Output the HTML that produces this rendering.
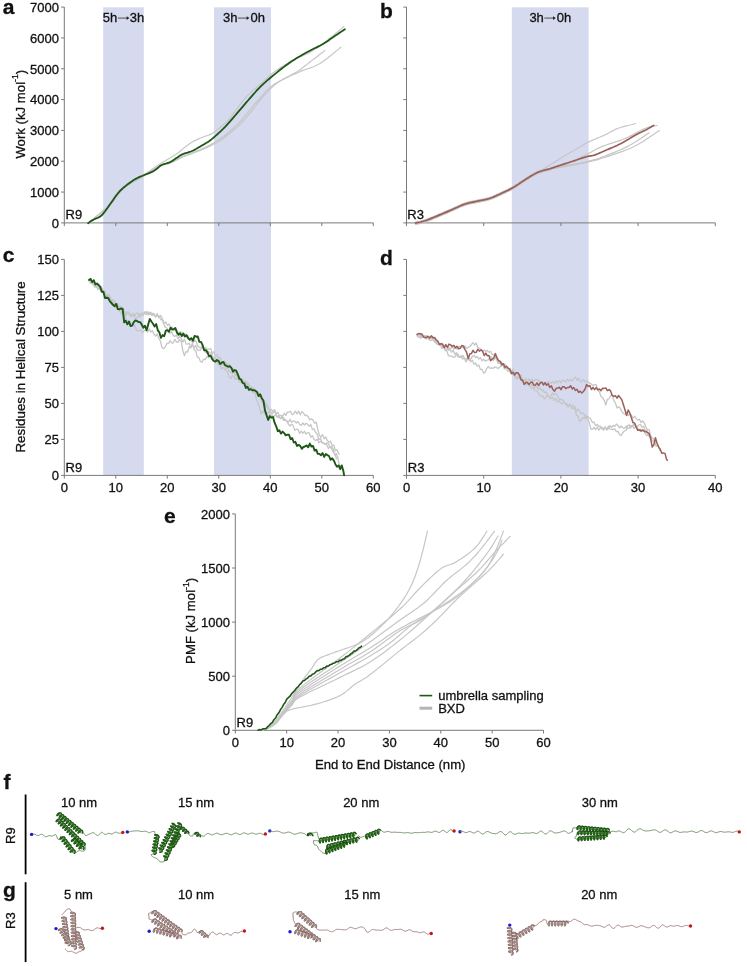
<!DOCTYPE html>
<html><head><meta charset="utf-8"><title>Figure</title>
<style>
html,body{margin:0;padding:0;background:#fff;}
body{width:747px;height:966px;overflow:hidden;}
svg{display:block;font-family:"Liberation Sans", sans-serif;fill:#000;will-change:transform;}
text{fill:#111;stroke:#111;stroke-width:0.3px;}
</style></head><body>
<svg width="747" height="966" viewBox="0 0 747 966">
<rect x="103.2" y="7.3" width="40.6" height="468.1" fill="#d6daee"/>
<rect x="214.0" y="7.3" width="57.0" height="468.1" fill="#d6daee"/>
<rect x="511.8" y="7.3" width="76.8" height="468.1" fill="#d6daee"/>
<line x1="64.3" y1="7.0" x2="64.3" y2="226.1" stroke="#7a7a7a" stroke-width="1"/>
<line x1="61.099999999999994" y1="222.9" x2="373.3" y2="222.9" stroke="#7a7a7a" stroke-width="1"/>
<line x1="61.099999999999994" y1="192.07" x2="64.3" y2="192.07" stroke="#7a7a7a" stroke-width="1"/>
<line x1="61.099999999999994" y1="161.24" x2="64.3" y2="161.24" stroke="#7a7a7a" stroke-width="1"/>
<line x1="61.099999999999994" y1="130.41000000000003" x2="64.3" y2="130.41000000000003" stroke="#7a7a7a" stroke-width="1"/>
<line x1="61.099999999999994" y1="99.58000000000001" x2="64.3" y2="99.58000000000001" stroke="#7a7a7a" stroke-width="1"/>
<line x1="61.099999999999994" y1="68.75000000000003" x2="64.3" y2="68.75000000000003" stroke="#7a7a7a" stroke-width="1"/>
<line x1="61.099999999999994" y1="37.920000000000016" x2="64.3" y2="37.920000000000016" stroke="#7a7a7a" stroke-width="1"/>
<line x1="61.099999999999994" y1="7.090000000000003" x2="64.3" y2="7.090000000000003" stroke="#7a7a7a" stroke-width="1"/>
<line x1="115.8" y1="222.9" x2="115.8" y2="226.1" stroke="#7a7a7a" stroke-width="1"/>
<line x1="167.3" y1="222.9" x2="167.3" y2="226.1" stroke="#7a7a7a" stroke-width="1"/>
<line x1="218.8" y1="222.9" x2="218.8" y2="226.1" stroke="#7a7a7a" stroke-width="1"/>
<line x1="270.3" y1="222.9" x2="270.3" y2="226.1" stroke="#7a7a7a" stroke-width="1"/>
<line x1="321.8" y1="222.9" x2="321.8" y2="226.1" stroke="#7a7a7a" stroke-width="1"/>
<line x1="373.3" y1="222.9" x2="373.3" y2="226.1" stroke="#7a7a7a" stroke-width="1"/>
<text x="58.9" y="227.70000000000002" font-size="13" text-anchor="end" font-weight="normal" >0</text>
<text x="58.9" y="196.87" font-size="13" text-anchor="end" font-weight="normal" >1000</text>
<text x="58.9" y="166.04000000000002" font-size="13" text-anchor="end" font-weight="normal" >2000</text>
<text x="58.9" y="135.21000000000004" font-size="13" text-anchor="end" font-weight="normal" >3000</text>
<text x="58.9" y="104.38000000000001" font-size="13" text-anchor="end" font-weight="normal" >4000</text>
<text x="58.9" y="73.55000000000003" font-size="13" text-anchor="end" font-weight="normal" >5000</text>
<text x="58.9" y="42.72000000000001" font-size="13" text-anchor="end" font-weight="normal" >6000</text>
<text x="58.9" y="11.890000000000004" font-size="13" text-anchor="end" font-weight="normal" >7000</text>
<line x1="406.5" y1="7.0" x2="406.5" y2="226.1" stroke="#7a7a7a" stroke-width="1"/>
<line x1="403.3" y1="222.9" x2="715.3" y2="222.9" stroke="#7a7a7a" stroke-width="1"/>
<line x1="403.3" y1="192.07" x2="406.5" y2="192.07" stroke="#7a7a7a" stroke-width="1"/>
<line x1="403.3" y1="161.24" x2="406.5" y2="161.24" stroke="#7a7a7a" stroke-width="1"/>
<line x1="403.3" y1="130.41000000000003" x2="406.5" y2="130.41000000000003" stroke="#7a7a7a" stroke-width="1"/>
<line x1="403.3" y1="99.58000000000001" x2="406.5" y2="99.58000000000001" stroke="#7a7a7a" stroke-width="1"/>
<line x1="403.3" y1="68.75000000000003" x2="406.5" y2="68.75000000000003" stroke="#7a7a7a" stroke-width="1"/>
<line x1="403.3" y1="37.920000000000016" x2="406.5" y2="37.920000000000016" stroke="#7a7a7a" stroke-width="1"/>
<line x1="403.3" y1="7.090000000000003" x2="406.5" y2="7.090000000000003" stroke="#7a7a7a" stroke-width="1"/>
<line x1="483.7" y1="222.9" x2="483.7" y2="226.1" stroke="#7a7a7a" stroke-width="1"/>
<line x1="560.9" y1="222.9" x2="560.9" y2="226.1" stroke="#7a7a7a" stroke-width="1"/>
<line x1="638.1" y1="222.9" x2="638.1" y2="226.1" stroke="#7a7a7a" stroke-width="1"/>
<line x1="715.3" y1="222.9" x2="715.3" y2="226.1" stroke="#7a7a7a" stroke-width="1"/>
<line x1="64.3" y1="259.4" x2="64.3" y2="478.59999999999997" stroke="#7a7a7a" stroke-width="1"/>
<line x1="61.099999999999994" y1="475.4" x2="373.3" y2="475.4" stroke="#7a7a7a" stroke-width="1"/>
<line x1="61.099999999999994" y1="439.4" x2="64.3" y2="439.4" stroke="#7a7a7a" stroke-width="1"/>
<line x1="61.099999999999994" y1="403.4" x2="64.3" y2="403.4" stroke="#7a7a7a" stroke-width="1"/>
<line x1="61.099999999999994" y1="367.4" x2="64.3" y2="367.4" stroke="#7a7a7a" stroke-width="1"/>
<line x1="61.099999999999994" y1="331.4" x2="64.3" y2="331.4" stroke="#7a7a7a" stroke-width="1"/>
<line x1="61.099999999999994" y1="295.4" x2="64.3" y2="295.4" stroke="#7a7a7a" stroke-width="1"/>
<line x1="61.099999999999994" y1="259.4" x2="64.3" y2="259.4" stroke="#7a7a7a" stroke-width="1"/>
<line x1="115.8" y1="475.4" x2="115.8" y2="478.59999999999997" stroke="#7a7a7a" stroke-width="1"/>
<line x1="167.3" y1="475.4" x2="167.3" y2="478.59999999999997" stroke="#7a7a7a" stroke-width="1"/>
<line x1="218.8" y1="475.4" x2="218.8" y2="478.59999999999997" stroke="#7a7a7a" stroke-width="1"/>
<line x1="270.3" y1="475.4" x2="270.3" y2="478.59999999999997" stroke="#7a7a7a" stroke-width="1"/>
<line x1="321.8" y1="475.4" x2="321.8" y2="478.59999999999997" stroke="#7a7a7a" stroke-width="1"/>
<line x1="373.3" y1="475.4" x2="373.3" y2="478.59999999999997" stroke="#7a7a7a" stroke-width="1"/>
<text x="58.9" y="480.2" font-size="13" text-anchor="end" font-weight="normal" >0</text>
<text x="58.9" y="444.2" font-size="13" text-anchor="end" font-weight="normal" >25</text>
<text x="58.9" y="408.2" font-size="13" text-anchor="end" font-weight="normal" >50</text>
<text x="58.9" y="372.2" font-size="13" text-anchor="end" font-weight="normal" >75</text>
<text x="58.9" y="336.2" font-size="13" text-anchor="end" font-weight="normal" >100</text>
<text x="58.9" y="300.2" font-size="13" text-anchor="end" font-weight="normal" >125</text>
<text x="58.9" y="264.2" font-size="13" text-anchor="end" font-weight="normal" >150</text>
<text x="64.3" y="491.59999999999997" font-size="13" text-anchor="middle" font-weight="normal" >0</text>
<text x="115.8" y="491.59999999999997" font-size="13" text-anchor="middle" font-weight="normal" >10</text>
<text x="167.3" y="491.59999999999997" font-size="13" text-anchor="middle" font-weight="normal" >20</text>
<text x="218.8" y="491.59999999999997" font-size="13" text-anchor="middle" font-weight="normal" >30</text>
<text x="270.3" y="491.59999999999997" font-size="13" text-anchor="middle" font-weight="normal" >40</text>
<text x="321.8" y="491.59999999999997" font-size="13" text-anchor="middle" font-weight="normal" >50</text>
<text x="373.3" y="491.59999999999997" font-size="13" text-anchor="middle" font-weight="normal" >60</text>
<line x1="406.5" y1="259.4" x2="406.5" y2="478.59999999999997" stroke="#7a7a7a" stroke-width="1"/>
<line x1="403.3" y1="475.4" x2="715.3" y2="475.4" stroke="#7a7a7a" stroke-width="1"/>
<line x1="403.3" y1="439.4" x2="406.5" y2="439.4" stroke="#7a7a7a" stroke-width="1"/>
<line x1="403.3" y1="403.4" x2="406.5" y2="403.4" stroke="#7a7a7a" stroke-width="1"/>
<line x1="403.3" y1="367.4" x2="406.5" y2="367.4" stroke="#7a7a7a" stroke-width="1"/>
<line x1="403.3" y1="331.4" x2="406.5" y2="331.4" stroke="#7a7a7a" stroke-width="1"/>
<line x1="403.3" y1="295.4" x2="406.5" y2="295.4" stroke="#7a7a7a" stroke-width="1"/>
<line x1="403.3" y1="259.4" x2="406.5" y2="259.4" stroke="#7a7a7a" stroke-width="1"/>
<line x1="483.7" y1="475.4" x2="483.7" y2="478.59999999999997" stroke="#7a7a7a" stroke-width="1"/>
<line x1="560.9" y1="475.4" x2="560.9" y2="478.59999999999997" stroke="#7a7a7a" stroke-width="1"/>
<line x1="638.1" y1="475.4" x2="638.1" y2="478.59999999999997" stroke="#7a7a7a" stroke-width="1"/>
<line x1="715.3" y1="475.4" x2="715.3" y2="478.59999999999997" stroke="#7a7a7a" stroke-width="1"/>
<text x="406.5" y="491.59999999999997" font-size="13" text-anchor="middle" font-weight="normal" >0</text>
<text x="483.7" y="491.59999999999997" font-size="13" text-anchor="middle" font-weight="normal" >10</text>
<text x="560.9" y="491.59999999999997" font-size="13" text-anchor="middle" font-weight="normal" >20</text>
<text x="638.1" y="491.59999999999997" font-size="13" text-anchor="middle" font-weight="normal" >30</text>
<text x="715.3" y="491.59999999999997" font-size="13" text-anchor="middle" font-weight="normal" >40</text>
<line x1="235.3" y1="513.9" x2="235.3" y2="733.5" stroke="#7a7a7a" stroke-width="1"/>
<line x1="232.10000000000002" y1="730.3" x2="543.52" y2="730.3" stroke="#7a7a7a" stroke-width="1"/>
<line x1="232.10000000000002" y1="676.1999999999999" x2="235.3" y2="676.1999999999999" stroke="#7a7a7a" stroke-width="1"/>
<line x1="232.10000000000002" y1="622.0999999999999" x2="235.3" y2="622.0999999999999" stroke="#7a7a7a" stroke-width="1"/>
<line x1="232.10000000000002" y1="568.0" x2="235.3" y2="568.0" stroke="#7a7a7a" stroke-width="1"/>
<line x1="232.10000000000002" y1="513.9" x2="235.3" y2="513.9" stroke="#7a7a7a" stroke-width="1"/>
<line x1="286.67" y1="730.3" x2="286.67" y2="733.5" stroke="#7a7a7a" stroke-width="1"/>
<line x1="338.04" y1="730.3" x2="338.04" y2="733.5" stroke="#7a7a7a" stroke-width="1"/>
<line x1="389.40999999999997" y1="730.3" x2="389.40999999999997" y2="733.5" stroke="#7a7a7a" stroke-width="1"/>
<line x1="440.78" y1="730.3" x2="440.78" y2="733.5" stroke="#7a7a7a" stroke-width="1"/>
<line x1="492.15" y1="730.3" x2="492.15" y2="733.5" stroke="#7a7a7a" stroke-width="1"/>
<line x1="543.52" y1="730.3" x2="543.52" y2="733.5" stroke="#7a7a7a" stroke-width="1"/>
<text x="229.9" y="735.0999999999999" font-size="13" text-anchor="end" font-weight="normal" >0</text>
<text x="229.9" y="680.9999999999999" font-size="13" text-anchor="end" font-weight="normal" >500</text>
<text x="229.9" y="626.8999999999999" font-size="13" text-anchor="end" font-weight="normal" >1000</text>
<text x="229.9" y="572.8" font-size="13" text-anchor="end" font-weight="normal" >1500</text>
<text x="229.9" y="518.6999999999999" font-size="13" text-anchor="end" font-weight="normal" >2000</text>
<text x="235.3" y="746.5" font-size="13" text-anchor="middle" font-weight="normal" >0</text>
<text x="286.67" y="746.5" font-size="13" text-anchor="middle" font-weight="normal" >10</text>
<text x="338.04" y="746.5" font-size="13" text-anchor="middle" font-weight="normal" >20</text>
<text x="389.40999999999997" y="746.5" font-size="13" text-anchor="middle" font-weight="normal" >30</text>
<text x="440.78" y="746.5" font-size="13" text-anchor="middle" font-weight="normal" >40</text>
<text x="492.15" y="746.5" font-size="13" text-anchor="middle" font-weight="normal" >50</text>
<text x="543.52" y="746.5" font-size="13" text-anchor="middle" font-weight="normal" >60</text>
<text x="2.75" y="14.1" font-size="21" text-anchor="start" font-weight="bold" >a</text>
<text x="379.9" y="17.7" font-size="21" text-anchor="start" font-weight="bold" >b</text>
<text x="2.85" y="261.6" font-size="21" text-anchor="start" font-weight="bold" >c</text>
<text x="379.9" y="264.7" font-size="21" text-anchor="start" font-weight="bold" >d</text>
<text x="163.9" y="522.6" font-size="21" text-anchor="start" font-weight="bold" >e</text>
<text x="3.6" y="788.7" font-size="21" text-anchor="start" font-weight="bold" >f</text>
<text x="3.0" y="897.4" font-size="21" text-anchor="start" font-weight="bold" >g</text>
<text x="102.8" y="21.6" font-size="13" text-anchor="start" font-weight="normal" >5h</text>
<text x="144.2" y="21.6" font-size="13" text-anchor="end" font-weight="normal" >3h</text>
<line x1="117.9" y1="18.1" x2="127.9" y2="18.1" stroke="#707070" stroke-width="1.3"/>
<path d="M126.60000000000001,16.200000000000003 L129.4,18.1 L126.60000000000001,20.0 Z" fill="#222"/>
<text x="223.0" y="21.6" font-size="13" text-anchor="start" font-weight="normal" >3h</text>
<text x="264.9" y="21.6" font-size="13" text-anchor="end" font-weight="normal" >0h</text>
<line x1="237.9" y1="18.1" x2="247.9" y2="18.1" stroke="#707070" stroke-width="1.3"/>
<path d="M246.6,16.200000000000003 L249.4,18.1 L246.6,20.0 Z" fill="#222"/>
<text x="529.4" y="21.6" font-size="13" text-anchor="start" font-weight="normal" >3h</text>
<text x="571.3" y="21.6" font-size="13" text-anchor="end" font-weight="normal" >0h</text>
<line x1="544.3" y1="18.1" x2="554.3" y2="18.1" stroke="#707070" stroke-width="1.3"/>
<path d="M553.0,16.200000000000003 L555.8,18.1 L553.0,20.0 Z" fill="#222"/>
<text x="65.6" y="219.0" font-size="13" text-anchor="start" font-weight="normal" >R9</text>
<text x="407.3" y="218.8" font-size="13" text-anchor="start" font-weight="normal" >R3</text>
<text x="65.6" y="472.0" font-size="13" text-anchor="start" font-weight="normal" >R9</text>
<text x="407.8" y="472.0" font-size="13" text-anchor="start" font-weight="normal" >R3</text>
<text x="236.6" y="726.5" font-size="13" text-anchor="start" font-weight="normal" >R9</text>
<text transform="translate(24.7,158.6) rotate(-90)" font-size="13.2">Work (kJ mol<tspan font-size="8.6" dy="-6.5">-1</tspan><tspan dy="6.5">)</tspan></text>
<text transform="translate(24.8,452.6) rotate(-90)" font-size="13.35">Residues in Helical Structure</text>
<text transform="translate(195.1,663.9) rotate(-90)" font-size="13.2">PMF (kJ mol<tspan font-size="8.6" dy="-6.5">-1</tspan><tspan dy="6.5">)</tspan></text>
<text x="315.0" y="768.5" font-size="13.15">End to End Distance (nm)</text>
<line x1="419.5" y1="695.6" x2="432.2" y2="695.6" stroke="#1f5716" stroke-width="1.6"/>
<line x1="419.5" y1="708.2" x2="432.2" y2="708.2" stroke="#b4b4b4" stroke-width="3"/>
<text x="438.2" y="699.6" font-size="13" text-anchor="start" font-weight="normal" >umbrella sampling</text>
<text x="438.2" y="712.8" font-size="13" text-anchor="start" font-weight="normal" >BXD</text>
<path d="M88.1,223.2 L89.9,221.7 L92.4,219.6 L95.4,217.1 L98.7,214.4 L102.0,211.6 L105.3,208.7 L108.3,206.0 L110.9,203.6 L113.0,201.4 L114.8,199.2 L116.3,197.1 L117.8,195.1 L119.2,193.1 L120.7,191.2 L122.4,189.3 L124.3,187.5 L126.5,185.8 L128.9,184.2 L131.5,182.6 L134.2,181.1 L136.8,179.7 L139.4,178.2 L142.0,176.9 L144.3,175.5 L146.5,174.1 L148.6,172.8 L150.7,171.4 L152.7,170.1 L154.7,168.9 L156.5,167.7 L158.3,166.7 L160.0,165.8 L161.6,165.1 L163.0,164.5 L164.4,164.1 L165.7,163.8 L166.9,163.5 L168.1,163.2 L169.4,162.8 L170.7,162.3 L172.0,161.7 L173.4,161.1 L174.7,160.4 L176.0,159.6 L177.4,158.9 L178.7,158.2 L180.1,157.5 L181.4,156.9 L182.7,156.3 L184.1,155.8 L185.4,155.2 L186.8,154.7 L188.1,154.2 L189.4,153.7 L190.8,153.2 L192.1,152.7 L193.4,152.2 L194.8,151.7 L196.1,151.1 L197.4,150.6 L198.8,150.1 L200.1,149.6 L201.5,149.0 L202.8,148.4 L204.1,147.8 L205.5,147.2 L206.8,146.5 L208.2,145.9 L209.5,145.2 L210.8,144.5 L212.2,143.8 L213.5,143.0 L214.8,142.2 L216.2,141.4 L217.5,140.6 L218.8,139.8 L220.2,139.0 L221.5,138.1 L222.9,137.1 L224.2,136.1 L225.6,135.0 L227.0,133.8 L228.5,132.5 L230.0,131.1 L231.4,129.8 L232.7,128.5 L233.9,127.4 L235.0,126.4 L235.9,125.6 L236.5,125.0 L237.0,124.6 L237.5,124.2 L237.9,123.8 L238.5,123.3 L239.1,122.6 L240.0,121.6 L241.1,120.4 L242.3,118.9 L243.7,117.3 L245.1,115.6 L246.6,113.8 L248.1,112.0 L249.5,110.3 L250.9,108.7 L252.2,107.2 L253.5,105.7 L254.7,104.2 L256.0,102.7 L257.2,101.3 L258.4,99.9 L259.7,98.4 L261.0,97.0 L262.3,95.6 L263.6,94.1 L265.0,92.6 L266.3,91.1 L267.7,89.7 L269.1,88.3 L270.4,87.1 L271.8,85.9 L273.2,84.9 L274.5,84.0 L275.8,83.2 L277.2,82.5 L278.5,81.7 L280.0,81.0 L281.4,80.3 L283.0,79.4 L284.7,78.5 L286.4,77.5 L288.3,76.6 L290.2,75.6 L292.0,74.6 L293.9,73.5 L295.7,72.5 L297.5,71.4 L299.2,70.3 L300.8,69.2 L302.3,68.0 L303.9,66.8 L305.5,65.6 L307.0,64.4 L308.6,63.1 L310.3,61.8 L312.1,60.4 L314.1,58.8 L316.3,57.2 L318.4,55.5 L320.3,54.0 L322.2,52.6 L323.7,51.4 L324.8,50.5" fill="none" stroke="#c6c6c6" stroke-width="1.2" stroke-linejoin="round" stroke-linecap="round" />
<path d="M88.1,223.2 L89.9,221.7 L92.4,219.6 L95.4,217.2 L98.7,214.5 L102.0,211.7 L105.3,208.9 L108.3,206.2 L110.9,203.8 L113.0,201.6 L114.8,199.5 L116.3,197.4 L117.8,195.3 L119.2,193.4 L120.7,191.4 L122.4,189.6 L124.3,187.8 L126.5,186.1 L128.9,184.5 L131.5,182.9 L134.2,181.4 L136.8,179.9 L139.4,178.5 L142.0,177.2 L144.3,175.8 L146.5,174.5 L148.6,173.1 L150.7,171.8 L152.7,170.5 L154.7,169.3 L156.5,168.2 L158.3,167.2 L160.0,166.3 L161.6,165.6 L163.0,165.1 L164.4,164.7 L165.7,164.4 L166.9,164.1 L168.1,163.8 L169.4,163.5 L170.7,163.0 L172.0,162.4 L173.4,161.8 L174.7,161.1 L176.0,160.3 L177.4,159.6 L178.7,158.9 L180.1,158.2 L181.4,157.6 L182.7,157.0 L184.1,156.5 L185.4,156.0 L186.8,155.5 L188.1,155.0 L189.4,154.5 L190.8,154.0 L192.1,153.5 L193.4,153.0 L194.8,152.5 L196.1,152.0 L197.4,151.5 L198.8,151.0 L200.1,150.5 L201.5,150.0 L202.8,149.4 L204.1,148.8 L205.5,148.2 L206.8,147.6 L208.2,146.9 L209.5,146.3 L210.8,145.6 L212.2,144.9 L213.5,144.2 L214.8,143.5 L216.1,142.8 L217.3,142.2 L218.5,141.5 L219.8,140.7 L221.2,139.8 L222.6,138.9 L224.2,137.7 L226.0,136.3 L227.9,134.8 L230.0,133.1 L232.1,131.3 L234.3,129.5 L236.3,127.7 L238.3,125.9 L240.0,124.3 L241.5,122.8 L242.9,121.4 L244.1,120.0 L245.3,118.7 L246.4,117.3 L247.6,116.0 L248.7,114.5 L250.0,113.0 L251.3,111.4 L252.7,109.6 L254.1,107.8 L255.5,106.0 L256.8,104.2 L258.2,102.4 L259.6,100.6 L261.0,99.0 L262.4,97.4 L263.7,95.9 L265.1,94.3 L266.5,92.8 L267.8,91.4 L269.2,90.0 L270.5,88.7 L271.8,87.5 L273.0,86.4 L274.1,85.4 L275.1,84.5 L276.1,83.7 L277.1,82.9 L278.3,82.0 L279.7,81.2 L281.4,80.2 L283.3,79.2 L285.5,78.1 L287.9,77.0 L290.4,75.8 L293.0,74.7 L295.6,73.6 L298.2,72.5 L300.7,71.4 L303.1,70.4 L305.5,69.5 L307.9,68.7 L310.3,67.9 L312.7,67.0 L315.1,66.0 L317.5,64.8 L320.0,63.4 L322.7,61.7 L325.6,59.6 L328.6,57.2 L331.6,54.9 L334.5,52.5 L337.0,50.4 L339.2,48.6 L340.8,47.3" fill="none" stroke="#c6c6c6" stroke-width="1.2" stroke-linejoin="round" stroke-linecap="round" />
<path d="M88.1,223.2 L89.0,222.6 L90.3,221.9 L91.8,221.1 L93.5,220.2 L95.2,219.1 L97.0,218.0 L98.7,216.8 L100.2,215.5 L101.6,214.1 L102.9,212.6 L104.2,211.0 L105.5,209.3 L106.8,207.6 L108.1,205.8 L109.4,203.9 L110.9,202.1 L112.4,200.2 L113.9,198.2 L115.4,196.1 L117.0,193.9 L118.7,191.8 L120.4,189.8 L122.3,187.8 L124.3,186.0 L126.5,184.3 L128.9,182.8 L131.5,181.3 L134.2,179.9 L136.8,178.5 L139.4,177.2 L142.0,175.9 L144.3,174.5 L146.5,173.1 L148.5,171.8 L150.5,170.4 L152.4,169.1 L154.3,167.8 L156.2,166.5 L158.1,165.2 L160.0,163.9 L162.0,162.6 L164.1,161.4 L166.2,160.2 L168.3,159.0 L170.4,157.8 L172.4,156.6 L174.2,155.4 L176.0,154.3 L177.6,153.2 L179.1,152.0 L180.6,150.8 L181.9,149.7 L183.2,148.6 L184.5,147.6 L185.6,146.6 L186.8,145.7 L187.9,144.9 L188.9,144.2 L189.8,143.6 L190.7,143.0 L191.6,142.5 L192.4,141.9 L193.3,141.4 L194.3,140.9 L195.3,140.4 L196.4,139.9 L197.4,139.4 L198.5,138.9 L199.6,138.4 L200.6,138.0 L201.7,137.5 L202.8,137.1 L203.9,136.7 L204.9,136.3 L206.0,136.0 L207.1,135.7 L208.2,135.3 L209.2,134.9 L210.3,134.4 L211.4,133.9 L212.5,133.3 L213.6,132.6 L214.6,131.8 L215.7,131.0 L216.8,130.1 L217.9,129.3 L218.9,128.4 L220.0,127.5 L221.0,126.7 L221.9,126.1 L222.8,125.4 L223.7,124.8 L224.7,124.0 L225.7,123.0 L227.0,121.7 L228.5,120.0 L230.3,117.8 L232.3,115.2 L234.5,112.2 L236.8,109.0 L239.2,105.7 L241.6,102.6 L243.9,99.7 L246.1,97.1 L248.2,94.9 L250.3,92.8 L252.4,90.9 L254.4,89.2 L256.4,87.5 L258.4,85.9 L260.3,84.3 L262.1,82.7 L263.8,81.1 L265.4,79.7 L267.0,78.2 L268.4,76.9 L269.9,75.5 L271.5,74.1 L273.2,72.8 L275.0,71.4 L277.0,70.0 L279.1,68.5 L281.3,67.1 L283.6,65.6 L285.9,64.2 L288.2,62.8 L290.5,61.5 L292.7,60.2 L294.9,59.1 L297.1,58.0 L299.4,57.1 L301.6,56.1 L303.8,55.2 L306.0,54.3 L308.2,53.2 L310.3,52.1 L312.4,50.9 L314.4,49.6 L316.4,48.3 L318.4,46.9 L320.3,45.5 L322.3,44.0 L324.3,42.5 L326.4,40.9 L328.6,39.1 L331.1,37.2 L333.7,35.1 L336.2,32.9 L338.6,30.9 L340.8,29.1 L342.6,27.5 L344.0,26.4" fill="none" stroke="#c6c6c6" stroke-width="1.2" stroke-linejoin="round" stroke-linecap="round" />
<path d="M88.1,223.2 L88.5,222.9 L89.0,222.6 L89.7,222.1 L90.4,221.6 L91.1,221.1 L91.9,220.6 L92.7,220.1 L93.5,219.7 L94.3,219.3 L95.1,218.9 L96.0,218.5 L96.9,218.1 L97.8,217.8 L98.7,217.4 L99.5,216.9 L100.2,216.5 L100.8,216.1 L101.3,215.7 L101.8,215.3 L102.2,214.8 L102.6,214.4 L103.1,213.8 L103.6,213.2 L104.2,212.4 L104.9,211.5 L105.7,210.4 L106.5,209.3 L107.4,208.1 L108.3,206.8 L109.2,205.6 L110.0,204.3 L110.9,203.1 L111.7,201.9 L112.6,200.7 L113.4,199.5 L114.2,198.2 L115.1,197.0 L115.9,195.9 L116.8,194.7 L117.6,193.7 L118.4,192.7 L119.2,191.9 L119.9,191.0 L120.7,190.2 L121.5,189.5 L122.3,188.7 L123.3,187.9 L124.3,187.0 L125.5,186.1 L126.7,185.1 L128.1,184.0 L129.5,183.0 L130.9,182.0 L132.3,181.0 L133.7,180.1 L135.0,179.3 L136.2,178.6 L137.4,178.0 L138.6,177.4 L139.7,176.9 L140.9,176.4 L142.0,176.0 L143.1,175.5 L144.3,175.0 L145.5,174.5 L146.7,174.0 L147.9,173.6 L149.1,173.1 L150.3,172.6 L151.4,172.1 L152.6,171.6 L153.7,171.0 L154.8,170.3 L155.8,169.6 L156.8,168.8 L157.7,168.0 L158.7,167.1 L159.7,166.3 L160.7,165.6 L161.7,165.0 L162.8,164.5 L163.8,164.1 L164.9,163.8 L166.0,163.5 L167.2,163.2 L168.3,162.8 L169.5,162.4 L170.7,161.8 L172.0,161.1 L173.3,160.2 L174.6,159.3 L175.9,158.3 L177.3,157.4 L178.7,156.4 L180.1,155.5 L181.4,154.8 L182.8,154.2 L184.1,153.6 L185.5,153.2 L186.9,152.8 L188.2,152.4 L189.6,151.9 L190.9,151.5 L192.1,151.0 L193.3,150.5 L194.4,149.9 L195.4,149.3 L196.5,148.7 L197.5,148.1 L198.5,147.5 L199.6,146.9 L200.7,146.2 L201.9,145.5 L203.0,144.9 L204.2,144.2 L205.4,143.5 L206.6,142.8 L207.9,142.0 L209.1,141.2 L210.3,140.3 L211.5,139.4 L212.7,138.4 L214.0,137.3 L215.2,136.2 L216.4,135.1 L217.7,134.0 L218.8,132.9 L220.0,131.8 L221.1,130.8 L222.0,129.9 L222.9,129.1 L223.8,128.2 L224.7,127.3 L225.8,126.2 L227.0,124.8 L228.5,123.2 L230.3,121.2 L232.3,118.8 L234.6,116.2 L236.9,113.4 L239.3,110.6 L241.7,107.8 L244.0,105.1 L246.1,102.7 L248.0,100.5 L249.8,98.4 L251.6,96.3 L253.3,94.4 L255.0,92.5 L256.7,90.5 L258.6,88.6 L260.5,86.7 L262.6,84.7 L264.8,82.7 L267.0,80.7 L269.3,78.7 L271.6,76.8 L273.9,74.9 L276.1,73.1 L278.2,71.4 L280.2,69.8 L282.1,68.3 L284.0,66.9 L285.8,65.6 L287.6,64.3 L289.3,63.0 L291.1,61.8 L292.9,60.6 L294.7,59.4 L296.4,58.3 L298.1,57.2 L299.9,56.2 L301.6,55.2 L303.3,54.2 L305.1,53.2 L306.9,52.2 L308.8,51.2 L310.7,50.2 L312.6,49.3 L314.6,48.3 L316.6,47.4 L318.5,46.4 L320.3,45.5 L322.1,44.5 L323.8,43.5 L325.4,42.5 L327.0,41.4 L328.5,40.4 L330.0,39.3 L331.5,38.3 L333.0,37.3 L334.4,36.3 L335.9,35.3 L337.4,34.3 L338.9,33.2 L340.4,32.2 L341.8,31.3 L343.1,30.4 L344.1,29.7 L344.9,29.2" fill="none" stroke="#1f5716" stroke-width="1.8" stroke-linejoin="round" stroke-linecap="round" />
<path d="M415.6,222.1 L416.3,221.9 L417.2,221.8 L418.3,221.5 L419.5,221.3 L420.8,221.0 L422.2,220.6 L423.6,220.2 L425.0,219.8 L426.5,219.3 L428.0,218.7 L429.6,218.1 L431.3,217.4 L433.0,216.7 L434.7,216.0 L436.4,215.3 L438.1,214.6 L439.7,213.9 L441.4,213.2 L443.0,212.5 L444.7,211.8 L446.3,211.1 L447.9,210.4 L449.6,209.7 L451.2,209.0 L452.8,208.3 L454.5,207.5 L456.2,206.7 L457.9,206.0 L459.5,205.2 L461.2,204.5 L462.7,203.9 L464.3,203.3 L465.8,202.8 L467.2,202.4 L468.6,202.0 L470.0,201.7 L471.3,201.4 L472.7,201.1 L474.1,200.8 L475.6,200.5 L477.2,200.2 L478.8,199.8 L480.5,199.5 L482.2,199.2 L483.8,198.9 L485.5,198.5 L487.1,198.1 L488.7,197.7 L490.2,197.2 L491.6,196.7 L493.0,196.2 L494.3,195.6 L495.7,195.0 L497.1,194.3 L498.5,193.7 L500.0,193.0 L501.6,192.3 L503.1,191.5 L504.8,190.8 L506.4,190.0 L508.1,189.2 L509.8,188.3 L511.5,187.4 L513.1,186.5 L514.8,185.5 L516.4,184.5 L518.1,183.4 L519.8,182.2 L521.4,181.1 L523.1,180.0 L524.7,179.0 L526.2,178.0 L527.7,177.1 L529.3,176.1 L530.9,175.2 L532.4,174.3 L533.8,173.5 L535.2,172.7 L536.4,172.0 L537.4,171.5 L538.1,171.2 L538.4,171.1 L538.6,171.2 L538.6,171.3 L538.8,171.3 L539.1,171.3 L539.8,171.0 L541.0,170.3 L542.8,169.2 L545.1,167.9 L547.7,166.2 L550.6,164.5 L553.5,162.7 L556.4,160.9 L559.1,159.2 L561.4,157.8 L563.4,156.6 L565.3,155.5 L567.0,154.5 L568.7,153.5 L570.3,152.6 L571.8,151.7 L573.4,150.8 L575.1,149.8 L576.8,148.8 L578.5,147.8 L580.1,146.8 L581.8,145.8 L583.5,144.8 L585.2,143.8 L587.0,142.8 L588.8,141.9 L590.7,141.0 L592.7,140.1 L594.7,139.2 L596.8,138.4 L598.8,137.5 L600.8,136.7 L602.8,135.9 L604.7,135.0 L606.5,134.1 L608.2,133.2 L609.8,132.3 L611.4,131.4 L613.0,130.6 L614.7,129.7 L616.4,128.9 L618.3,128.2 L620.4,127.5 L622.7,126.8 L625.2,126.1 L627.7,125.5 L630.1,125.0 L632.2,124.5 L634.1,124.0 L635.4,123.7" fill="none" stroke="#c6c6c6" stroke-width="1.2" stroke-linejoin="round" stroke-linecap="round" />
<path d="M415.6,223.9 L416.3,223.7 L417.2,223.6 L418.3,223.3 L419.5,223.1 L420.8,222.8 L422.2,222.4 L423.6,222.0 L425.0,221.6 L426.5,221.1 L428.0,220.5 L429.6,219.9 L431.3,219.2 L433.0,218.5 L434.7,217.8 L436.4,217.1 L438.1,216.4 L439.7,215.7 L441.4,215.0 L443.0,214.3 L444.7,213.6 L446.3,212.9 L447.9,212.2 L449.6,211.5 L451.2,210.8 L452.8,210.1 L454.5,209.3 L456.2,208.5 L457.9,207.8 L459.5,207.0 L461.2,206.3 L462.7,205.7 L464.3,205.1 L465.8,204.6 L467.2,204.2 L468.6,203.8 L470.0,203.5 L471.3,203.2 L472.7,202.9 L474.1,202.6 L475.6,202.3 L477.2,202.0 L478.8,201.6 L480.5,201.3 L482.2,201.0 L483.8,200.7 L485.5,200.3 L487.1,199.9 L488.7,199.5 L490.2,199.0 L491.6,198.5 L493.0,198.0 L494.3,197.4 L495.7,196.8 L497.1,196.1 L498.5,195.5 L500.0,194.8 L501.6,194.1 L503.1,193.3 L504.8,192.6 L506.4,191.8 L508.1,191.0 L509.8,190.1 L511.5,189.2 L513.1,188.3 L514.8,187.3 L516.4,186.3 L518.1,185.2 L519.8,184.1 L521.4,182.9 L523.1,181.8 L524.7,180.8 L526.2,179.8 L527.7,178.9 L529.1,178.0 L530.5,177.1 L531.8,176.3 L533.2,175.5 L534.5,174.7 L535.9,174.0 L537.4,173.3 L538.9,172.7 L540.6,172.1 L542.3,171.6 L544.0,171.2 L545.6,170.7 L547.2,170.3 L548.7,169.9 L550.0,169.5 L551.1,169.1 L552.0,168.7 L552.8,168.4 L553.5,168.0 L554.2,167.7 L555.0,167.3 L555.9,167.0 L556.9,166.6 L558.0,166.3 L559.2,166.0 L560.4,165.8 L561.7,165.5 L563.2,165.2 L564.7,164.8 L566.4,164.2 L568.3,163.5 L570.5,162.5 L572.9,161.3 L575.6,160.0 L578.4,158.6 L581.2,157.1 L583.9,155.7 L586.5,154.4 L588.8,153.2 L590.8,152.2 L592.5,151.3 L594.0,150.4 L595.5,149.7 L596.9,148.9 L598.5,148.1 L600.3,147.3 L602.4,146.4 L604.8,145.5 L607.5,144.5 L610.4,143.6 L613.4,142.6 L616.5,141.6 L619.5,140.6 L622.4,139.5 L625.2,138.4 L627.9,137.2 L630.5,135.9 L633.2,134.5 L635.8,133.1 L638.3,131.8 L640.7,130.5 L642.9,129.4 L645.0,128.5 L647.0,127.8 L648.8,127.2 L650.6,126.7 L652.2,126.4 L653.7,126.1 L655.0,125.9 L656.1,125.7 L657.0,125.5" fill="none" stroke="#c6c6c6" stroke-width="1.2" stroke-linejoin="round" stroke-linecap="round" />
<path d="M415.6,224.4 L416.3,224.2 L417.2,224.1 L418.3,223.8 L419.5,223.6 L420.8,223.3 L422.2,222.9 L423.6,222.5 L425.0,222.1 L426.5,221.6 L428.0,221.0 L429.6,220.4 L431.3,219.7 L433.0,219.0 L434.7,218.3 L436.4,217.6 L438.1,216.9 L439.7,216.2 L441.4,215.5 L443.0,214.8 L444.7,214.1 L446.3,213.4 L447.9,212.7 L449.6,212.0 L451.2,211.3 L452.8,210.6 L454.5,209.8 L456.2,209.0 L457.9,208.3 L459.5,207.5 L461.2,206.8 L462.7,206.2 L464.3,205.6 L465.8,205.1 L467.2,204.7 L468.6,204.3 L470.0,204.0 L471.3,203.7 L472.7,203.4 L474.1,203.1 L475.6,202.8 L477.2,202.5 L478.8,202.1 L480.5,201.8 L482.2,201.5 L483.8,201.2 L485.5,200.8 L487.1,200.4 L488.7,200.0 L490.2,199.5 L491.6,199.0 L493.0,198.5 L494.3,197.9 L495.7,197.3 L497.1,196.6 L498.5,196.0 L500.0,195.3 L501.6,194.6 L503.1,193.8 L504.8,193.1 L506.4,192.3 L508.1,191.5 L509.8,190.6 L511.5,189.7 L513.1,188.8 L514.8,187.8 L516.4,186.8 L518.1,185.7 L519.8,184.6 L521.4,183.4 L523.1,182.3 L524.7,181.3 L526.2,180.3 L527.7,179.4 L529.1,178.5 L530.5,177.6 L531.8,176.8 L533.2,176.0 L534.5,175.2 L535.9,174.5 L537.4,173.8 L538.9,173.2 L540.6,172.6 L542.3,172.1 L544.0,171.7 L545.6,171.2 L547.2,170.8 L548.7,170.4 L550.0,170.0 L551.0,169.6 L551.5,169.3 L551.9,169.1 L552.2,168.8 L552.7,168.6 L553.6,168.3 L554.9,167.9 L556.9,167.4 L559.8,166.8 L563.4,166.1 L567.5,165.4 L572.0,164.6 L576.6,163.7 L581.0,162.9 L585.2,162.0 L588.8,161.2 L591.9,160.4 L594.7,159.6 L597.3,158.8 L599.7,158.0 L602.0,157.1 L604.4,156.3 L606.7,155.4 L609.2,154.4 L611.8,153.4 L614.3,152.4 L616.9,151.3 L619.5,150.2 L622.1,149.1 L624.7,147.9 L627.2,146.6 L629.7,145.3 L632.3,143.8 L635.1,142.1 L637.9,140.3 L640.7,138.5 L643.3,136.7 L645.6,135.1 L647.6,133.8 L649.1,132.8" fill="none" stroke="#c6c6c6" stroke-width="1.2" stroke-linejoin="round" stroke-linecap="round" />
<path d="M415.6,222.5 L416.3,222.3 L417.2,222.2 L418.3,221.9 L419.5,221.7 L420.8,221.4 L422.2,221.0 L423.6,220.6 L425.0,220.2 L426.5,219.7 L428.0,219.1 L429.6,218.5 L431.3,217.8 L433.0,217.1 L434.7,216.4 L436.4,215.7 L438.1,215.0 L439.7,214.3 L441.4,213.6 L443.0,212.9 L444.7,212.2 L446.3,211.5 L447.9,210.8 L449.6,210.1 L451.2,209.4 L452.8,208.7 L454.5,207.9 L456.2,207.1 L457.9,206.4 L459.5,205.6 L461.2,204.9 L462.7,204.3 L464.3,203.7 L465.8,203.2 L467.2,202.8 L468.6,202.4 L470.0,202.1 L471.3,201.8 L472.7,201.5 L474.1,201.2 L475.6,200.9 L477.2,200.6 L478.8,200.2 L480.5,199.9 L482.2,199.6 L483.8,199.3 L485.5,198.9 L487.1,198.5 L488.7,198.1 L490.2,197.6 L491.6,197.1 L493.0,196.6 L494.3,196.0 L495.7,195.4 L497.1,194.7 L498.5,194.1 L500.0,193.4 L501.6,192.7 L503.1,191.9 L504.8,191.2 L506.4,190.4 L508.1,189.6 L509.8,188.7 L511.5,187.8 L513.1,186.9 L514.8,185.9 L516.4,184.9 L518.1,183.8 L519.8,182.7 L521.4,181.5 L523.1,180.4 L524.7,179.4 L526.2,178.4 L527.7,177.5 L529.1,176.6 L530.5,175.7 L531.8,174.9 L533.2,174.1 L534.5,173.3 L535.9,172.6 L537.4,171.9 L538.9,171.3 L540.6,170.7 L542.3,170.1 L544.0,169.6 L545.6,169.1 L547.2,168.7 L548.7,168.4 L550.0,168.1 L551.0,168.0 L551.5,168.0 L551.9,168.1 L552.2,168.2 L552.7,168.3 L553.6,168.4 L554.9,168.3 L556.9,168.0 L559.7,167.5 L563.3,166.9 L567.3,166.2 L571.7,165.4 L576.2,164.6 L580.7,163.7 L585.0,162.8 L588.8,161.9 L592.3,161.0 L595.6,160.2 L598.8,159.3 L601.9,158.3 L604.9,157.4 L607.9,156.4 L610.8,155.4 L613.8,154.4 L616.7,153.4 L619.6,152.4 L622.5,151.4 L625.3,150.3 L628.1,149.2 L630.9,148.0 L633.7,146.7 L636.5,145.3 L639.5,143.6 L642.7,141.7 L646.0,139.5 L649.3,137.3 L652.4,135.2 L655.2,133.3 L657.5,131.7 L659.3,130.5" fill="none" stroke="#c6c6c6" stroke-width="1.2" stroke-linejoin="round" stroke-linecap="round" />
<path d="M415.6,223.1 L416.3,222.9 L417.2,222.8 L418.3,222.5 L419.5,222.3 L420.8,222.0 L422.2,221.6 L423.6,221.2 L425.0,220.8 L426.5,220.3 L428.0,219.7 L429.6,219.1 L431.3,218.4 L433.0,217.7 L434.7,217.0 L436.4,216.3 L438.1,215.6 L439.7,214.9 L441.4,214.2 L443.0,213.5 L444.7,212.8 L446.3,212.1 L447.9,211.4 L449.6,210.7 L451.2,210.0 L452.8,209.3 L454.5,208.5 L456.2,207.7 L457.9,207.0 L459.5,206.2 L461.2,205.5 L462.7,204.9 L464.3,204.3 L465.8,203.8 L467.2,203.4 L468.6,203.0 L470.0,202.7 L471.3,202.4 L472.7,202.1 L474.1,201.8 L475.6,201.5 L477.2,201.2 L478.8,200.8 L480.5,200.5 L482.2,200.2 L483.8,199.9 L485.5,199.5 L487.1,199.1 L488.7,198.7 L490.2,198.2 L491.6,197.7 L493.0,197.2 L494.3,196.6 L495.7,196.0 L497.1,195.3 L498.5,194.7 L500.0,194.0 L501.6,193.3 L503.1,192.5 L504.8,191.8 L506.4,191.0 L508.1,190.2 L509.8,189.3 L511.5,188.4 L513.1,187.5 L514.8,186.5 L516.4,185.5 L518.1,184.4 L519.8,183.2 L521.4,182.1 L523.1,181.0 L524.7,180.0 L526.2,179.0 L527.7,178.1 L529.1,177.2 L530.5,176.3 L531.8,175.5 L533.2,174.7 L534.5,173.9 L535.9,173.2 L537.4,172.5 L538.9,171.9 L540.6,171.3 L542.3,170.8 L544.0,170.3 L545.6,169.9 L547.2,169.5 L548.7,169.1 L550.0,168.7 L551.1,168.4 L551.9,168.1 L552.6,167.9 L553.2,167.6 L553.9,167.4 L554.7,167.1 L555.6,166.8 L556.9,166.4 L558.5,165.9 L560.3,165.3 L562.3,164.6 L564.4,163.9 L566.6,163.2 L568.8,162.5 L570.9,161.8 L572.8,161.2 L574.7,160.6 L576.5,160.0 L578.4,159.3 L580.1,158.7 L581.9,158.1 L583.5,157.6 L585.1,157.1 L586.5,156.7 L587.7,156.4 L588.8,156.2 L589.7,156.1 L590.5,155.9 L591.3,155.8 L592.2,155.7 L593.2,155.5 L594.4,155.1 L595.7,154.6 L597.2,154.1 L598.7,153.4 L600.3,152.7 L602.0,152.0 L603.7,151.3 L605.3,150.5 L607.0,149.8 L608.6,149.1 L610.3,148.4 L611.9,147.7 L613.6,147.0 L615.3,146.2 L617.0,145.5 L618.8,144.6 L620.6,143.7 L622.5,142.7 L624.6,141.5 L626.7,140.3 L628.8,139.1 L630.9,137.8 L632.9,136.6 L634.8,135.5 L636.5,134.6 L638.0,133.8 L639.3,133.1 L640.5,132.5 L641.6,132.0 L642.6,131.5 L643.6,131.0 L644.7,130.5 L645.7,130.0 L646.8,129.4 L648.0,128.8 L649.1,128.1 L650.2,127.5 L651.3,126.9 L652.2,126.3 L653.0,125.8 L653.6,125.5" fill="none" stroke="#9a5f5a" stroke-width="1.7" stroke-linejoin="round" stroke-linecap="round" />
<path d="M89.0,281.0 L90.6,280.7 L92.2,283.6 L93.8,285.3 L95.4,283.6 L97.0,286.4 L98.6,284.3 L100.2,286.4 L101.8,287.4 L103.4,291.6 L105.0,291.1 L106.6,295.6 L108.2,294.1 L109.8,295.6 L111.4,299.9 L113.0,300.0 L114.6,301.1 L116.2,305.4 L117.8,303.6 L119.4,307.0 L121.0,306.2 L122.6,310.8 L124.2,311.1 L125.8,315.5 L127.4,313.2 L129.0,314.2 L130.6,316.6 L132.2,315.2 L133.8,315.7 L135.4,318.7 L137.0,318.1 L138.6,315.3 L140.2,317.1 L141.8,314.2 L143.4,315.2 L145.0,312.0 L146.6,312.0 L148.2,314.8 L149.8,312.3 L151.4,315.3 L153.0,313.3 L154.6,316.0 L156.2,316.7 L157.8,315.2 L159.4,316.6 L161.0,320.0 L162.6,319.5 L164.2,323.3 L165.8,322.0 L167.4,325.5 L169.0,324.0 L170.6,327.8 L172.2,327.1 L173.8,330.5 L175.4,329.5 L177.0,330.2 L178.6,333.5 L180.2,331.9 L181.8,332.1 L183.4,336.0 L185.0,333.7 L186.6,337.4 L188.2,336.0 L189.8,340.1 L191.4,341.1 L193.0,342.9 L194.6,340.3 L196.2,341.4 L197.8,346.3 L199.4,347.5 L201.0,347.5 L202.6,346.3 L204.2,349.7 L205.8,347.3 L207.4,349.9 L209.0,349.0 L210.6,348.5 L212.2,353.3 L213.8,351.7 L215.4,355.9 L217.0,354.7 L218.6,358.5 L220.2,357.4 L221.8,361.5 L223.4,362.5 L225.0,361.1 L226.6,364.3 L228.2,363.7 L229.8,364.8 L231.4,369.6 L233.0,368.6 L234.6,373.0 L236.2,372.0 L237.8,376.7 L239.4,376.0 L241.0,380.4 L242.6,381.2 L244.2,383.3 L245.8,384.2 L247.4,382.1 L249.0,384.6 L250.6,387.5 L252.2,389.2 L253.8,388.2 L255.4,391.3 L257.0,394.8 L258.6,393.5 L260.2,396.6 L261.8,400.9 L263.4,403.3 L265.0,402.4 L266.6,403.6 L268.2,408.5 L269.8,410.4 L271.4,409.3 L273.0,411.5 L274.6,409.8 L276.2,413.8 L277.8,412.3 L279.4,415.8 L281.0,415.4 L282.6,416.2 L284.2,413.4 L285.8,415.4 L287.4,412.1 L289.0,412.2 L290.6,411.3 L292.2,414.7 L293.8,413.7 L295.4,411.2 L297.0,413.9 L298.6,411.1 L300.2,414.8 L301.8,411.6 L303.4,412.8 L305.0,415.7 L306.6,415.2 L308.2,416.7 L309.8,420.0 L311.4,418.7 L313.0,420.1 L314.6,423.1 L316.2,422.1 L317.8,429.5 L319.4,435.3 L321.0,437.1 L322.6,434.6 L324.2,438.8 L325.8,436.9 L327.4,440.7 L329.0,441.9 L330.6,441.1 L332.2,445.8 L333.8,445.0 L335.4,450.8 L337.0,449.6 L338.6,453.7 L339.3,454.0" fill="none" stroke="#c6c6c6" stroke-width="1.3" stroke-linejoin="round" stroke-linecap="round" />
<path d="M90.0,283.0 L91.6,282.6 L93.2,283.6 L94.8,287.3 L96.4,285.5 L98.0,289.5 L99.6,287.7 L101.2,291.9 L102.8,291.3 L104.4,291.7 L106.0,296.9 L107.6,296.5 L109.2,299.5 L110.8,299.7 L112.4,303.5 L114.0,302.1 L115.6,307.0 L117.2,305.5 L118.8,309.6 L120.4,312.3 L122.0,314.1 L123.6,313.7 L125.2,317.5 L126.8,320.0 L128.4,321.5 L130.0,323.8 L131.6,322.7 L133.2,323.9 L134.8,325.6 L136.4,329.9 L138.0,331.0 L139.6,330.5 L141.2,330.3 L142.8,332.6 L144.4,330.7 L146.0,330.2 L147.6,332.0 L149.2,328.8 L150.8,332.1 L152.4,330.7 L154.0,334.2 L155.6,336.2 L157.2,334.0 L158.8,338.2 L160.4,341.0 L162.0,347.5 L163.6,348.7 L165.2,347.0 L166.8,343.4 L168.4,343.7 L170.0,340.6 L171.6,343.0 L173.2,342.8 L174.8,339.4 L176.4,341.8 L178.0,342.4 L179.6,339.6 L181.2,341.2 L182.8,350.6 L184.4,355.7 L186.0,351.6 L187.6,352.2 L189.2,346.7 L190.8,348.1 L192.4,343.3 L194.0,349.5 L195.6,350.5 L197.2,356.8 L198.8,357.6 L200.4,361.3 L202.0,362.2 L203.6,359.2 L205.2,359.7 L206.8,356.5 L208.4,357.8 L210.0,356.2 L211.6,354.2 L213.2,358.2 L214.8,357.6 L216.4,359.4 L218.0,364.8 L219.6,363.6 L221.2,369.0 L222.8,367.4 L224.4,368.6 L226.0,370.6 L227.6,372.0 L229.2,377.1 L230.8,378.5 L232.4,375.6 L234.0,376.4 L235.6,379.6 L237.2,377.5 L238.8,381.1 L240.4,382.2 L242.0,382.8 L243.6,384.4 L245.2,382.5 L246.8,387.3 L248.4,385.5 L250.0,389.2 L251.6,388.3 L253.2,392.8 L254.8,391.6 L256.4,399.2 L258.0,402.9 L259.6,408.2 L261.2,414.2 L262.8,410.7 L264.4,413.4 L266.0,414.0 L267.6,413.2 L269.2,411.5 L270.8,414.5 L272.4,415.7 L274.0,416.6 L275.6,414.5 L277.2,417.1 L278.8,415.6 L280.4,418.8 L282.0,416.5 L283.6,417.7 L285.2,420.3 L286.8,421.0 L288.4,422.2 L290.0,419.4 L291.6,422.2 L293.2,421.1 L294.8,421.1 L296.4,423.0 L298.0,421.5 L299.6,424.5 L301.2,425.3 L302.8,422.9 L304.4,425.0 L306.0,423.3 L307.6,424.1 L309.2,426.4 L310.8,424.4 L312.4,429.5 L314.0,428.8 L315.6,432.4 L317.2,434.2 L318.8,439.8 L320.4,438.1 L322.0,442.3 L323.6,443.6 L325.2,444.2 L326.8,443.0 L328.4,443.2 L330.0,447.5 L331.6,446.5 L333.2,448.8 L334.8,454.9 L336.4,453.7 L338.0,458.0" fill="none" stroke="#c6c6c6" stroke-width="1.3" stroke-linejoin="round" stroke-linecap="round" />
<path d="M90.0,282.0 L91.6,281.4 L93.2,284.7 L94.8,283.7 L96.4,287.5 L98.0,285.3 L99.6,289.2 L101.2,288.0 L102.8,292.8 L104.4,290.9 L106.0,296.0 L107.6,295.0 L109.2,297.2 L110.8,301.5 L112.4,300.5 L114.0,300.7 L115.6,305.2 L117.2,304.4 L118.8,307.6 L120.4,307.5 L122.0,311.0 L123.6,309.3 L125.2,312.9 L126.8,312.1 L128.4,311.9 L130.0,313.5 L131.6,316.2 L133.2,313.3 L134.8,315.6 L136.4,313.2 L138.0,313.0 L139.6,315.9 L141.2,312.7 L142.8,315.0 L144.4,312.0 L146.0,314.8 L147.6,311.7 L149.2,314.4 L150.8,312.3 L152.4,315.5 L154.0,313.6 L155.6,317.0 L157.2,313.5 L158.8,317.7 L160.4,315.5 L162.0,317.7 L163.6,323.8 L165.2,327.1 L166.8,328.0 L168.4,331.4 L170.0,333.2 L171.6,331.8 L173.2,335.4 L174.8,336.5 L176.4,335.0 L178.0,338.8 L179.6,336.4 L181.2,338.5 L182.8,342.1 L184.4,339.4 L186.0,343.9 L187.6,344.2 L189.2,343.3 L190.8,346.9 L192.4,344.5 L194.0,347.8 L195.6,345.4 L197.2,349.4 L198.8,350.4 L200.4,350.1 L202.0,347.6 L203.6,348.6 L205.2,351.9 L206.8,353.4 L208.4,351.6 L210.0,352.7 L211.6,353.8 L213.2,358.5 L214.8,357.3 L216.4,360.3 L218.0,362.0 L219.6,360.2 L221.2,364.3 L222.8,365.4 L224.4,364.5 L226.0,368.6 L227.6,367.6 L229.2,371.3 L230.8,372.5 L232.4,373.4 L234.0,372.2 L235.6,375.6 L237.2,374.9 L238.8,378.3 L240.4,379.1 L242.0,378.7 L243.6,382.1 L245.2,380.3 L246.8,385.2 L248.4,383.9 L250.0,388.4 L251.6,386.8 L253.2,387.8 L254.8,392.4 L256.4,393.7 L258.0,392.5 L259.6,395.1 L261.2,400.1 L262.8,402.6 L264.4,403.0 L266.0,406.8 L267.6,406.2 L269.2,409.9 L270.8,411.8 L272.4,413.7 L274.0,411.4 L275.6,413.1 L277.2,416.6 L278.8,417.5 L280.4,418.2 L282.0,417.1 L283.6,420.5 L285.2,419.6 L286.8,421.2 L288.4,424.3 L290.0,426.0 L291.6,424.3 L293.2,425.6 L294.8,430.3 L296.4,429.2 L298.0,429.5 L299.6,433.5 L301.2,431.0 L302.8,433.3 L304.4,431.3 L306.0,434.1 L307.6,432.6 L309.2,433.0 L310.8,437.2 L312.4,435.6 L314.0,439.5 L315.6,440.5 L317.2,439.2 L318.8,442.7 L320.4,441.3 L322.0,442.6 L323.6,443.2 L325.2,443.9 L326.8,444.9 L328.4,448.6 L330.0,446.7 L331.6,448.5 L333.2,451.9 L334.8,453.6 L336.4,458.5 L338.0,459.2 L339.6,465.9 L340.6,466.0" fill="none" stroke="#c6c6c6" stroke-width="1.3" stroke-linejoin="round" stroke-linecap="round" />
<path d="M89.0,280.0 L90.6,278.9 L92.2,282.1 L93.8,280.2 L95.4,284.4 L97.0,283.5 L98.6,285.0 L100.2,286.9 L101.8,291.8 L103.4,291.7 L105.0,298.0 L106.6,297.7 L108.2,298.0 L109.8,301.2 L111.4,303.0 L113.0,304.8 L114.6,306.3 L116.2,303.9 L117.8,309.1 L119.4,309.3 L121.0,308.5 L122.6,308.7 L124.2,322.3 L125.8,320.8 L127.4,324.3 L129.0,321.6 L130.6,326.1 L132.2,325.6 L133.8,322.1 L135.4,320.4 L137.0,321.0 L138.6,322.1 L140.2,322.1 L141.8,324.8 L143.4,327.7 L145.0,325.7 L146.6,330.2 L148.2,324.6 L149.8,318.9 L151.4,321.5 L153.0,323.7 L154.6,326.4 L156.2,324.0 L157.8,330.3 L159.4,332.4 L161.0,337.9 L162.6,335.1 L164.2,336.2 L165.8,330.7 L167.4,330.2 L169.0,331.7 L170.6,327.7 L172.2,329.6 L173.8,329.1 L175.4,328.0 L177.0,332.7 L178.6,334.8 L180.2,333.3 L181.8,336.1 L183.4,333.6 L185.0,336.5 L186.6,335.1 L188.2,338.3 L189.8,339.7 L191.4,338.1 L193.0,340.8 L194.6,335.9 L196.2,336.7 L197.8,336.5 L199.4,341.9 L201.0,341.9 L202.6,345.1 L204.2,350.2 L205.8,350.2 L207.4,352.2 L209.0,356.1 L210.6,355.7 L212.2,359.2 L213.8,361.0 L215.4,361.7 L217.0,360.0 L218.6,361.1 L220.2,364.0 L221.8,362.7 L223.4,361.9 L225.0,365.1 L226.6,365.8 L228.2,366.8 L229.8,366.2 L231.4,367.8 L233.0,371.7 L234.6,370.0 L236.2,370.7 L237.8,374.4 L239.4,378.9 L241.0,379.3 L242.6,382.9 L244.2,383.3 L245.8,387.9 L247.4,386.7 L249.0,389.9 L250.6,389.1 L252.2,390.3 L253.8,390.2 L255.4,390.7 L257.0,391.9 L258.6,396.1 L260.2,394.3 L261.8,398.2 L263.4,400.5 L265.0,410.4 L266.6,415.2 L268.2,420.0 L269.8,416.1 L271.4,417.7 L273.0,417.0 L274.6,422.7 L276.2,426.3 L277.8,431.2 L279.4,430.3 L281.0,433.6 L282.6,431.6 L284.2,433.1 L285.8,435.4 L287.4,434.7 L289.0,434.7 L290.6,439.2 L292.2,438.0 L293.8,442.5 L295.4,441.8 L297.0,446.0 L298.6,444.9 L300.2,445.9 L301.8,448.8 L303.4,447.0 L305.0,446.5 L306.6,445.4 L308.2,447.3 L309.8,443.6 L311.4,446.5 L313.0,445.9 L314.6,450.6 L316.2,449.7 L317.8,453.9 L319.4,453.9 L321.0,455.3 L322.6,453.0 L324.2,456.9 L325.8,454.0 L327.4,455.1 L329.0,456.0 L330.6,459.8 L332.2,458.3 L333.8,460.4 L335.4,464.2 L337.0,466.7 L338.6,465.4 L340.2,469.2 L341.8,465.4 L343.4,471.2 L344.1,475.4" fill="none" stroke="#1f5716" stroke-width="1.9" stroke-linejoin="round" stroke-linecap="round" />
<path d="M417.0,335.5 L418.6,337.2 L420.2,337.8 L421.8,335.1 L423.4,335.1 L425.0,337.8 L426.6,335.6 L428.2,338.6 L429.8,339.1 L431.4,337.9 L433.0,338.9 L434.6,342.2 L436.2,343.0 L437.8,341.6 L439.4,344.6 L441.0,343.5 L442.6,347.3 L444.2,346.2 L445.8,349.3 L447.4,348.9 L449.0,347.5 L450.6,349.0 L452.2,346.7 L453.8,349.2 L455.4,346.8 L457.0,349.2 L458.6,346.4 L460.2,346.7 L461.8,346.5 L463.4,348.1 L465.0,345.9 L466.6,348.6 L468.2,347.2 L469.8,346.7 L471.4,344.5 L473.0,342.7 L474.6,345.0 L476.2,343.0 L477.8,347.7 L479.4,348.2 L481.0,349.6 L482.6,351.2 L484.2,350.0 L485.8,351.8 L487.4,350.3 L489.0,352.4 L490.6,351.2 L492.2,354.7 L493.8,354.3 L495.4,357.4 L497.0,357.1 L498.6,360.6 L500.2,362.4 L501.8,362.1 L503.4,365.5 L505.0,364.2 L506.6,366.4 L508.2,369.1 L509.8,368.4 L511.4,371.6 L513.0,369.1 L514.6,373.4 L516.2,372.3 L517.8,375.0 L519.4,376.9 L521.0,375.1 L522.6,379.8 L524.2,380.1 L525.8,378.4 L527.4,381.9 L529.0,378.8 L530.6,381.4 L532.2,379.2 L533.8,381.5 L535.4,379.3 L537.0,379.8 L538.6,379.9 L540.2,382.6 L541.8,381.9 L543.4,382.4 L545.0,382.6 L546.6,382.8 L548.2,381.5 L549.8,383.0 L551.4,383.0 L553.0,381.5 L554.6,383.7 L556.2,380.7 L557.8,382.7 L559.4,380.6 L561.0,382.8 L562.6,380.4 L564.2,380.3 L565.8,382.3 L567.4,379.0 L569.0,381.3 L570.6,379.1 L572.2,381.1 L573.8,378.1 L575.4,377.0 L577.0,380.3 L578.6,378.0 L580.2,381.1 L581.8,381.8 L583.4,379.5 L585.0,381.9 L586.6,380.6 L588.2,382.7 L589.8,383.0 L591.4,384.3 L593.0,385.7 L594.6,384.3 L596.2,384.8 L597.8,390.3 L599.4,391.7 L601.0,396.5 L602.6,397.7 L604.2,400.4 L605.8,405.0 L607.4,399.3 L609.0,398.8 L610.6,395.9 L612.2,394.5 L613.8,400.6 L615.4,402.7 L617.0,408.1 L618.6,406.7 L620.2,408.1 L621.8,411.4 L623.4,413.5 L625.0,414.5 L626.6,412.7 L628.2,415.6 L629.8,414.4 L631.4,415.2 L633.0,418.2 L634.6,416.2 L636.2,418.6 L637.8,420.1 L639.4,419.2 L641.0,422.4 L642.6,421.0 L644.2,422.8 L645.8,426.8 L647.4,430.0 L649.0,429.5 L650.6,435.3 L652.2,438.1 L653.8,438.8 L655.4,445.6 L656.2,446.2" fill="none" stroke="#c6c6c6" stroke-width="1.3" stroke-linejoin="round" stroke-linecap="round" />
<path d="M418.0,336.0 L419.6,335.0 L421.2,338.1 L422.8,335.8 L424.4,336.6 L426.0,339.1 L427.6,337.7 L429.2,339.8 L430.8,340.5 L432.4,339.7 L434.0,340.0 L435.6,341.3 L437.2,344.7 L438.8,344.2 L440.4,345.0 L442.0,348.7 L443.6,346.6 L445.2,350.7 L446.8,350.6 L448.4,355.7 L450.0,356.1 L451.6,356.1 L453.2,357.1 L454.8,357.1 L456.4,354.2 L458.0,356.9 L459.6,356.7 L461.2,357.7 L462.8,355.4 L464.4,358.3 L466.0,359.1 L467.6,358.2 L469.2,357.9 L470.8,361.8 L472.4,360.3 L474.0,364.3 L475.6,362.9 L477.2,366.1 L478.8,365.0 L480.4,369.6 L482.0,369.2 L483.6,373.1 L485.2,372.3 L486.8,368.3 L488.4,366.4 L490.0,368.3 L491.6,367.9 L493.2,368.3 L494.8,366.8 L496.4,367.4 L498.0,368.6 L499.6,367.2 L501.2,365.6 L502.8,363.6 L504.4,366.7 L506.0,366.4 L507.6,367.0 L509.2,369.0 L510.8,373.2 L512.4,371.2 L514.0,374.6 L515.6,376.4 L517.2,377.3 L518.8,375.9 L520.4,377.4 L522.0,380.5 L523.6,381.4 L525.2,380.4 L526.8,384.7 L528.4,383.0 L530.0,386.8 L531.6,384.8 L533.2,386.1 L534.8,387.8 L536.4,386.3 L538.0,389.4 L539.6,387.3 L541.2,390.1 L542.8,389.6 L544.4,392.6 L546.0,391.7 L547.6,395.1 L549.2,397.5 L550.8,398.7 L552.4,397.0 L554.0,400.4 L555.6,398.2 L557.2,401.9 L558.8,400.7 L560.4,403.0 L562.0,403.8 L563.6,402.2 L565.2,403.4 L566.8,405.7 L568.4,406.9 L570.0,404.2 L571.6,407.4 L573.2,405.2 L574.8,408.4 L576.4,414.9 L578.0,416.1 L579.6,421.5 L581.2,420.2 L582.8,417.7 L584.4,418.6 L586.0,415.6 L587.6,419.2 L589.2,422.1 L590.8,429.0 L592.4,429.3 L594.0,427.3 L595.6,429.6 L597.2,427.0 L598.8,430.2 L600.4,427.8 L602.0,427.5 L603.6,430.2 L605.2,426.8 L606.8,429.6 L608.4,426.3 L610.0,429.0 L611.6,429.5 L613.2,429.4 L614.8,429.0 L616.4,431.7 L618.0,431.4 L619.6,434.8 L621.2,435.3 L622.8,432.8 L624.4,431.0 L626.0,430.5 L627.6,425.6 L629.2,424.9 L630.8,427.9 L632.4,425.3 L634.0,428.4 L635.6,426.5 L637.2,427.1 L638.8,430.3 L640.4,429.0 L642.0,431.4 L643.6,429.6 L645.2,433.8 L646.8,435.6 L648.4,434.9 L650.0,438.0" fill="none" stroke="#c6c6c6" stroke-width="1.3" stroke-linejoin="round" stroke-linecap="round" />
<path d="M418.0,335.0 L419.6,336.1 L421.2,334.0 L422.8,336.9 L424.4,335.6 L426.0,336.2 L427.6,336.5 L429.2,339.5 L430.8,336.5 L432.4,338.0 L434.0,337.7 L435.6,340.9 L437.2,342.5 L438.8,343.8 L440.4,344.6 L442.0,343.2 L443.6,347.3 L445.2,345.1 L446.8,346.4 L448.4,350.4 L450.0,349.2 L451.6,352.2 L453.2,350.3 L454.8,354.2 L456.4,352.6 L458.0,354.1 L459.6,357.3 L461.2,355.8 L462.8,359.1 L464.4,357.9 L466.0,361.9 L467.6,358.4 L469.2,360.4 L470.8,359.1 L472.4,356.4 L474.0,355.5 L475.6,357.7 L477.2,356.6 L478.8,359.0 L480.4,357.7 L482.0,360.8 L483.6,359.3 L485.2,361.1 L486.8,360.2 L488.4,359.8 L490.0,357.0 L491.6,357.2 L493.2,360.6 L494.8,358.7 L496.4,358.7 L498.0,363.6 L499.6,362.3 L501.2,366.0 L502.8,365.2 L504.4,369.1 L506.0,367.6 L507.6,371.2 L509.2,370.9 L510.8,372.1 L512.4,374.7 L514.0,374.5 L515.6,377.9 L517.2,379.1 L518.8,377.5 L520.4,379.0 L522.0,381.8 L523.6,380.2 L525.2,381.7 L526.8,384.7 L528.4,384.3 L530.0,386.7 L531.6,388.7 L533.2,387.5 L534.8,390.6 L536.4,390.8 L538.0,392.2 L539.6,395.8 L541.2,396.2 L542.8,396.0 L544.4,398.9 L546.0,397.3 L547.6,394.8 L549.2,397.2 L550.8,396.3 L552.4,393.0 L554.0,394.8 L555.6,393.6 L557.2,394.7 L558.8,399.1 L560.4,399.9 L562.0,399.1 L563.6,401.3 L565.2,404.3 L566.8,403.7 L568.4,405.9 L570.0,404.1 L571.6,407.9 L573.2,408.8 L574.8,406.8 L576.4,411.1 L578.0,409.1 L579.6,411.2 L581.2,413.9 L582.8,412.7 L584.4,414.7 L586.0,418.4 L587.6,416.4 L589.2,417.9 L590.8,419.0 L592.4,422.7 L594.0,422.0 L595.6,425.6 L597.2,424.4 L598.8,426.7 L600.4,426.1 L602.0,429.3 L603.6,428.2 L605.2,427.9 L606.8,429.9 L608.4,428.8 L610.0,425.5 L611.6,427.5 L613.2,425.3 L614.8,426.4 L616.4,424.0 L618.0,425.4 L619.6,427.9 L621.2,426.0 L622.8,427.9 L624.4,428.5 L626.0,426.1 L627.6,428.5 L629.2,428.1 L630.8,425.4 L632.4,426.6 L634.0,424.5 L635.6,424.8 L637.2,426.9 L638.8,425.0 L640.4,424.3 L642.0,427.2 L643.6,426.3 L645.2,430.6 L646.8,430.4 L648.4,435.2 L650.0,434.3 L651.6,439.9 L653.2,441.4 L654.8,441.2 L656.4,446.0 L658.0,445.6 L659.6,450.4 L660.0,449.4" fill="none" stroke="#c6c6c6" stroke-width="1.3" stroke-linejoin="round" stroke-linecap="round" />
<path d="M417.0,334.5 L418.6,333.6 L420.2,333.7 L421.8,334.1 L423.4,337.0 L425.0,337.6 L426.6,337.4 L428.2,336.3 L429.8,337.9 L431.4,335.8 L433.0,337.8 L434.6,337.5 L436.2,339.9 L437.8,341.0 L439.4,344.6 L441.0,343.7 L442.6,344.2 L444.2,347.6 L445.8,344.6 L447.4,347.3 L449.0,344.1 L450.6,344.9 L452.2,346.4 L453.8,345.4 L455.4,347.9 L457.0,346.3 L458.6,348.8 L460.2,348.3 L461.8,345.6 L463.4,346.0 L465.0,349.6 L466.6,352.2 L468.2,358.5 L469.8,354.0 L471.4,353.6 L473.0,350.3 L474.6,352.6 L476.2,352.3 L477.8,349.3 L479.4,351.1 L481.0,349.9 L482.6,351.2 L484.2,355.6 L485.8,353.2 L487.4,355.8 L489.0,355.6 L490.6,360.8 L492.2,359.1 L493.8,358.0 L495.4,353.6 L497.0,358.0 L498.6,360.8 L500.2,361.2 L501.8,364.8 L503.4,363.7 L505.0,367.5 L506.6,366.4 L508.2,368.4 L509.8,369.1 L511.4,373.6 L513.0,372.3 L514.6,375.0 L516.2,372.8 L517.8,372.7 L519.4,374.9 L521.0,379.8 L522.6,380.3 L524.2,384.4 L525.8,382.5 L527.4,382.6 L529.0,384.4 L530.6,382.5 L532.2,382.1 L533.8,385.1 L535.4,385.2 L537.0,382.8 L538.6,385.5 L540.2,382.9 L541.8,382.2 L543.4,385.0 L545.0,382.7 L546.6,385.3 L548.2,383.7 L549.8,387.5 L551.4,385.9 L553.0,389.7 L554.6,391.1 L556.2,388.3 L557.8,388.0 L559.4,387.3 L561.0,389.6 L562.6,386.7 L564.2,386.7 L565.8,388.6 L567.4,387.5 L569.0,387.6 L570.6,385.7 L572.2,389.0 L573.8,387.5 L575.4,390.5 L577.0,389.3 L578.6,392.4 L580.2,391.2 L581.8,393.0 L583.4,391.5 L585.0,389.3 L586.6,384.5 L588.2,386.4 L589.8,385.6 L591.4,389.5 L593.0,387.5 L594.6,389.6 L596.2,387.6 L597.8,389.8 L599.4,389.0 L601.0,390.7 L602.6,388.2 L604.2,388.4 L605.8,387.9 L607.4,390.6 L609.0,389.6 L610.6,390.9 L612.2,395.4 L613.8,396.4 L615.4,395.7 L617.0,398.1 L618.6,395.5 L620.2,397.6 L621.8,399.7 L623.4,404.8 L625.0,410.0 L626.6,415.4 L628.2,410.0 L629.8,413.1 L631.4,417.7 L633.0,422.8 L634.6,423.0 L636.2,427.3 L637.8,430.3 L639.4,430.0 L641.0,431.0 L642.6,430.0 L644.2,431.2 L645.8,431.7 L647.4,432.5 L649.0,433.3 L650.6,438.1 L652.2,447.0 L653.8,444.9 L655.4,437.8 L657.0,443.0 L658.6,446.8 L660.2,449.2 L661.8,453.3 L663.4,452.9 L665.0,453.4 L666.6,459.6 L667.4,460.3" fill="none" stroke="#9a5f5a" stroke-width="1.5" stroke-linejoin="round" stroke-linecap="round" />
<path d="M261.0,730.0 L261.5,729.8 L262.3,729.5 L263.1,729.2 L264.1,728.9 L265.1,728.5 L266.1,728.0 L267.1,727.5 L268.0,727.0 L268.9,726.4 L269.7,725.9 L270.5,725.2 L271.4,724.6 L272.2,723.8 L273.1,723.0 L274.0,722.1 L275.0,721.0 L276.0,719.8 L277.1,718.4 L278.3,716.9 L279.4,715.4 L280.6,713.8 L281.8,712.1 L282.9,710.5 L284.0,709.0 L285.0,707.5 L286.0,706.1 L287.0,704.7 L287.9,703.2 L288.9,701.8 L289.9,700.3 L290.9,698.7 L292.0,697.0 L293.2,695.2 L294.4,693.2 L295.7,691.2 L297.0,689.1 L298.4,687.0 L299.7,684.9 L301.0,682.9 L302.3,681.0 L303.6,679.2 L304.8,677.4 L306.1,675.7 L307.4,674.1 L308.6,672.4 L309.8,670.9 L311.0,669.4 L312.0,668.0 L312.9,666.7 L313.7,665.4 L314.4,664.2 L315.0,663.1 L315.7,662.1 L316.4,661.0 L317.3,660.1 L318.3,659.2 L319.5,658.4 L320.9,657.6 L322.3,656.9 L323.9,656.3 L325.4,655.7 L327.0,655.1 L328.5,654.6 L330.0,654.0 L331.4,653.5 L332.7,653.0 L334.0,652.5 L335.2,652.1 L336.5,651.6 L337.9,651.2 L339.4,650.7 L341.0,650.1 L342.8,649.5 L344.7,648.8 L346.8,648.2 L348.9,647.5 L351.0,646.8 L353.1,646.0 L355.1,645.2 L357.0,644.4 L358.7,643.6 L360.3,642.8 L361.8,641.9 L363.3,641.0 L364.8,640.1 L366.3,639.1 L367.9,638.0 L369.5,636.7 L371.2,635.3 L373.1,633.8 L374.9,632.1 L376.8,630.4 L378.7,628.6 L380.6,626.7 L382.5,624.9 L384.3,623.0 L386.1,621.1 L387.8,619.3 L389.6,617.4 L391.3,615.4 L393.0,613.4 L394.7,611.4 L396.3,609.2 L398.0,607.0 L399.7,604.7 L401.3,602.3 L403.0,599.8 L404.7,597.3 L406.3,594.7 L407.8,592.0 L409.3,589.3 L410.7,586.6 L412.0,583.9 L413.2,581.1 L414.3,578.3 L415.4,575.5 L416.4,572.6 L417.4,569.6 L418.5,566.4 L419.5,563.0 L420.6,559.2 L421.7,554.9 L422.9,550.3 L424.1,545.6 L425.1,541.2 L426.1,537.1 L426.9,533.7 L427.5,531.2" fill="none" stroke="#c6c6c6" stroke-width="1.2" stroke-linejoin="round" stroke-linecap="round" />
<path d="M262.0,730.0 L262.5,729.9 L263.3,729.7 L264.1,729.5 L265.1,729.3 L266.1,729.1 L267.1,728.8 L268.1,728.4 L269.0,728.0 L269.9,727.5 L270.7,727.1 L271.6,726.5 L272.4,725.9 L273.3,725.3 L274.2,724.6 L275.1,723.8 L276.0,723.0 L277.0,722.0 L278.0,720.9 L279.0,719.7 L280.0,718.5 L281.0,717.2 L282.0,716.0 L283.0,714.9 L284.0,714.0 L284.8,713.2 L285.4,712.6 L285.8,712.0 L286.3,711.6 L287.0,711.1 L287.9,710.6 L289.2,710.1 L291.0,709.5 L293.5,708.8 L296.5,708.2 L299.9,707.5 L303.6,706.8 L307.4,706.0 L311.1,705.3 L314.7,704.4 L318.0,703.6 L321.0,702.7 L324.0,701.8 L326.9,700.9 L329.8,699.9 L332.5,698.9 L335.1,697.9 L337.6,696.8 L340.0,695.6 L342.2,694.3 L344.2,693.0 L346.0,691.6 L347.8,690.1 L349.5,688.7 L351.2,687.2 L352.9,685.8 L354.7,684.5 L356.4,683.3 L358.1,682.3 L359.6,681.4 L361.2,680.5 L362.9,679.5 L364.8,678.3 L367.0,676.9 L369.5,675.0 L372.5,672.7 L375.8,670.1 L379.5,667.2 L383.3,664.1 L387.2,660.9 L391.2,657.6 L395.1,654.4 L398.9,651.4 L402.6,648.5 L406.3,645.6 L410.0,642.8 L413.6,640.0 L417.3,637.1 L421.0,634.1 L424.7,631.0 L428.4,627.8 L432.1,624.4 L435.8,620.8 L439.4,617.1 L443.1,613.3 L446.8,609.5 L450.4,605.7 L454.1,602.0 L457.8,598.4 L461.6,594.9 L465.5,591.4 L469.4,587.9 L473.4,584.4 L477.2,581.1 L480.9,577.8 L484.2,574.8 L487.3,571.9 L490.1,569.1 L492.7,566.4 L495.1,563.8 L497.2,561.4 L499.2,559.2 L500.9,557.2 L502.3,555.5 L503.5,554.2" fill="none" stroke="#c6c6c6" stroke-width="1.2" stroke-linejoin="round" stroke-linecap="round" />
<path d="M262.0,730.0 L262.5,729.8 L263.3,729.6 L264.1,729.4 L265.1,729.1 L266.1,728.8 L267.1,728.4 L268.1,728.0 L269.0,727.5 L269.9,727.0 L270.7,726.5 L271.6,725.9 L272.4,725.3 L273.3,724.6 L274.2,723.8 L275.1,723.0 L276.0,722.0 L277.0,720.9 L277.9,719.6 L278.9,718.3 L279.9,716.8 L281.0,715.4 L282.0,713.9 L283.0,712.4 L284.0,711.0 L285.0,709.6 L286.0,708.3 L287.0,706.9 L288.0,705.6 L289.0,704.2 L290.0,702.8 L291.0,701.4 L292.0,700.0 L292.8,698.7 L293.2,697.5 L293.6,696.4 L294.0,695.2 L294.7,693.9 L295.8,692.3 L297.5,690.4 L300.0,688.0 L303.5,685.1 L308.0,681.6 L313.1,677.8 L318.6,673.8 L324.3,669.6 L330.0,665.5 L335.3,661.6 L340.0,658.0 L344.2,654.7 L348.2,651.6 L352.0,648.6 L355.6,645.7 L359.2,642.8 L362.7,639.9 L366.3,637.0 L370.0,634.0 L373.8,630.9 L377.7,627.7 L381.7,624.5 L385.6,621.3 L389.5,618.1 L393.2,615.0 L396.7,611.9 L400.0,609.0 L403.0,606.2 L405.7,603.4 L408.2,600.8 L410.6,598.1 L412.9,595.6 L415.2,593.0 L417.5,590.5 L420.0,588.0 L422.6,585.4 L425.3,582.7 L428.1,580.0 L430.8,577.4 L433.5,574.9 L436.1,572.5 L438.7,570.4 L441.0,568.6 L443.1,567.2 L445.1,566.2 L446.9,565.5 L448.6,565.0 L450.3,564.5 L452.1,563.9 L454.0,563.1 L456.0,562.0 L458.2,560.6 L460.6,559.1 L463.1,557.4 L465.7,555.6 L468.2,553.8 L470.6,551.9 L472.9,549.9 L475.0,548.0 L476.9,545.9 L478.8,543.6 L480.5,541.2 L482.2,538.7 L483.7,536.4 L485.0,534.3 L486.1,532.5 L487.0,531.2" fill="none" stroke="#c6c6c6" stroke-width="1.2" stroke-linejoin="round" stroke-linecap="round" />
<path d="M262.0,730.0 L262.5,729.8 L263.3,729.6 L264.1,729.4 L265.1,729.1 L266.1,728.8 L267.1,728.4 L268.1,728.0 L269.0,727.5 L269.9,727.0 L270.7,726.5 L271.6,725.9 L272.4,725.3 L273.3,724.6 L274.2,723.8 L275.1,723.0 L276.0,722.0 L277.0,720.9 L277.9,719.6 L278.9,718.2 L279.9,716.8 L281.0,715.3 L282.0,713.8 L283.0,712.4 L284.0,711.0 L285.0,709.7 L286.0,708.5 L287.0,707.2 L288.0,706.0 L289.0,704.8 L290.0,703.5 L291.0,702.3 L292.0,701.0 L292.8,699.8 L293.2,698.7 L293.6,697.7 L294.0,696.6 L294.7,695.4 L295.8,693.9 L297.5,692.2 L300.0,690.0 L303.5,687.3 L308.0,684.1 L313.1,680.6 L318.6,676.9 L324.3,673.1 L330.0,669.4 L335.3,665.8 L340.0,662.6 L344.2,659.7 L348.2,657.0 L352.0,654.4 L355.6,652.0 L359.2,649.5 L362.7,647.1 L366.3,644.6 L370.0,642.0 L373.8,639.3 L377.6,636.5 L381.5,633.6 L385.4,630.8 L389.2,627.9 L392.9,625.2 L396.5,622.5 L400.0,620.0 L403.3,617.7 L406.5,615.5 L409.5,613.5 L412.5,611.5 L415.4,609.5 L418.3,607.5 L421.1,605.3 L424.0,603.0 L426.9,600.5 L429.7,597.7 L432.4,594.9 L435.2,592.0 L437.9,589.1 L440.6,586.3 L443.3,583.5 L446.0,581.0 L448.7,578.6 L451.5,576.3 L454.3,574.1 L457.1,572.0 L459.8,569.9 L462.3,567.9 L464.8,565.9 L467.0,564.0 L469.0,562.1 L470.8,560.4 L472.4,558.7 L473.9,557.1 L475.4,555.5 L476.8,553.8 L478.4,552.0 L480.0,550.0 L481.8,547.8 L483.9,545.2 L486.0,542.5 L488.1,539.7 L490.1,537.1 L491.9,534.7 L493.5,532.7 L494.6,531.2" fill="none" stroke="#c6c6c6" stroke-width="1.2" stroke-linejoin="round" stroke-linecap="round" />
<path d="M262.0,730.0 L262.5,729.8 L263.3,729.6 L264.1,729.4 L265.1,729.1 L266.1,728.7 L267.1,728.4 L268.1,727.9 L269.0,727.5 L269.9,727.0 L270.7,726.6 L271.6,726.0 L272.4,725.5 L273.3,724.9 L274.2,724.2 L275.1,723.4 L276.0,722.5 L277.0,721.4 L277.9,720.2 L278.9,718.9 L279.9,717.6 L281.0,716.1 L282.0,714.7 L283.0,713.3 L284.0,712.0 L285.0,710.7 L286.0,709.5 L287.0,708.2 L288.0,707.0 L289.0,705.7 L290.0,704.5 L291.0,703.2 L292.0,702.0 L292.8,700.9 L293.2,699.9 L293.6,699.0 L294.0,698.0 L294.7,696.9 L295.8,695.6 L297.5,694.0 L300.0,692.0 L303.5,689.5 L308.0,686.4 L313.1,683.1 L318.6,679.5 L324.3,675.9 L330.0,672.3 L335.3,669.0 L340.0,666.0 L344.2,663.4 L348.2,661.0 L352.0,658.7 L355.6,656.6 L359.2,654.5 L362.7,652.4 L366.3,650.3 L370.0,648.0 L373.7,645.6 L377.2,643.3 L380.8,640.9 L384.3,638.5 L387.9,636.0 L391.7,633.6 L395.7,631.0 L400.0,628.5 L404.7,625.9 L409.9,623.1 L415.4,620.3 L421.0,617.5 L426.5,614.7 L431.8,612.0 L436.7,609.4 L441.0,607.0 L444.6,604.9 L447.8,603.1 L450.5,601.4 L453.0,599.8 L455.4,598.1 L457.7,596.4 L460.2,594.4 L463.0,592.0 L466.0,589.3 L469.3,586.5 L472.6,583.4 L475.9,580.2 L479.2,576.9 L482.3,573.4 L485.3,569.7 L488.0,566.0 L490.5,561.8 L492.9,557.1 L495.2,552.1 L497.3,547.0 L499.2,542.1 L500.9,537.7 L502.4,533.9 L503.5,531.2" fill="none" stroke="#c6c6c6" stroke-width="1.2" stroke-linejoin="round" stroke-linecap="round" />
<path d="M262.0,730.0 L262.5,729.8 L263.3,729.6 L264.1,729.4 L265.1,729.1 L266.1,728.7 L267.1,728.4 L268.1,727.9 L269.0,727.5 L269.9,727.0 L270.7,726.5 L271.6,726.0 L272.4,725.5 L273.3,724.9 L274.2,724.2 L275.1,723.4 L276.0,722.5 L277.0,721.5 L277.9,720.3 L278.9,719.1 L279.9,717.8 L281.0,716.4 L282.0,715.1 L283.0,713.8 L284.0,712.5 L285.0,711.3 L286.0,710.1 L287.0,708.9 L288.0,707.7 L289.0,706.5 L290.0,705.3 L291.0,704.2 L292.0,703.0 L292.8,702.0 L293.2,701.1 L293.6,700.3 L294.0,699.4 L294.7,698.5 L295.8,697.3 L297.5,695.9 L300.0,694.0 L303.5,691.6 L308.0,688.8 L313.1,685.6 L318.6,682.2 L324.3,678.8 L330.0,675.4 L335.3,672.2 L340.0,669.4 L344.2,666.9 L348.2,664.6 L352.0,662.5 L355.6,660.5 L359.2,658.5 L362.7,656.5 L366.3,654.3 L370.0,652.0 L373.8,649.5 L377.6,646.7 L381.5,643.9 L385.4,641.1 L389.2,638.2 L392.9,635.5 L396.5,633.0 L400.0,630.7 L403.3,628.8 L406.3,627.2 L409.3,625.8 L412.1,624.5 L415.0,623.2 L417.9,621.8 L420.8,620.1 L424.0,618.0 L427.3,615.5 L430.8,612.8 L434.3,609.8 L437.9,606.6 L441.5,603.4 L445.0,600.2 L448.6,597.0 L452.0,594.0 L455.4,591.0 L458.9,588.1 L462.3,585.1 L465.7,582.2 L469.0,579.3 L472.2,576.4 L475.2,573.7 L478.0,571.0 L480.6,568.4 L482.9,565.9 L485.1,563.4 L487.2,561.0 L489.2,558.7 L491.1,556.4 L493.0,554.2 L495.0,552.0 L497.1,549.8 L499.2,547.5 L501.4,545.2 L503.6,543.1 L505.6,541.0 L507.4,539.2 L508.9,537.7 L510.0,536.5" fill="none" stroke="#c6c6c6" stroke-width="1.2" stroke-linejoin="round" stroke-linecap="round" />
<path d="M262.0,730.0 L262.5,729.8 L263.3,729.6 L264.1,729.3 L265.1,729.0 L266.1,728.7 L267.1,728.3 L268.1,727.9 L269.0,727.5 L269.9,727.1 L270.7,726.6 L271.6,726.2 L272.4,725.7 L273.3,725.2 L274.2,724.6 L275.1,723.8 L276.0,723.0 L277.0,722.0 L277.9,720.9 L278.9,719.6 L279.9,718.3 L281.0,716.9 L282.0,715.6 L283.0,714.2 L284.0,713.0 L285.0,711.8 L286.0,710.7 L287.0,709.5 L288.0,708.4 L289.0,707.3 L290.0,706.2 L291.0,705.1 L292.0,704.0 L292.8,703.0 L293.2,702.2 L293.6,701.4 L294.0,700.6 L294.7,699.7 L295.8,698.6 L297.5,697.2 L300.0,695.5 L303.5,693.3 L308.0,690.7 L313.1,687.8 L318.6,684.7 L324.3,681.5 L330.0,678.4 L335.3,675.5 L340.0,672.8 L344.3,670.4 L348.4,668.1 L352.3,666.0 L356.1,663.9 L359.8,661.9 L363.3,659.9 L366.7,658.0 L370.0,656.0 L373.1,654.1 L376.1,652.3 L378.9,650.5 L381.6,648.7 L384.2,647.0 L386.8,645.2 L389.4,643.3 L392.0,641.4 L394.6,639.4 L397.0,637.3 L399.4,635.2 L401.8,633.1 L404.3,630.9 L406.9,628.7 L409.8,626.4 L413.0,624.0 L416.6,621.5 L420.7,618.9 L425.0,616.1 L429.5,613.4 L434.0,610.6 L438.3,607.9 L442.4,605.4 L446.0,603.0 L449.2,600.9 L452.2,598.9 L454.9,597.1 L457.4,595.3 L459.9,593.6 L462.2,591.8 L464.6,590.0 L467.0,588.0 L469.4,585.9 L471.9,583.7 L474.2,581.5 L476.6,579.2 L478.8,576.9 L481.0,574.6 L483.1,572.3 L485.0,570.0 L486.8,567.7 L488.6,565.4 L490.2,563.0 L491.8,560.6 L493.3,558.3 L494.6,556.1 L495.9,554.0 L497.0,552.0 L498.0,550.1 L498.9,548.3 L499.6,546.5 L500.2,544.9 L500.8,543.4 L501.3,542.0 L501.7,540.9 L502.0,540.0" fill="none" stroke="#c6c6c6" stroke-width="1.2" stroke-linejoin="round" stroke-linecap="round" />
<path d="M262.0,730.0 L262.5,729.8 L263.3,729.6 L264.1,729.3 L265.1,729.0 L266.1,728.7 L267.1,728.3 L268.1,727.9 L269.0,727.5 L269.9,727.1 L270.7,726.6 L271.6,726.2 L272.4,725.7 L273.3,725.1 L274.2,724.5 L275.1,723.8 L276.0,723.0 L277.0,722.0 L277.9,721.0 L278.9,719.8 L279.9,718.5 L281.0,717.2 L282.0,715.9 L283.0,714.7 L284.0,713.5 L285.0,712.4 L286.0,711.3 L287.0,710.2 L288.0,709.2 L289.0,708.1 L290.0,707.1 L291.0,706.0 L292.0,705.0 L292.8,704.1 L293.2,703.2 L293.6,702.5 L294.0,701.7 L294.7,700.8 L295.8,699.8 L297.5,698.6 L300.0,697.0 L303.5,695.1 L308.0,692.8 L313.1,690.3 L318.6,687.7 L324.3,685.0 L330.0,682.3 L335.3,679.7 L340.0,677.4 L344.2,675.3 L348.2,673.4 L352.0,671.6 L355.6,669.8 L359.2,668.1 L362.7,666.2 L366.3,664.2 L370.0,662.0 L373.8,659.6 L377.5,657.1 L381.2,654.4 L385.0,651.7 L388.8,648.8 L392.5,645.9 L396.2,643.0 L400.0,640.0 L403.8,636.9 L407.7,633.6 L411.7,630.2 L415.6,626.8 L419.5,623.3 L423.2,620.0 L426.7,616.9 L430.0,614.0 L433.0,611.4 L435.7,609.0 L438.2,606.8 L440.6,604.7 L442.9,602.6 L445.2,600.5 L447.6,598.3 L450.0,596.0 L452.5,593.5 L455.0,591.0 L457.6,588.4 L460.1,585.8 L462.6,583.2 L465.1,580.5 L467.6,577.7 L470.0,575.0 L472.4,572.2 L474.8,569.2 L477.2,566.2 L479.6,563.2 L481.9,560.2 L484.1,557.3 L486.1,554.6 L488.0,552.0 L489.7,549.6 L491.3,547.1 L492.8,544.8 L494.1,542.6 L495.3,540.5 L496.4,538.7 L497.3,537.2 L498.0,536.0" fill="none" stroke="#c6c6c6" stroke-width="1.2" stroke-linejoin="round" stroke-linecap="round" />
<path d="M258.0,730.2 L259.6,729.6 L261.2,730.0 L262.8,728.9 L264.4,728.8 L266.0,728.8 L267.6,726.7 L269.2,725.6 L270.8,723.6 L272.4,722.3 L274.0,719.5 L275.6,718.0 L277.2,714.7 L278.8,712.9 L280.4,709.8 L282.0,707.6 L283.6,704.6 L285.2,702.5 L286.8,699.2 L288.4,697.7 L290.0,696.2 L291.6,693.8 L293.2,692.1 L294.8,690.5 L296.4,688.1 L298.0,686.9 L299.6,684.6 L301.2,683.3 L302.8,681.1 L304.4,680.6 L306.0,679.0 L307.6,678.1 L309.2,676.3 L310.8,675.9 L312.4,674.2 L314.0,673.7 L315.6,672.1 L317.2,670.6 L318.8,670.7 L320.4,669.3 L322.0,669.1 L323.6,667.8 L325.2,667.6 L326.8,666.1 L328.4,666.0 L330.0,664.7 L331.6,664.3 L333.2,663.2 L334.8,663.0 L336.4,661.7 L338.0,661.8 L339.6,660.3 L341.2,660.4 L342.8,659.2 L344.4,658.7 L346.0,656.8 L347.6,656.4 L349.2,655.3 L350.8,653.8 L352.4,653.0 L354.0,651.1 L355.6,651.0 L357.2,649.7 L358.8,648.0 L360.4,647.3 L361.5,646.2" fill="none" stroke="#1f5716" stroke-width="1.6" stroke-linejoin="round" stroke-linecap="round" />
<line x1="25.6" y1="794.5" x2="25.6" y2="874.3" stroke="#000" stroke-width="1.8"/>
<text transform="translate(14.6,844) rotate(-90)" font-size="13">R9</text>
<text x="79" y="807.4" font-size="13" text-anchor="middle" font-weight="normal" >10 nm</text>
<text x="196" y="807.4" font-size="13" text-anchor="middle" font-weight="normal" >15 nm</text>
<text x="361.2" y="807.4" font-size="13" text-anchor="middle" font-weight="normal" >20 nm</text>
<text x="599.8" y="807.4" font-size="13" text-anchor="middle" font-weight="normal" >30 nm</text>
<path d="M31.6,834.7 L32.1,834.5 L32.7,834.3 L33.2,834.2 L33.7,834.1 L34.3,834.1 L34.8,834.2 L35.3,834.4 L35.8,834.7 L36.3,835.0 L36.8,835.3 L37.3,835.4 L37.9,835.5 L38.4,835.5 L38.9,835.3 L39.5,835.0 L40.0,834.7 L40.6,834.5 L41.1,834.3 L41.6,834.2 L42.1,834.3 L42.6,834.5 L43.1,834.9 L43.5,835.3 L44.0,835.7 L44.4,836.1 L44.9,836.5 L45.4,836.7 L45.9,836.7 L46.4,836.7 L46.9,836.5 L47.5,836.3 L48.0,836.0 L48.5,835.8 L49.1,835.7 L49.6,835.7 L49.9,835.8 L50.4,835.8 L51.0,835.9 L51.6,836.0 L52.2,836.0 L52.7,835.9 L53.2,835.7 L53.7,835.4 L54.2,835.0 L55.1,834.7 L55.8,834.9 L56.3,835.3 L56.7,835.9 L56.9,836.7 L57.1,837.5 L57.3,838.4 L57.7,839.0 L59.7,839.5 L60.1,838.9 L60.4,838.0 L60.6,836.9 L60.8,836.0" fill="none" stroke="#66865c" stroke-width="0.9" stroke-linejoin="round" stroke-linecap="round" />
<path d="M82.8,831.8 L83.2,832.3 L83.6,832.9 L83.9,833.6 L84.2,834.2 L84.6,834.8 L85.1,835.3 L86.3,835.7 L86.7,835.4 L87.2,835.1 L87.7,834.8 L88.1,834.6 L88.6,834.4 L89.1,834.2 L89.6,834.0 L90.1,833.9 L90.6,833.7 L91.1,833.4 L91.5,833.1 L92.2,832.8 L92.8,832.7 L93.3,832.7 L93.8,832.8 L94.3,833.1 L94.8,833.5 L95.3,834.0 L95.8,834.5 L96.3,835.0 L96.8,835.4 L97.3,835.6 L97.8,835.5 L98.4,835.3 L98.9,834.8 L99.5,834.2 L100.0,833.6 L100.5,833.0 L100.9,832.6 L101.4,832.3 L101.9,832.3 L102.4,832.6 L103.0,832.9 L103.5,833.4 L104.0,833.9 L104.5,834.2 L105.0,834.5 L105.5,834.5 L106.0,834.4 L106.5,834.2 L107.0,833.9 L107.5,833.6 L108.0,833.4 L108.5,833.3 L109.0,833.3 L109.5,833.4 L110.0,833.6 L110.5,833.8 L111.1,834.0 L111.6,834.0 L112.1,834.0 L112.6,833.8 L113.1,833.5 L113.6,833.1 L114.1,832.7 L114.6,832.4 L115.0,832.2 L115.6,832.1 L116.1,832.2 L116.6,832.3 L117.1,832.6 L117.7,832.8 L118.2,833.0 L118.7,833.1 L119.3,833.2 L119.8,833.2 L120.3,833.1 L120.8,833.0 L121.3,832.8 L121.8,832.7 L122.3,832.6 L122.8,832.5" fill="none" stroke="#66865c" stroke-width="0.9" stroke-linejoin="round" stroke-linecap="round" />
<path d="M73.6,852.9 L74.2,853.0 L74.7,853.0 L75.3,853.0 L75.8,852.7 L76.3,852.4 L76.8,852.0 L77.2,851.6 L77.7,851.2 L78.2,850.9 L78.8,850.7 L79.3,850.6 L79.8,850.6 L80.3,850.7 L80.9,850.8 L81.4,851.0 L82.0,851.1 L82.5,851.2 L83.0,851.1 L83.5,851.0 L84.0,850.8 L84.5,850.6 L85.0,850.2 L85.4,847.3 L85.0,846.5 L84.5,845.8 L83.8,845.2" fill="none" stroke="#66865c" stroke-width="0.9" stroke-linejoin="round" stroke-linecap="round" />
<line x1="57.80" y1="813.40" x2="81.30" y2="832.70" stroke="#379026" stroke-width="2.30" stroke-opacity="0.8"/>
<path d="M58.62,814.08 L58.12,814.86 L57.59,815.42 L57.15,815.68 L56.90,815.62 L56.90,815.28 L57.18,814.72 L57.73,814.07 L58.47,813.46 L59.30,813.01 L60.12,812.81 L60.81,812.93 L61.27,813.37 L61.47,814.06 L61.38,814.93 L61.06,815.83 L60.58,816.65 L60.04,817.26 L59.58,817.58 L59.28,817.59 L59.22,817.30 L59.45,816.77 L59.95,816.13 L60.66,815.50 L61.48,815.01 L62.31,814.76 L63.03,814.81 L63.55,815.19 L63.80,815.84 L63.77,816.68 L63.49,817.58 L63.03,818.43 L62.50,819.09 L62.01,819.47 L61.67,819.54 L61.56,819.31 L61.73,818.82 L62.18,818.19 L62.85,817.55 L63.66,817.02 L64.50,816.71 L65.25,816.71 L65.82,817.02 L66.12,817.62 L66.15,818.43 L65.91,819.33 L65.48,820.20 L64.96,820.91 L64.45,821.35 L64.07,821.49 L63.91,821.31 L64.03,820.86 L64.42,820.25 L65.05,819.60 L65.84,819.04 L66.69,818.68 L67.46,818.61 L68.07,818.86 L68.43,819.41 L68.52,820.18 L68.33,821.08 L67.93,821.97 L67.41,822.71 L66.89,823.22 L66.48,823.42 L66.27,823.30 L66.33,822.90 L66.67,822.31 L67.26,821.66 L68.03,821.07 L68.87,820.66 L69.67,820.53 L70.32,820.71 L70.73,821.21 L70.87,821.95 L70.73,822.83 L70.37,823.73 L69.87,824.51 L69.34,825.07 L68.90,825.33 L68.65,825.27 L68.65,824.93 L68.93,824.37 L69.48,823.72 L70.22,823.11 L71.05,822.66 L71.87,822.46 L72.56,822.58 L73.02,823.02 L73.22,823.71 L73.13,824.58 L72.81,825.48 L72.33,826.30 L71.79,826.91 L71.33,827.23 L71.03,827.24 L70.97,826.95 L71.20,826.42 L71.70,825.78 L72.41,825.15 L73.23,824.66 L74.06,824.41 L74.78,824.46 L75.30,824.84 L75.55,825.49 L75.52,826.33 L75.24,827.23 L74.78,828.08 L74.25,828.74 L73.76,829.12 L73.42,829.19 L73.31,828.96 L73.48,828.47 L73.93,827.84 L74.60,827.20 L75.41,826.67 L76.25,826.36 L77.00,826.36 L77.57,826.67 L77.87,827.27 L77.90,828.08 L77.66,828.98 L77.23,829.85 L76.71,830.56 L76.20,831.00 L75.82,831.14 L75.66,830.96 L75.78,830.51 L76.17,829.90 L76.80,829.25 L77.59,828.69 L78.44,828.33 L79.21,828.26 L79.82,828.51 L80.18,829.06 L80.27,829.83 L80.08,830.73 L79.68,831.62 L79.16,832.36 L78.64,832.87 L78.23,833.07 L78.02,832.95 L78.08,832.55 L78.42,831.96 L79.01,831.31 L79.78,830.72 L80.62,830.31 L81.42,830.18 L82.07,830.36 L82.48,830.86 L82.62,831.60 L82.48,832.48 L82.12,833.38" fill="none" stroke="#0e2e08" stroke-width="1.35" stroke-linejoin="round"/>
<path d="M58.62,814.08 L58.12,814.86 L57.59,815.42 L57.15,815.68 L56.90,815.62 L56.90,815.28 L57.18,814.72 L57.73,814.07 L58.47,813.46 L59.30,813.01 L60.12,812.81 L60.81,812.93 L61.27,813.37 L61.47,814.06 L61.38,814.93 L61.06,815.83 L60.58,816.65 L60.04,817.26 L59.58,817.58 L59.28,817.59 L59.22,817.30 L59.45,816.77 L59.95,816.13 L60.66,815.50 L61.48,815.01 L62.31,814.76 L63.03,814.81 L63.55,815.19 L63.80,815.84 L63.77,816.68 L63.49,817.58 L63.03,818.43 L62.50,819.09 L62.01,819.47 L61.67,819.54 L61.56,819.31 L61.73,818.82 L62.18,818.19 L62.85,817.55 L63.66,817.02 L64.50,816.71 L65.25,816.71 L65.82,817.02 L66.12,817.62 L66.15,818.43 L65.91,819.33 L65.48,820.20 L64.96,820.91 L64.45,821.35 L64.07,821.49 L63.91,821.31 L64.03,820.86 L64.42,820.25 L65.05,819.60 L65.84,819.04 L66.69,818.68 L67.46,818.61 L68.07,818.86 L68.43,819.41 L68.52,820.18 L68.33,821.08 L67.93,821.97 L67.41,822.71 L66.89,823.22 L66.48,823.42 L66.27,823.30 L66.33,822.90 L66.67,822.31 L67.26,821.66 L68.03,821.07 L68.87,820.66 L69.67,820.53 L70.32,820.71 L70.73,821.21 L70.87,821.95 L70.73,822.83 L70.37,823.73 L69.87,824.51 L69.34,825.07 L68.90,825.33 L68.65,825.27 L68.65,824.93 L68.93,824.37 L69.48,823.72 L70.22,823.11 L71.05,822.66 L71.87,822.46 L72.56,822.58 L73.02,823.02 L73.22,823.71 L73.13,824.58 L72.81,825.48 L72.33,826.30 L71.79,826.91 L71.33,827.23 L71.03,827.24 L70.97,826.95 L71.20,826.42 L71.70,825.78 L72.41,825.15 L73.23,824.66 L74.06,824.41 L74.78,824.46 L75.30,824.84 L75.55,825.49 L75.52,826.33 L75.24,827.23 L74.78,828.08 L74.25,828.74 L73.76,829.12 L73.42,829.19 L73.31,828.96 L73.48,828.47 L73.93,827.84 L74.60,827.20 L75.41,826.67 L76.25,826.36 L77.00,826.36 L77.57,826.67 L77.87,827.27 L77.90,828.08 L77.66,828.98 L77.23,829.85 L76.71,830.56 L76.20,831.00 L75.82,831.14 L75.66,830.96 L75.78,830.51 L76.17,829.90 L76.80,829.25 L77.59,828.69 L78.44,828.33 L79.21,828.26 L79.82,828.51 L80.18,829.06 L80.27,829.83 L80.08,830.73 L79.68,831.62 L79.16,832.36 L78.64,832.87 L78.23,833.07 L78.02,832.95 L78.08,832.55 L78.42,831.96 L79.01,831.31 L79.78,830.72 L80.62,830.31 L81.42,830.18 L82.07,830.36 L82.48,830.86 L82.62,831.60 L82.48,832.48 L82.12,833.38" fill="none" stroke="#379026" stroke-width="0.6" stroke-linejoin="round"/>
<line x1="57.20" y1="819.40" x2="83.70" y2="845.30" stroke="#379026" stroke-width="2.30" stroke-opacity="0.8"/>
<path d="M57.97,820.16 L57.42,820.89 L56.85,821.40 L56.38,821.62 L56.12,821.56 L56.13,821.23 L56.44,820.72 L57.00,820.12 L57.77,819.57 L58.63,819.18 L59.47,819.03 L60.17,819.17 L60.64,819.60 L60.83,820.27 L60.73,821.10 L60.38,821.97 L59.86,822.76 L59.29,823.37 L58.76,823.72 L58.41,823.78 L58.30,823.55 L58.48,823.10 L58.95,822.53 L59.64,821.95 L60.47,821.48 L61.34,821.22 L62.11,821.23 L62.68,821.54 L62.99,822.12 L63.01,822.90 L62.76,823.76 L62.30,824.61 L61.74,825.30 L61.18,825.77 L60.74,825.95 L60.52,825.84 L60.58,825.47 L60.93,824.94 L61.54,824.34 L62.33,823.81 L63.19,823.45 L64.01,823.35 L64.68,823.54 L65.11,824.01 L65.25,824.71 L65.10,825.56 L64.72,826.42 L64.19,827.20 L63.61,827.77 L63.11,828.07 L62.79,828.08 L62.73,827.81 L62.96,827.33 L63.47,826.75 L64.19,826.18 L65.04,825.73 L65.89,825.52 L66.63,825.58 L67.17,825.94 L67.43,826.56 L67.41,827.35 L67.11,828.23 L66.63,829.05 L66.05,829.72 L65.51,830.14 L65.10,830.27 L64.93,830.11 L65.03,829.71 L65.43,829.15 L66.08,828.56 L66.88,828.05 L67.75,827.73 L68.55,827.67 L69.19,827.91 L69.57,828.43 L69.66,829.16 L69.47,830.02 L69.06,830.88 L68.51,831.62 L67.93,832.15 L67.46,832.41 L67.18,832.37 L67.16,832.06 L67.44,831.55 L67.99,830.97 L68.74,830.41 L69.60,830.00 L70.44,829.82 L71.16,829.94 L71.65,830.34 L71.87,831.00 L71.79,831.81 L71.46,832.69 L70.95,833.49 L70.38,834.12 L69.84,834.50 L69.47,834.58 L69.34,834.37 L69.50,833.94 L69.94,833.37 L70.62,832.79 L71.44,832.30 L72.31,832.02 L73.09,832.01 L73.68,832.30 L74.02,832.86 L74.06,833.62 L73.83,834.48 L73.39,835.33 L72.83,836.05 L72.26,836.53 L71.81,836.74 L71.57,836.65 L71.61,836.30 L71.93,835.78 L72.52,835.18 L73.30,834.64 L74.16,834.27 L74.99,834.14 L75.67,834.30 L76.12,834.75 L76.29,835.44 L76.17,836.28 L75.80,837.15 L75.28,837.93 L74.70,838.52 L74.19,838.85 L73.85,838.88 L73.76,838.63 L73.97,838.17 L74.46,837.59 L75.16,837.01 L76.01,836.56 L76.86,836.31 L77.62,836.35 L78.18,836.69 L78.46,837.29 L78.46,838.08 L78.19,838.95 L77.72,839.78 L77.14,840.46 L76.59,840.91 L76.17,841.06 L75.97,840.92 L76.06,840.54 L76.43,840.00 L77.06,839.40 L77.85,838.88 L78.72,838.54 L79.53,838.46 L80.18,838.67 L80.59,839.17 L80.71,839.89 L80.54,840.74 L80.14,841.60 L79.60,842.36 L79.02,842.91 L78.53,843.19 L78.23,843.17 L78.19,842.88 L78.45,842.39 L78.98,841.81 L79.72,841.24 L80.57,840.81 L81.42,840.62 L82.15,840.71 L82.66,841.09 L82.90,841.72 L82.85,842.53 L82.54,843.41 L82.04,844.22 L81.46,844.87 L80.93,845.27 L80.54,845.37 L80.38,845.19 L80.52,844.77 L80.93,844.21 L81.60,843.62 L82.41,843.13 L83.28,842.83 L84.07,842.79 L84.69,843.05 L85.05,843.59 L85.11,844.34 L84.90,845.20 L84.47,846.06" fill="none" stroke="#0e2e08" stroke-width="1.35" stroke-linejoin="round"/>
<path d="M57.97,820.16 L57.42,820.89 L56.85,821.40 L56.38,821.62 L56.12,821.56 L56.13,821.23 L56.44,820.72 L57.00,820.12 L57.77,819.57 L58.63,819.18 L59.47,819.03 L60.17,819.17 L60.64,819.60 L60.83,820.27 L60.73,821.10 L60.38,821.97 L59.86,822.76 L59.29,823.37 L58.76,823.72 L58.41,823.78 L58.30,823.55 L58.48,823.10 L58.95,822.53 L59.64,821.95 L60.47,821.48 L61.34,821.22 L62.11,821.23 L62.68,821.54 L62.99,822.12 L63.01,822.90 L62.76,823.76 L62.30,824.61 L61.74,825.30 L61.18,825.77 L60.74,825.95 L60.52,825.84 L60.58,825.47 L60.93,824.94 L61.54,824.34 L62.33,823.81 L63.19,823.45 L64.01,823.35 L64.68,823.54 L65.11,824.01 L65.25,824.71 L65.10,825.56 L64.72,826.42 L64.19,827.20 L63.61,827.77 L63.11,828.07 L62.79,828.08 L62.73,827.81 L62.96,827.33 L63.47,826.75 L64.19,826.18 L65.04,825.73 L65.89,825.52 L66.63,825.58 L67.17,825.94 L67.43,826.56 L67.41,827.35 L67.11,828.23 L66.63,829.05 L66.05,829.72 L65.51,830.14 L65.10,830.27 L64.93,830.11 L65.03,829.71 L65.43,829.15 L66.08,828.56 L66.88,828.05 L67.75,827.73 L68.55,827.67 L69.19,827.91 L69.57,828.43 L69.66,829.16 L69.47,830.02 L69.06,830.88 L68.51,831.62 L67.93,832.15 L67.46,832.41 L67.18,832.37 L67.16,832.06 L67.44,831.55 L67.99,830.97 L68.74,830.41 L69.60,830.00 L70.44,829.82 L71.16,829.94 L71.65,830.34 L71.87,831.00 L71.79,831.81 L71.46,832.69 L70.95,833.49 L70.38,834.12 L69.84,834.50 L69.47,834.58 L69.34,834.37 L69.50,833.94 L69.94,833.37 L70.62,832.79 L71.44,832.30 L72.31,832.02 L73.09,832.01 L73.68,832.30 L74.02,832.86 L74.06,833.62 L73.83,834.48 L73.39,835.33 L72.83,836.05 L72.26,836.53 L71.81,836.74 L71.57,836.65 L71.61,836.30 L71.93,835.78 L72.52,835.18 L73.30,834.64 L74.16,834.27 L74.99,834.14 L75.67,834.30 L76.12,834.75 L76.29,835.44 L76.17,836.28 L75.80,837.15 L75.28,837.93 L74.70,838.52 L74.19,838.85 L73.85,838.88 L73.76,838.63 L73.97,838.17 L74.46,837.59 L75.16,837.01 L76.01,836.56 L76.86,836.31 L77.62,836.35 L78.18,836.69 L78.46,837.29 L78.46,838.08 L78.19,838.95 L77.72,839.78 L77.14,840.46 L76.59,840.91 L76.17,841.06 L75.97,840.92 L76.06,840.54 L76.43,840.00 L77.06,839.40 L77.85,838.88 L78.72,838.54 L79.53,838.46 L80.18,838.67 L80.59,839.17 L80.71,839.89 L80.54,840.74 L80.14,841.60 L79.60,842.36 L79.02,842.91 L78.53,843.19 L78.23,843.17 L78.19,842.88 L78.45,842.39 L78.98,841.81 L79.72,841.24 L80.57,840.81 L81.42,840.62 L82.15,840.71 L82.66,841.09 L82.90,841.72 L82.85,842.53 L82.54,843.41 L82.04,844.22 L81.46,844.87 L80.93,845.27 L80.54,845.37 L80.38,845.19 L80.52,844.77 L80.93,844.21 L81.60,843.62 L82.41,843.13 L83.28,842.83 L84.07,842.79 L84.69,843.05 L85.05,843.59 L85.11,844.34 L84.90,845.20 L84.47,846.06" fill="none" stroke="#379026" stroke-width="0.6" stroke-linejoin="round"/>
<line x1="61.40" y1="836.90" x2="73.50" y2="852.60" stroke="#379026" stroke-width="2.30" stroke-opacity="0.8"/>
<path d="M62.11,837.82 L61.50,838.43 L60.90,838.85 L60.40,839.03 L60.10,838.98 L60.06,838.72 L60.29,838.31 L60.79,837.84 L61.50,837.39 L62.34,837.05 L63.19,836.90 L63.97,836.97 L64.57,837.28 L64.93,837.81 L65.00,838.51 L64.81,839.29 L64.39,840.07 L63.83,840.76 L63.21,841.28 L62.65,841.59 L62.24,841.65 L62.06,841.49 L62.16,841.15 L62.53,840.70 L63.14,840.22 L63.93,839.82 L64.79,839.57 L65.61,839.52 L66.31,839.71 L66.80,840.14 L67.02,840.76 L66.96,841.51 L66.64,842.30 L66.14,843.05 L65.53,843.66 L64.93,844.08 L64.44,844.27 L64.14,844.21 L64.09,843.95 L64.33,843.55 L64.83,843.07 L65.54,842.62 L66.37,842.29 L67.23,842.13 L68.00,842.20 L68.60,842.52 L68.96,843.05 L69.04,843.74 L68.85,844.52 L68.43,845.30 L67.86,845.99 L67.24,846.52 L66.68,846.82 L66.27,846.89 L66.10,846.72 L66.19,846.38 L66.56,845.93 L67.18,845.46 L67.96,845.05 L68.82,844.80 L69.65,844.75 L70.35,844.95 L70.83,845.37 L71.05,845.99 L70.99,846.74 L70.68,847.54 L70.17,848.28 L69.57,848.90 L68.96,849.32 L68.47,849.50 L68.17,849.45 L68.13,849.19 L68.36,848.78 L68.86,848.31 L69.57,847.86 L70.40,847.52 L71.26,847.36 L72.04,847.44 L72.64,847.75 L72.99,848.28 L73.07,848.97 L72.88,849.76 L72.46,850.54 L71.89,851.23 L71.28,851.75 L70.71,852.05 L70.31,852.12 L70.13,851.96 L70.22,851.61 L70.60,851.16 L71.21,850.69 L71.99,850.29 L72.85,850.03 L73.68,849.99 L74.38,850.18 L74.86,850.61 L75.08,851.23 L75.02,851.98 L74.71,852.77 L74.21,853.52" fill="none" stroke="#0e2e08" stroke-width="1.35" stroke-linejoin="round"/>
<path d="M62.11,837.82 L61.50,838.43 L60.90,838.85 L60.40,839.03 L60.10,838.98 L60.06,838.72 L60.29,838.31 L60.79,837.84 L61.50,837.39 L62.34,837.05 L63.19,836.90 L63.97,836.97 L64.57,837.28 L64.93,837.81 L65.00,838.51 L64.81,839.29 L64.39,840.07 L63.83,840.76 L63.21,841.28 L62.65,841.59 L62.24,841.65 L62.06,841.49 L62.16,841.15 L62.53,840.70 L63.14,840.22 L63.93,839.82 L64.79,839.57 L65.61,839.52 L66.31,839.71 L66.80,840.14 L67.02,840.76 L66.96,841.51 L66.64,842.30 L66.14,843.05 L65.53,843.66 L64.93,844.08 L64.44,844.27 L64.14,844.21 L64.09,843.95 L64.33,843.55 L64.83,843.07 L65.54,842.62 L66.37,842.29 L67.23,842.13 L68.00,842.20 L68.60,842.52 L68.96,843.05 L69.04,843.74 L68.85,844.52 L68.43,845.30 L67.86,845.99 L67.24,846.52 L66.68,846.82 L66.27,846.89 L66.10,846.72 L66.19,846.38 L66.56,845.93 L67.18,845.46 L67.96,845.05 L68.82,844.80 L69.65,844.75 L70.35,844.95 L70.83,845.37 L71.05,845.99 L70.99,846.74 L70.68,847.54 L70.17,848.28 L69.57,848.90 L68.96,849.32 L68.47,849.50 L68.17,849.45 L68.13,849.19 L68.36,848.78 L68.86,848.31 L69.57,847.86 L70.40,847.52 L71.26,847.36 L72.04,847.44 L72.64,847.75 L72.99,848.28 L73.07,848.97 L72.88,849.76 L72.46,850.54 L71.89,851.23 L71.28,851.75 L70.71,852.05 L70.31,852.12 L70.13,851.96 L70.22,851.61 L70.60,851.16 L71.21,850.69 L71.99,850.29 L72.85,850.03 L73.68,849.99 L74.38,850.18 L74.86,850.61 L75.08,851.23 L75.02,851.98 L74.71,852.77 L74.21,853.52" fill="none" stroke="#379026" stroke-width="0.6" stroke-linejoin="round"/>
<line x1="72.50" y1="839.00" x2="82.50" y2="849.00" stroke="#379026" stroke-width="2.30" stroke-opacity="0.8"/>
<path d="M73.38,839.88 L72.89,840.53 L72.37,841.01 L71.91,841.28 L71.58,841.30 L71.43,841.11 L71.52,840.73 L71.84,840.25 L72.37,839.73 L73.06,839.27 L73.85,838.93 L74.64,838.79 L75.37,838.87 L75.94,839.19 L76.32,839.72 L76.46,840.42 L76.37,841.20 L76.08,842.00 L75.64,842.72 L75.13,843.30 L74.63,843.67 L74.22,843.82 L73.98,843.73 L73.95,843.44 L74.15,843.00 L74.58,842.49 L75.20,841.99 L75.95,841.58 L76.75,841.34 L77.52,841.30 L78.18,841.51 L78.66,841.93 L78.92,842.55 L78.94,843.30 L78.75,844.10 L78.38,844.88 L77.89,845.53 L77.37,846.01 L76.91,846.28 L76.58,846.30 L76.43,846.11 L76.52,845.73 L76.84,845.25 L77.37,844.73 L78.06,844.27 L78.85,843.93 L79.64,843.79 L80.37,843.87 L80.94,844.19 L81.32,844.72 L81.46,845.42 L81.37,846.20 L81.08,847.00 L80.64,847.72 L80.13,848.30 L79.63,848.67 L79.22,848.82 L78.98,848.73 L78.95,848.44 L79.15,848.00 L79.58,847.49 L80.20,846.99 L80.95,846.58 L81.75,846.34 L82.52,846.30 L83.18,846.51 L83.66,846.93 L83.92,847.55 L83.94,848.30 L83.75,849.10 L83.38,849.88" fill="none" stroke="#0e2e08" stroke-width="1.35" stroke-linejoin="round"/>
<path d="M73.38,839.88 L72.89,840.53 L72.37,841.01 L71.91,841.28 L71.58,841.30 L71.43,841.11 L71.52,840.73 L71.84,840.25 L72.37,839.73 L73.06,839.27 L73.85,838.93 L74.64,838.79 L75.37,838.87 L75.94,839.19 L76.32,839.72 L76.46,840.42 L76.37,841.20 L76.08,842.00 L75.64,842.72 L75.13,843.30 L74.63,843.67 L74.22,843.82 L73.98,843.73 L73.95,843.44 L74.15,843.00 L74.58,842.49 L75.20,841.99 L75.95,841.58 L76.75,841.34 L77.52,841.30 L78.18,841.51 L78.66,841.93 L78.92,842.55 L78.94,843.30 L78.75,844.10 L78.38,844.88 L77.89,845.53 L77.37,846.01 L76.91,846.28 L76.58,846.30 L76.43,846.11 L76.52,845.73 L76.84,845.25 L77.37,844.73 L78.06,844.27 L78.85,843.93 L79.64,843.79 L80.37,843.87 L80.94,844.19 L81.32,844.72 L81.46,845.42 L81.37,846.20 L81.08,847.00 L80.64,847.72 L80.13,848.30 L79.63,848.67 L79.22,848.82 L78.98,848.73 L78.95,848.44 L79.15,848.00 L79.58,847.49 L80.20,846.99 L80.95,846.58 L81.75,846.34 L82.52,846.30 L83.18,846.51 L83.66,846.93 L83.92,847.55 L83.94,848.30 L83.75,849.10 L83.38,849.88" fill="none" stroke="#379026" stroke-width="0.6" stroke-linejoin="round"/>
<circle cx="31.6" cy="834.4" r="1.7" fill="#1a1ad8"/>
<circle cx="122.8" cy="832.4" r="1.7" fill="#c41616"/>
<path d="M127.4,832.4 L127.9,832.3 L128.4,832.2 L128.9,832.0 L129.4,831.9 L129.9,831.7 L130.4,831.6 L130.9,831.5 L131.4,831.3 L131.9,831.3 L132.4,831.2 L132.9,831.1 L133.4,831.1 L134.0,831.0 L134.5,830.9 L135.0,830.8 L135.5,830.8 L136.0,830.8 L136.5,830.8 L137.0,830.8 L137.5,830.8 L138.0,830.8 L138.5,830.9 L139.0,831.0 L139.5,831.1 L140.0,831.3 L140.5,831.4 L141.0,831.5 L141.5,831.5 L142.0,831.5 L142.5,831.5 L143.0,831.5 L143.5,831.4 L144.0,831.3 L144.5,831.2 L145.0,831.1 L145.6,831.2 L146.2,831.4 L146.7,831.6 L147.2,831.8 L147.8,832.1 L148.3,832.3 L148.8,832.6 L149.4,832.8 L149.9,832.6 L150.4,832.4 L150.9,832.2 L151.4,831.9 L151.9,831.7 L152.4,831.6 L152.9,831.5 L153.5,831.5 L154.0,831.5 L154.6,831.6 L154.8,832.5 L155.0,833.3 L155.4,834.0 L155.9,834.6 L156.7,834.9" fill="none" stroke="#66865c" stroke-width="0.9" stroke-linejoin="round" stroke-linecap="round" />
<path d="M153.9,853.5 L153.3,853.7 L152.7,854.0 L152.1,854.2 L151.4,854.4 L150.8,855.0 L151.2,855.5 L151.7,855.9 L152.2,856.3 L152.7,856.7 L153.3,857.1 L153.9,857.4 L154.5,857.6 L155.1,857.9 L155.7,858.1 L156.3,858.4 L156.9,858.7 L157.4,859.1 L157.9,859.5 L158.4,860.0 L158.8,860.5 L159.2,861.0 L159.7,861.6 L160.2,861.8 L160.8,861.9 L161.3,862.0 L161.9,862.0 L162.4,861.9 L163.0,861.9 L163.5,861.7 L164.3,861.5 L164.5,859.1" fill="none" stroke="#66865c" stroke-width="0.9" stroke-linejoin="round" stroke-linecap="round" />
<line x1="157.20" y1="834.50" x2="153.80" y2="853.30" stroke="#379026" stroke-width="2.30" stroke-opacity="0.8"/>
<path d="M157.00,835.60 L156.11,835.55 L155.38,835.37 L154.92,835.12 L154.80,834.86 L155.03,834.67 L155.57,834.61 L156.33,834.71 L157.19,835.00 L158.00,835.45 L158.64,836.04 L159.00,836.69 L159.02,837.34 L158.69,837.92 L158.06,838.36 L157.21,838.64 L156.28,838.73 L155.40,838.66 L154.71,838.47 L154.31,838.21 L154.25,837.96 L154.53,837.79 L155.12,837.75 L155.90,837.88 L156.76,838.20 L157.56,838.68 L158.16,839.28 L158.46,839.93 L158.42,840.57 L158.04,841.13 L157.36,841.55 L156.49,841.80 L155.56,841.87 L154.71,841.77 L154.06,841.56 L153.70,841.30 L153.70,841.06 L154.04,840.90 L154.67,840.89 L155.48,841.06 L156.34,841.40 L157.11,841.90 L157.66,842.52 L157.91,843.18 L157.82,843.81 L157.38,844.35 L156.66,844.74 L155.77,844.96 L154.84,844.99 L154.01,844.88 L153.41,844.65 L153.11,844.39 L153.17,844.16 L153.56,844.02 L154.23,844.04 L155.05,844.24 L155.91,844.61 L156.65,845.13 L157.16,845.76 L157.36,846.42 L157.20,847.04 L156.71,847.56 L155.95,847.92 L155.05,848.11 L154.13,848.12 L153.33,847.98 L152.77,847.74 L152.53,847.48 L152.65,847.26 L153.09,847.15 L153.79,847.19 L154.63,847.42 L155.48,847.82 L156.19,848.37 L156.65,849.00 L156.79,849.66 L156.57,850.27 L156.03,850.76 L155.24,851.10 L154.32,851.26 L153.41,851.24 L152.65,851.08 L152.14,850.83 L151.96,850.57 L152.13,850.37 L152.63,850.28 L153.36,850.35 L154.21,850.61 L155.04,851.04 L155.72,851.60 L156.13,852.24 L156.21,852.90 L155.94,853.49 L155.35,853.97 L154.53,854.27 L153.60,854.40" fill="none" stroke="#0e2e08" stroke-width="1.35" stroke-linejoin="round"/>
<path d="M157.00,835.60 L156.11,835.55 L155.38,835.37 L154.92,835.12 L154.80,834.86 L155.03,834.67 L155.57,834.61 L156.33,834.71 L157.19,835.00 L158.00,835.45 L158.64,836.04 L159.00,836.69 L159.02,837.34 L158.69,837.92 L158.06,838.36 L157.21,838.64 L156.28,838.73 L155.40,838.66 L154.71,838.47 L154.31,838.21 L154.25,837.96 L154.53,837.79 L155.12,837.75 L155.90,837.88 L156.76,838.20 L157.56,838.68 L158.16,839.28 L158.46,839.93 L158.42,840.57 L158.04,841.13 L157.36,841.55 L156.49,841.80 L155.56,841.87 L154.71,841.77 L154.06,841.56 L153.70,841.30 L153.70,841.06 L154.04,840.90 L154.67,840.89 L155.48,841.06 L156.34,841.40 L157.11,841.90 L157.66,842.52 L157.91,843.18 L157.82,843.81 L157.38,844.35 L156.66,844.74 L155.77,844.96 L154.84,844.99 L154.01,844.88 L153.41,844.65 L153.11,844.39 L153.17,844.16 L153.56,844.02 L154.23,844.04 L155.05,844.24 L155.91,844.61 L156.65,845.13 L157.16,845.76 L157.36,846.42 L157.20,847.04 L156.71,847.56 L155.95,847.92 L155.05,848.11 L154.13,848.12 L153.33,847.98 L152.77,847.74 L152.53,847.48 L152.65,847.26 L153.09,847.15 L153.79,847.19 L154.63,847.42 L155.48,847.82 L156.19,848.37 L156.65,849.00 L156.79,849.66 L156.57,850.27 L156.03,850.76 L155.24,851.10 L154.32,851.26 L153.41,851.24 L152.65,851.08 L152.14,850.83 L151.96,850.57 L152.13,850.37 L152.63,850.28 L153.36,850.35 L154.21,850.61 L155.04,851.04 L155.72,851.60 L156.13,852.24 L156.21,852.90 L155.94,853.49 L155.35,853.97 L154.53,854.27 L153.60,854.40" fill="none" stroke="#379026" stroke-width="0.6" stroke-linejoin="round"/>
<line x1="174.50" y1="823.80" x2="159.70" y2="851.10" stroke="#379026" stroke-width="2.30" stroke-opacity="0.8"/>
<path d="M173.98,824.76 L173.13,824.42 L172.49,824.02 L172.14,823.63 L172.12,823.36 L172.44,823.28 L173.00,823.42 L173.72,823.79 L174.46,824.37 L175.07,825.08 L175.46,825.84 L175.54,826.56 L175.27,827.14 L174.70,827.53 L173.89,827.68 L172.97,827.60 L172.06,827.33 L171.30,826.95 L170.79,826.55 L170.61,826.21 L170.76,826.02 L171.21,826.05 L171.87,826.31 L172.61,826.79 L173.31,827.44 L173.82,828.19 L174.06,828.94 L173.97,829.60 L173.54,830.09 L172.84,830.36 L171.96,830.39 L171.02,830.22 L170.17,829.88 L169.53,829.48 L169.18,829.09 L169.16,828.82 L169.48,828.74 L170.04,828.88 L170.76,829.25 L171.50,829.83 L172.11,830.54 L172.50,831.30 L172.58,832.02 L172.31,832.60 L171.74,832.99 L170.93,833.14 L170.01,833.06 L169.10,832.79 L168.34,832.41 L167.83,832.01 L167.65,831.67 L167.80,831.48 L168.25,831.51 L168.91,831.77 L169.65,832.25 L170.35,832.90 L170.86,833.65 L171.10,834.40 L171.01,835.06 L170.58,835.55 L169.88,835.82 L169.00,835.85 L168.06,835.68 L167.21,835.34 L166.57,834.94 L166.22,834.55 L166.20,834.28 L166.52,834.20 L167.08,834.34 L167.80,834.71 L168.54,835.29 L169.15,836.00 L169.54,836.76 L169.62,837.48 L169.35,838.06 L168.78,838.45 L167.97,838.60 L167.05,838.52 L166.14,838.25 L165.38,837.87 L164.87,837.47 L164.69,837.13 L164.84,836.94 L165.29,836.97 L165.95,837.23 L166.69,837.71 L167.39,838.36 L167.90,839.11 L168.14,839.86 L168.05,840.52 L167.62,841.01 L166.92,841.28 L166.04,841.31 L165.10,841.14 L164.25,840.80 L163.61,840.40 L163.26,840.01 L163.24,839.74 L163.56,839.66 L164.12,839.80 L164.84,840.17 L165.58,840.75 L166.19,841.46 L166.58,842.22 L166.66,842.94 L166.39,843.52 L165.82,843.91 L165.01,844.06 L164.09,843.98 L163.18,843.71 L162.42,843.33 L161.91,842.93 L161.73,842.59 L161.88,842.40 L162.33,842.43 L162.99,842.69 L163.73,843.17 L164.43,843.82 L164.94,844.57 L165.18,845.32 L165.09,845.98 L164.66,846.47 L163.96,846.74 L163.08,846.77 L162.14,846.60 L161.29,846.26 L160.65,845.86 L160.30,845.47 L160.28,845.20 L160.60,845.12 L161.16,845.26 L161.88,845.63 L162.62,846.21 L163.23,846.92 L163.62,847.68 L163.70,848.40 L163.43,848.98 L162.86,849.37 L162.05,849.52 L161.13,849.44 L160.22,849.17 L159.46,848.79 L158.95,848.39 L158.77,848.05 L158.92,847.86 L159.37,847.89 L160.03,848.15 L160.77,848.63 L161.47,849.28 L161.98,850.03 L162.22,850.78 L162.13,851.44 L161.70,851.93 L161.00,852.20 L160.12,852.23 L159.18,852.06" fill="none" stroke="#0e2e08" stroke-width="1.35" stroke-linejoin="round"/>
<path d="M173.98,824.76 L173.13,824.42 L172.49,824.02 L172.14,823.63 L172.12,823.36 L172.44,823.28 L173.00,823.42 L173.72,823.79 L174.46,824.37 L175.07,825.08 L175.46,825.84 L175.54,826.56 L175.27,827.14 L174.70,827.53 L173.89,827.68 L172.97,827.60 L172.06,827.33 L171.30,826.95 L170.79,826.55 L170.61,826.21 L170.76,826.02 L171.21,826.05 L171.87,826.31 L172.61,826.79 L173.31,827.44 L173.82,828.19 L174.06,828.94 L173.97,829.60 L173.54,830.09 L172.84,830.36 L171.96,830.39 L171.02,830.22 L170.17,829.88 L169.53,829.48 L169.18,829.09 L169.16,828.82 L169.48,828.74 L170.04,828.88 L170.76,829.25 L171.50,829.83 L172.11,830.54 L172.50,831.30 L172.58,832.02 L172.31,832.60 L171.74,832.99 L170.93,833.14 L170.01,833.06 L169.10,832.79 L168.34,832.41 L167.83,832.01 L167.65,831.67 L167.80,831.48 L168.25,831.51 L168.91,831.77 L169.65,832.25 L170.35,832.90 L170.86,833.65 L171.10,834.40 L171.01,835.06 L170.58,835.55 L169.88,835.82 L169.00,835.85 L168.06,835.68 L167.21,835.34 L166.57,834.94 L166.22,834.55 L166.20,834.28 L166.52,834.20 L167.08,834.34 L167.80,834.71 L168.54,835.29 L169.15,836.00 L169.54,836.76 L169.62,837.48 L169.35,838.06 L168.78,838.45 L167.97,838.60 L167.05,838.52 L166.14,838.25 L165.38,837.87 L164.87,837.47 L164.69,837.13 L164.84,836.94 L165.29,836.97 L165.95,837.23 L166.69,837.71 L167.39,838.36 L167.90,839.11 L168.14,839.86 L168.05,840.52 L167.62,841.01 L166.92,841.28 L166.04,841.31 L165.10,841.14 L164.25,840.80 L163.61,840.40 L163.26,840.01 L163.24,839.74 L163.56,839.66 L164.12,839.80 L164.84,840.17 L165.58,840.75 L166.19,841.46 L166.58,842.22 L166.66,842.94 L166.39,843.52 L165.82,843.91 L165.01,844.06 L164.09,843.98 L163.18,843.71 L162.42,843.33 L161.91,842.93 L161.73,842.59 L161.88,842.40 L162.33,842.43 L162.99,842.69 L163.73,843.17 L164.43,843.82 L164.94,844.57 L165.18,845.32 L165.09,845.98 L164.66,846.47 L163.96,846.74 L163.08,846.77 L162.14,846.60 L161.29,846.26 L160.65,845.86 L160.30,845.47 L160.28,845.20 L160.60,845.12 L161.16,845.26 L161.88,845.63 L162.62,846.21 L163.23,846.92 L163.62,847.68 L163.70,848.40 L163.43,848.98 L162.86,849.37 L162.05,849.52 L161.13,849.44 L160.22,849.17 L159.46,848.79 L158.95,848.39 L158.77,848.05 L158.92,847.86 L159.37,847.89 L160.03,848.15 L160.77,848.63 L161.47,849.28 L161.98,850.03 L162.22,850.78 L162.13,851.44 L161.70,851.93 L161.00,852.20 L160.12,852.23 L159.18,852.06" fill="none" stroke="#379026" stroke-width="0.6" stroke-linejoin="round"/>
<line x1="180.30" y1="823.10" x2="164.90" y2="859.20" stroke="#379026" stroke-width="2.30" stroke-opacity="0.8"/>
<path d="M179.85,824.15 L179.01,823.92 L178.35,823.60 L177.95,823.25 L177.86,822.97 L178.08,822.81 L178.56,822.83 L179.24,823.05 L179.98,823.46 L180.69,824.04 L181.23,824.73 L181.52,825.44 L181.51,826.11 L181.18,826.66 L180.57,827.04 L179.77,827.22 L178.87,827.21 L177.99,827.02 L177.26,826.72 L176.77,826.37 L176.57,826.06 L176.69,825.85 L177.09,825.81 L177.72,825.96 L178.45,826.31 L179.18,826.84 L179.79,827.50 L180.17,828.21 L180.26,828.90 L180.04,829.50 L179.52,829.94 L178.77,830.19 L177.89,830.24 L176.99,830.11 L176.20,829.84 L175.62,829.50 L175.32,829.17 L175.33,828.92 L175.65,828.81 L176.21,828.90 L176.92,829.18 L177.66,829.66 L178.32,830.28 L178.79,830.98 L178.98,831.69 L178.86,832.32 L178.44,832.82 L177.76,833.14 L176.91,833.26 L176.00,833.18 L175.16,832.95 L174.50,832.62 L174.10,832.28 L174.01,831.99 L174.23,831.84 L174.71,831.85 L175.39,832.07 L176.13,832.49 L176.84,833.07 L177.38,833.75 L177.67,834.46 L177.66,835.13 L177.33,835.68 L176.72,836.07 L175.92,836.25 L175.02,836.23 L174.14,836.05 L173.41,835.74 L172.92,835.40 L172.72,835.09 L172.84,834.88 L173.24,834.83 L173.87,834.99 L174.60,835.34 L175.33,835.87 L175.94,836.52 L176.32,837.24 L176.41,837.93 L176.19,838.53 L175.67,838.97 L174.92,839.22 L174.04,839.27 L173.14,839.13 L172.35,838.86 L171.77,838.52 L171.47,838.19 L171.48,837.94 L171.80,837.84 L172.36,837.92 L173.07,838.21 L173.81,838.68 L174.47,839.30 L174.94,840.01 L175.13,840.71 L175.01,841.35 L174.59,841.85 L173.91,842.17 L173.06,842.28 L172.15,842.20 L171.31,841.97 L170.65,841.65 L170.25,841.30 L170.16,841.02 L170.38,840.86 L170.86,840.88 L171.54,841.10 L172.28,841.51 L172.99,842.09 L173.53,842.78 L173.82,843.49 L173.81,844.16 L173.48,844.71 L172.87,845.09 L172.07,845.27 L171.17,845.26 L170.29,845.07 L169.56,844.77 L169.07,844.42 L168.87,844.11 L168.99,843.90 L169.39,843.86 L170.02,844.01 L170.75,844.36 L171.48,844.89 L172.09,845.55 L172.47,846.26 L172.56,846.95 L172.34,847.55 L171.82,847.99 L171.07,848.24 L170.19,848.29 L169.29,848.16 L168.50,847.89 L167.92,847.55 L167.62,847.22 L167.63,846.97 L167.95,846.86 L168.51,846.95 L169.22,847.23 L169.96,847.71 L170.62,848.33 L171.09,849.03 L171.28,849.74 L171.16,850.37 L170.74,850.87 L170.06,851.19 L169.21,851.31 L168.30,851.23 L167.46,851.00 L166.80,850.67 L166.40,850.33 L166.31,850.04 L166.53,849.89 L167.01,849.90 L167.69,850.12 L168.43,850.54 L169.14,851.12 L169.68,851.80 L169.97,852.51 L169.96,853.18 L169.63,853.73 L169.02,854.12 L168.22,854.30 L167.32,854.28 L166.44,854.10 L165.71,853.79 L165.22,853.45 L165.02,853.14 L165.14,852.93 L165.54,852.88 L166.17,853.04 L166.90,853.39 L167.63,853.92 L168.24,854.57 L168.62,855.29 L168.71,855.98 L168.49,856.58 L167.97,857.02 L167.22,857.27 L166.34,857.32 L165.44,857.18 L164.65,856.91 L164.07,856.57 L163.77,856.24 L163.78,855.99 L164.10,855.89 L164.66,855.97 L165.37,856.26 L166.11,856.73 L166.77,857.35 L167.24,858.06 L167.43,858.76 L167.31,859.40 L166.89,859.90 L166.21,860.22 L165.36,860.33 L164.45,860.25" fill="none" stroke="#0e2e08" stroke-width="1.35" stroke-linejoin="round"/>
<path d="M179.85,824.15 L179.01,823.92 L178.35,823.60 L177.95,823.25 L177.86,822.97 L178.08,822.81 L178.56,822.83 L179.24,823.05 L179.98,823.46 L180.69,824.04 L181.23,824.73 L181.52,825.44 L181.51,826.11 L181.18,826.66 L180.57,827.04 L179.77,827.22 L178.87,827.21 L177.99,827.02 L177.26,826.72 L176.77,826.37 L176.57,826.06 L176.69,825.85 L177.09,825.81 L177.72,825.96 L178.45,826.31 L179.18,826.84 L179.79,827.50 L180.17,828.21 L180.26,828.90 L180.04,829.50 L179.52,829.94 L178.77,830.19 L177.89,830.24 L176.99,830.11 L176.20,829.84 L175.62,829.50 L175.32,829.17 L175.33,828.92 L175.65,828.81 L176.21,828.90 L176.92,829.18 L177.66,829.66 L178.32,830.28 L178.79,830.98 L178.98,831.69 L178.86,832.32 L178.44,832.82 L177.76,833.14 L176.91,833.26 L176.00,833.18 L175.16,832.95 L174.50,832.62 L174.10,832.28 L174.01,831.99 L174.23,831.84 L174.71,831.85 L175.39,832.07 L176.13,832.49 L176.84,833.07 L177.38,833.75 L177.67,834.46 L177.66,835.13 L177.33,835.68 L176.72,836.07 L175.92,836.25 L175.02,836.23 L174.14,836.05 L173.41,835.74 L172.92,835.40 L172.72,835.09 L172.84,834.88 L173.24,834.83 L173.87,834.99 L174.60,835.34 L175.33,835.87 L175.94,836.52 L176.32,837.24 L176.41,837.93 L176.19,838.53 L175.67,838.97 L174.92,839.22 L174.04,839.27 L173.14,839.13 L172.35,838.86 L171.77,838.52 L171.47,838.19 L171.48,837.94 L171.80,837.84 L172.36,837.92 L173.07,838.21 L173.81,838.68 L174.47,839.30 L174.94,840.01 L175.13,840.71 L175.01,841.35 L174.59,841.85 L173.91,842.17 L173.06,842.28 L172.15,842.20 L171.31,841.97 L170.65,841.65 L170.25,841.30 L170.16,841.02 L170.38,840.86 L170.86,840.88 L171.54,841.10 L172.28,841.51 L172.99,842.09 L173.53,842.78 L173.82,843.49 L173.81,844.16 L173.48,844.71 L172.87,845.09 L172.07,845.27 L171.17,845.26 L170.29,845.07 L169.56,844.77 L169.07,844.42 L168.87,844.11 L168.99,843.90 L169.39,843.86 L170.02,844.01 L170.75,844.36 L171.48,844.89 L172.09,845.55 L172.47,846.26 L172.56,846.95 L172.34,847.55 L171.82,847.99 L171.07,848.24 L170.19,848.29 L169.29,848.16 L168.50,847.89 L167.92,847.55 L167.62,847.22 L167.63,846.97 L167.95,846.86 L168.51,846.95 L169.22,847.23 L169.96,847.71 L170.62,848.33 L171.09,849.03 L171.28,849.74 L171.16,850.37 L170.74,850.87 L170.06,851.19 L169.21,851.31 L168.30,851.23 L167.46,851.00 L166.80,850.67 L166.40,850.33 L166.31,850.04 L166.53,849.89 L167.01,849.90 L167.69,850.12 L168.43,850.54 L169.14,851.12 L169.68,851.80 L169.97,852.51 L169.96,853.18 L169.63,853.73 L169.02,854.12 L168.22,854.30 L167.32,854.28 L166.44,854.10 L165.71,853.79 L165.22,853.45 L165.02,853.14 L165.14,852.93 L165.54,852.88 L166.17,853.04 L166.90,853.39 L167.63,853.92 L168.24,854.57 L168.62,855.29 L168.71,855.98 L168.49,856.58 L167.97,857.02 L167.22,857.27 L166.34,857.32 L165.44,857.18 L164.65,856.91 L164.07,856.57 L163.77,856.24 L163.78,855.99 L164.10,855.89 L164.66,855.97 L165.37,856.26 L166.11,856.73 L166.77,857.35 L167.24,858.06 L167.43,858.76 L167.31,859.40 L166.89,859.90 L166.21,860.22 L165.36,860.33 L164.45,860.25" fill="none" stroke="#379026" stroke-width="0.6" stroke-linejoin="round"/>
<line x1="179.60" y1="833.40" x2="172.20" y2="845.90" stroke="#379026" stroke-width="2.30" stroke-opacity="0.8"/>
<path d="M179.08,834.27 L178.19,833.87 L177.55,833.41 L177.25,833.02 L177.33,832.79 L177.76,832.81 L178.44,833.10 L179.22,833.64 L179.94,834.37 L180.44,835.17 L180.61,835.94 L180.40,836.55 L179.82,836.94 L178.97,837.05 L177.99,836.90 L177.05,836.55 L176.29,836.09 L175.84,835.66 L175.77,835.35 L176.07,835.27 L176.67,835.45 L177.43,835.90 L178.19,836.56 L178.80,837.35 L179.11,838.14 L179.05,838.83 L178.61,839.31 L177.86,839.53 L176.91,839.48 L175.93,839.20 L175.08,838.78 L174.50,838.32 L174.27,837.95 L174.43,837.77 L174.92,837.84 L175.64,838.19 L176.42,838.77 L177.10,839.53 L177.54,840.33 L177.64,841.08 L177.35,841.65 L176.71,841.98 L175.82,842.04 L174.84,841.84 L173.91,841.46 L173.21,841.00 L172.84,840.58 L172.84,840.32 L173.21,840.28 L173.85,840.52 L174.63,841.02 L175.37,841.71 L175.92,842.51 L176.17,843.29 L176.03,843.95 L175.52,844.38 L174.72,844.55 L173.75,844.44 L172.79,844.13 L171.98,843.69 L171.46,843.24 L171.31,842.90 L171.55,842.76 L172.09,842.89 L172.83,843.29 L173.61,843.92 L174.25,844.69 L174.63,845.49 L174.65,846.21 L174.29,846.74 L173.59,847.01 L172.67,847.01 L171.68,846.77" fill="none" stroke="#0e2e08" stroke-width="1.35" stroke-linejoin="round"/>
<path d="M179.08,834.27 L178.19,833.87 L177.55,833.41 L177.25,833.02 L177.33,832.79 L177.76,832.81 L178.44,833.10 L179.22,833.64 L179.94,834.37 L180.44,835.17 L180.61,835.94 L180.40,836.55 L179.82,836.94 L178.97,837.05 L177.99,836.90 L177.05,836.55 L176.29,836.09 L175.84,835.66 L175.77,835.35 L176.07,835.27 L176.67,835.45 L177.43,835.90 L178.19,836.56 L178.80,837.35 L179.11,838.14 L179.05,838.83 L178.61,839.31 L177.86,839.53 L176.91,839.48 L175.93,839.20 L175.08,838.78 L174.50,838.32 L174.27,837.95 L174.43,837.77 L174.92,837.84 L175.64,838.19 L176.42,838.77 L177.10,839.53 L177.54,840.33 L177.64,841.08 L177.35,841.65 L176.71,841.98 L175.82,842.04 L174.84,841.84 L173.91,841.46 L173.21,841.00 L172.84,840.58 L172.84,840.32 L173.21,840.28 L173.85,840.52 L174.63,841.02 L175.37,841.71 L175.92,842.51 L176.17,843.29 L176.03,843.95 L175.52,844.38 L174.72,844.55 L173.75,844.44 L172.79,844.13 L171.98,843.69 L171.46,843.24 L171.31,842.90 L171.55,842.76 L172.09,842.89 L172.83,843.29 L173.61,843.92 L174.25,844.69 L174.63,845.49 L174.65,846.21 L174.29,846.74 L173.59,847.01 L172.67,847.01 L171.68,846.77" fill="none" stroke="#379026" stroke-width="0.6" stroke-linejoin="round"/>
<line x1="181.10" y1="827.50" x2="187.70" y2="833.40" stroke="#379026" stroke-width="1.80" stroke-opacity="0.8"/>
<path d="M181.87,828.19 L181.45,828.82 L181.00,829.23 L180.62,829.38 L180.40,829.27 L180.42,828.93 L180.70,828.45 L181.22,827.95 L181.90,827.53 L182.65,827.31 L183.37,827.33 L183.95,827.63 L184.31,828.17 L184.42,828.88 L184.28,829.66 L183.94,830.38 L183.50,830.95 L183.06,831.28 L182.72,831.34 L182.58,831.14 L182.69,830.75 L183.05,830.25 L183.63,829.76 L184.35,829.40 L185.10,829.25 L185.78,829.37 L186.30,829.76 L186.58,830.36 L186.60,831.11 L186.38,831.88 L186.00,832.56 L185.55,833.06 L185.13,833.30 L184.85,833.27 L184.79,832.99 L184.98,832.55 L185.42,832.04 L186.06,831.59 L186.80,831.29 L187.54,831.23 L188.18,831.44 L188.62,831.90 L188.81,832.57 L188.75,833.33 L188.47,834.09" fill="none" stroke="#0e2e08" stroke-width="1.35" stroke-linejoin="round"/>
<path d="M181.87,828.19 L181.45,828.82 L181.00,829.23 L180.62,829.38 L180.40,829.27 L180.42,828.93 L180.70,828.45 L181.22,827.95 L181.90,827.53 L182.65,827.31 L183.37,827.33 L183.95,827.63 L184.31,828.17 L184.42,828.88 L184.28,829.66 L183.94,830.38 L183.50,830.95 L183.06,831.28 L182.72,831.34 L182.58,831.14 L182.69,830.75 L183.05,830.25 L183.63,829.76 L184.35,829.40 L185.10,829.25 L185.78,829.37 L186.30,829.76 L186.58,830.36 L186.60,831.11 L186.38,831.88 L186.00,832.56 L185.55,833.06 L185.13,833.30 L184.85,833.27 L184.79,832.99 L184.98,832.55 L185.42,832.04 L186.06,831.59 L186.80,831.29 L187.54,831.23 L188.18,831.44 L188.62,831.90 L188.81,832.57 L188.75,833.33 L188.47,834.09" fill="none" stroke="#379026" stroke-width="0.6" stroke-linejoin="round"/>
<path d="M187.9,833.0 L188.3,833.6 L188.6,834.2 L189.0,834.7 L189.4,835.2 L189.9,835.6 L190.4,835.9 L191.0,836.0 L191.6,836.0 L192.3,836.0 L192.8,835.9 L193.0,834.9 L193.4,834.1 L193.9,833.4 L194.7,832.9 L195.6,832.5" fill="none" stroke="#66865c" stroke-width="0.9" stroke-linejoin="round" stroke-linecap="round" />
<line x1="195.50" y1="832.50" x2="199.50" y2="836.50" stroke="#379026" stroke-width="1.60" stroke-opacity="0.8"/>
<path d="M196.20,833.20 L195.78,833.76 L195.34,834.11 L194.98,834.19 L194.81,834.02 L194.89,833.66 L195.24,833.22 L195.80,832.80 L196.50,832.52 L197.23,832.46 L197.88,832.67 L198.33,833.12 L198.54,833.77 L198.48,834.50 L198.20,835.20 L197.78,835.76 L197.34,836.11 L196.98,836.19 L196.81,836.02 L196.89,835.66 L197.24,835.22 L197.80,834.80 L198.50,834.52 L199.23,834.46 L199.88,834.67 L200.33,835.12 L200.54,835.77 L200.48,836.50 L200.20,837.20" fill="none" stroke="#0e2e08" stroke-width="1.35" stroke-linejoin="round"/>
<path d="M196.20,833.20 L195.78,833.76 L195.34,834.11 L194.98,834.19 L194.81,834.02 L194.89,833.66 L195.24,833.22 L195.80,832.80 L196.50,832.52 L197.23,832.46 L197.88,832.67 L198.33,833.12 L198.54,833.77 L198.48,834.50 L198.20,835.20 L197.78,835.76 L197.34,836.11 L196.98,836.19 L196.81,836.02 L196.89,835.66 L197.24,835.22 L197.80,834.80 L198.50,834.52 L199.23,834.46 L199.88,834.67 L200.33,835.12 L200.54,835.77 L200.48,836.50 L200.20,837.20" fill="none" stroke="#379026" stroke-width="0.6" stroke-linejoin="round"/>
<path d="M199.3,835.1 L199.8,835.1 L200.4,835.2 L200.9,835.4 L201.5,835.6 L202.1,835.9 L202.6,836.1 L203.2,836.2 L203.7,836.2 L204.2,836.0 L204.6,835.8 L205.1,835.4 L205.5,835.0 L206.0,834.5 L206.4,834.1 L206.9,833.8 L207.3,833.6 L207.8,833.4 L208.3,833.5 L208.9,833.6 L209.4,833.8 L210.0,834.0 L210.5,834.3 L211.0,834.6 L211.5,834.8 L212.0,834.9 L212.5,834.9 L213.0,834.8 L213.5,834.5 L214.0,834.3 L214.5,834.0 L215.0,833.7 L215.5,833.5 L216.0,833.3 L216.5,833.2 L217.0,833.2 L217.5,833.3 L218.0,833.5 L218.5,833.7 L219.0,833.9 L219.5,834.2 L220.0,834.4 L220.5,834.6 L221.0,834.7 L221.5,834.7 L222.0,834.7 L222.5,834.6 L223.0,834.4 L223.5,834.2 L224.0,833.9 L224.5,833.7 L225.0,833.5 L225.5,833.4 L226.0,833.3 L226.5,833.3 L227.0,833.4 L227.5,833.5 L228.0,833.7 L228.5,833.9 L229.0,834.2 L229.5,834.4 L230.0,834.6 L230.5,834.7 L231.0,834.7 L231.5,834.7 L232.0,834.5 L232.5,834.3 L233.0,834.0 L233.5,833.8 L234.0,833.5 L234.5,833.3 L235.0,833.1 L235.5,833.1 L236.0,833.1 L236.5,833.2 L237.0,833.5 L237.5,833.7 L238.0,834.0 L238.5,834.2 L239.0,834.4 L239.5,834.5 L240.0,834.5 L240.5,834.4 L241.0,834.3 L241.5,834.0 L242.0,833.7 L242.5,833.4 L243.0,833.2 L243.5,833.0 L244.0,832.9 L244.5,832.9 L245.0,833.1 L245.5,833.3 L246.0,833.5 L246.5,833.7 L247.0,834.0 L247.5,834.1 L248.0,834.2 L248.5,834.1 L249.0,834.0 L249.5,833.8 L250.0,833.6 L250.5,833.4 L251.0,833.2 L251.6,833.1 L252.1,833.0 L252.6,833.1 L253.1,833.2 L253.6,833.4 L254.1,833.6 L254.6,833.9 L255.1,834.0 L255.6,834.2 L256.1,834.2 L256.7,834.1 L257.2,834.0 L257.7,833.8 L258.2,833.6 L258.7,833.4 L259.3,833.3 L259.8,833.3 L260.3,833.4 L260.8,833.5 L261.3,833.7 L261.8,834.0 L262.3,834.2 L262.8,834.4 L263.3,834.6 L263.8,834.6 L264.4,834.5 L264.9,834.3 L265.4,834.1" fill="none" stroke="#66865c" stroke-width="0.9" stroke-linejoin="round" stroke-linecap="round" />
<circle cx="127.3" cy="831.9" r="1.7" fill="#1a1ad8"/>
<circle cx="265.4" cy="834" r="1.7" fill="#c41616"/>
<circle cx="269.8" cy="830.9" r="1.7" fill="#1a1ad8"/>
<path d="M269.8,830.9 L270.3,831.1 L270.8,831.3 L271.3,831.4 L271.8,831.5 L272.3,831.6 L272.8,831.6 L273.3,831.6 L273.9,831.6 L274.4,831.5 L274.9,831.4 L275.4,831.3 L276.0,831.2 L276.5,831.2 L277.0,831.1 L277.5,831.1 L278.0,831.2 L278.5,831.3 L279.0,831.4 L279.5,831.6 L280.0,831.8 L280.5,832.1 L281.0,832.3 L281.5,832.6 L281.9,832.8 L282.4,832.9 L282.9,833.0 L283.4,833.1 L283.9,833.1 L284.4,833.1 L285.0,833.0 L285.5,832.8 L286.0,832.7 L286.5,832.5 L287.0,832.3 L287.6,832.2 L288.1,832.1 L288.6,832.1 L289.1,832.1 L289.6,832.2 L290.1,832.3 L290.6,832.5 L291.0,832.7 L291.5,833.0 L292.0,833.2 L292.5,833.5 L293.0,833.8 L293.4,834.0 L293.9,834.1 L294.4,834.2 L295.0,834.3 L295.5,834.2 L296.0,834.1 L296.5,833.9 L297.0,833.7 L297.5,833.5 L298.0,833.3 L298.5,833.1 L299.0,833.0 L299.5,832.9 L300.0,832.8 L300.5,832.8 L301.0,832.8 L301.5,832.9 L302.0,833.0 L302.5,833.1 L303.0,833.3 L303.5,833.4 L304.0,833.6 L304.5,833.7 L304.7,833.7 L305.2,834.2 L305.8,834.7 L306.3,835.1 L307.0,835.4 L307.6,835.7 L308.2,836.1 L308.6,835.3 L309.1,834.7 L309.7,834.1 L310.3,833.5 L311.0,832.9 L311.5,832.9 L312.1,832.9 L312.6,832.9 L313.1,832.9 L313.7,832.8 L314.2,832.7 L314.7,832.6 L315.2,832.5 L315.7,832.4 L316.3,832.2 L317.0,832.2 L317.5,833.7 L317.8,835.3 L318.1,836.8 L318.5,838.3" fill="none" stroke="#66865c" stroke-width="0.9" stroke-linejoin="round" stroke-linecap="round" />
<line x1="307.50" y1="833.50" x2="311.50" y2="835.50" stroke="#379026" stroke-width="1.60" stroke-opacity="0.8"/>
<path d="M308.90,834.20 L308.82,834.67 L308.65,835.04 L308.42,835.31 L308.16,835.46 L307.90,835.47 L307.68,835.36 L307.54,835.15 L307.50,834.85 L307.57,834.50 L307.77,834.14 L308.10,833.80 L308.54,833.52 L309.07,833.32 L309.67,833.23 L310.30,833.27 L310.92,833.44 L311.50,833.73 L312.01,834.13 L312.41,834.60 L312.70,835.13 L312.86,835.68 L312.90,836.20" fill="none" stroke="#0e2e08" stroke-width="1.35" stroke-linejoin="round"/>
<path d="M308.90,834.20 L308.82,834.67 L308.65,835.04 L308.42,835.31 L308.16,835.46 L307.90,835.47 L307.68,835.36 L307.54,835.15 L307.50,834.85 L307.57,834.50 L307.77,834.14 L308.10,833.80 L308.54,833.52 L309.07,833.32 L309.67,833.23 L310.30,833.27 L310.92,833.44 L311.50,833.73 L312.01,834.13 L312.41,834.60 L312.70,835.13 L312.86,835.68 L312.90,836.20" fill="none" stroke="#379026" stroke-width="0.6" stroke-linejoin="round"/>
<path d="M318.9,841.2 L318.3,841.1 L317.8,840.9 L317.3,840.8 L316.8,840.7 L316.2,840.7 L315.7,840.7 L315.2,840.7 L314.6,840.6 L314.1,840.5 L313.7,840.3 L313.4,842.6 L314.4,844.8 L315.3,845.0 L316.2,845.3 L316.9,845.7 L317.4,846.3 L317.8,847.1 L318.1,847.9 L318.4,848.6 L318.8,849.2 L319.3,849.7 L319.8,850.2 L320.3,850.7 L320.8,851.2 L321.3,851.7 L321.8,852.2 L322.3,852.6 L322.9,853.0 L323.6,853.2 L324.3,853.4 L325.1,853.5 L325.8,853.7" fill="none" stroke="#66865c" stroke-width="0.9" stroke-linejoin="round" stroke-linecap="round" />
<line x1="318.90" y1="840.90" x2="355.30" y2="834.50" stroke="#379026" stroke-width="2.30" stroke-opacity="0.8"/>
<path d="M319.96,840.71 L320.23,841.60 L320.31,842.36 L320.22,842.87 L320.02,843.03 L319.75,842.82 L319.51,842.27 L319.37,841.45 L319.38,840.50 L319.57,839.57 L319.94,838.81 L320.47,838.34 L321.10,838.23 L321.76,838.49 L322.37,839.08 L322.86,839.88 L323.19,840.77 L323.34,841.59 L323.30,842.20 L323.13,842.49 L322.88,842.40 L322.62,841.95 L322.44,841.21 L322.39,840.29 L322.52,839.33 L322.83,838.50 L323.31,837.92 L323.92,837.69 L324.57,837.83 L325.21,838.32 L325.75,839.07 L326.14,839.95 L326.34,840.80 L326.37,841.50 L326.23,841.90 L326.00,841.94 L325.73,841.61 L325.52,840.95 L325.42,840.07 L325.49,839.11 L325.74,838.22 L326.17,837.55 L326.74,837.19 L327.39,837.21 L328.04,837.59 L328.62,838.26 L329.06,839.11 L329.33,840.00 L329.41,840.76 L329.32,841.27 L329.12,841.43 L328.85,841.22 L328.61,840.67 L328.47,839.85 L328.48,838.90 L328.67,837.97 L329.04,837.21 L329.57,836.74 L330.20,836.63 L330.86,836.89 L331.47,837.48 L331.96,838.28 L332.29,839.17 L332.44,839.99 L332.40,840.60 L332.23,840.89 L331.98,840.80 L331.72,840.35 L331.54,839.61 L331.49,838.69 L331.62,837.73 L331.93,836.90 L332.41,836.32 L333.02,836.09 L333.67,836.23 L334.31,836.72 L334.85,837.47 L335.24,838.35 L335.44,839.20 L335.47,839.90 L335.33,840.30 L335.10,840.34 L334.83,840.01 L334.62,839.35 L334.52,838.47 L334.59,837.51 L334.84,836.62 L335.27,835.95 L335.84,835.59 L336.49,835.61 L337.14,835.99 L337.72,836.66 L338.16,837.51 L338.43,838.40 L338.51,839.16 L338.42,839.67 L338.22,839.83 L337.95,839.62 L337.71,839.07 L337.57,838.25 L337.58,837.30 L337.77,836.37 L338.14,835.61 L338.67,835.14 L339.30,835.03 L339.96,835.29 L340.57,835.88 L341.06,836.68 L341.39,837.57 L341.54,838.39 L341.50,839.00 L341.33,839.29 L341.08,839.20 L340.82,838.75 L340.64,838.01 L340.59,837.09 L340.72,836.13 L341.03,835.30 L341.51,834.72 L342.12,834.49 L342.77,834.63 L343.41,835.12 L343.95,835.87 L344.34,836.75 L344.54,837.60 L344.57,838.30 L344.43,838.70 L344.20,838.74 L343.93,838.41 L343.72,837.75 L343.62,836.87 L343.69,835.91 L343.94,835.02 L344.37,834.35 L344.94,833.99 L345.59,834.01 L346.24,834.39 L346.82,835.06 L347.26,835.91 L347.53,836.80 L347.61,837.56 L347.52,838.07 L347.32,838.23 L347.05,838.02 L346.81,837.47 L346.67,836.65 L346.68,835.70 L346.87,834.77 L347.24,834.01 L347.77,833.54 L348.40,833.43 L349.06,833.69 L349.67,834.28 L350.16,835.08 L350.49,835.97 L350.64,836.79 L350.60,837.40 L350.43,837.69 L350.18,837.60 L349.92,837.15 L349.74,836.41 L349.69,835.49 L349.82,834.53 L350.13,833.70 L350.61,833.12 L351.22,832.89 L351.87,833.03 L352.51,833.52 L353.05,834.27 L353.44,835.15 L353.64,836.00 L353.67,836.70 L353.53,837.10 L353.30,837.14 L353.03,836.81 L352.82,836.15 L352.72,835.27 L352.79,834.31 L353.04,833.42 L353.47,832.75 L354.04,832.39 L354.69,832.41 L355.34,832.79 L355.92,833.46 L356.36,834.31" fill="none" stroke="#0e2e08" stroke-width="1.35" stroke-linejoin="round"/>
<path d="M319.96,840.71 L320.23,841.60 L320.31,842.36 L320.22,842.87 L320.02,843.03 L319.75,842.82 L319.51,842.27 L319.37,841.45 L319.38,840.50 L319.57,839.57 L319.94,838.81 L320.47,838.34 L321.10,838.23 L321.76,838.49 L322.37,839.08 L322.86,839.88 L323.19,840.77 L323.34,841.59 L323.30,842.20 L323.13,842.49 L322.88,842.40 L322.62,841.95 L322.44,841.21 L322.39,840.29 L322.52,839.33 L322.83,838.50 L323.31,837.92 L323.92,837.69 L324.57,837.83 L325.21,838.32 L325.75,839.07 L326.14,839.95 L326.34,840.80 L326.37,841.50 L326.23,841.90 L326.00,841.94 L325.73,841.61 L325.52,840.95 L325.42,840.07 L325.49,839.11 L325.74,838.22 L326.17,837.55 L326.74,837.19 L327.39,837.21 L328.04,837.59 L328.62,838.26 L329.06,839.11 L329.33,840.00 L329.41,840.76 L329.32,841.27 L329.12,841.43 L328.85,841.22 L328.61,840.67 L328.47,839.85 L328.48,838.90 L328.67,837.97 L329.04,837.21 L329.57,836.74 L330.20,836.63 L330.86,836.89 L331.47,837.48 L331.96,838.28 L332.29,839.17 L332.44,839.99 L332.40,840.60 L332.23,840.89 L331.98,840.80 L331.72,840.35 L331.54,839.61 L331.49,838.69 L331.62,837.73 L331.93,836.90 L332.41,836.32 L333.02,836.09 L333.67,836.23 L334.31,836.72 L334.85,837.47 L335.24,838.35 L335.44,839.20 L335.47,839.90 L335.33,840.30 L335.10,840.34 L334.83,840.01 L334.62,839.35 L334.52,838.47 L334.59,837.51 L334.84,836.62 L335.27,835.95 L335.84,835.59 L336.49,835.61 L337.14,835.99 L337.72,836.66 L338.16,837.51 L338.43,838.40 L338.51,839.16 L338.42,839.67 L338.22,839.83 L337.95,839.62 L337.71,839.07 L337.57,838.25 L337.58,837.30 L337.77,836.37 L338.14,835.61 L338.67,835.14 L339.30,835.03 L339.96,835.29 L340.57,835.88 L341.06,836.68 L341.39,837.57 L341.54,838.39 L341.50,839.00 L341.33,839.29 L341.08,839.20 L340.82,838.75 L340.64,838.01 L340.59,837.09 L340.72,836.13 L341.03,835.30 L341.51,834.72 L342.12,834.49 L342.77,834.63 L343.41,835.12 L343.95,835.87 L344.34,836.75 L344.54,837.60 L344.57,838.30 L344.43,838.70 L344.20,838.74 L343.93,838.41 L343.72,837.75 L343.62,836.87 L343.69,835.91 L343.94,835.02 L344.37,834.35 L344.94,833.99 L345.59,834.01 L346.24,834.39 L346.82,835.06 L347.26,835.91 L347.53,836.80 L347.61,837.56 L347.52,838.07 L347.32,838.23 L347.05,838.02 L346.81,837.47 L346.67,836.65 L346.68,835.70 L346.87,834.77 L347.24,834.01 L347.77,833.54 L348.40,833.43 L349.06,833.69 L349.67,834.28 L350.16,835.08 L350.49,835.97 L350.64,836.79 L350.60,837.40 L350.43,837.69 L350.18,837.60 L349.92,837.15 L349.74,836.41 L349.69,835.49 L349.82,834.53 L350.13,833.70 L350.61,833.12 L351.22,832.89 L351.87,833.03 L352.51,833.52 L353.05,834.27 L353.44,835.15 L353.64,836.00 L353.67,836.70 L353.53,837.10 L353.30,837.14 L353.03,836.81 L352.82,836.15 L352.72,835.27 L352.79,834.31 L353.04,833.42 L353.47,832.75 L354.04,832.39 L354.69,832.41 L355.34,832.79 L355.92,833.46 L356.36,834.31" fill="none" stroke="#379026" stroke-width="0.6" stroke-linejoin="round"/>
<line x1="326.40" y1="847.30" x2="358.50" y2="839.30" stroke="#379026" stroke-width="2.30" stroke-opacity="0.8"/>
<path d="M327.52,847.02 L327.84,847.82 L327.99,848.54 L327.96,849.07 L327.79,849.32 L327.53,849.26 L327.25,848.88 L327.02,848.23 L326.89,847.40 L326.92,846.50 L327.12,845.66 L327.50,844.97 L328.02,844.55 L328.65,844.43 L329.32,844.64 L329.96,845.13 L330.51,845.83 L330.92,846.62 L331.15,847.40 L331.20,848.03 L331.10,848.43 L330.88,848.53 L330.60,848.31 L330.34,847.78 L330.15,847.03 L330.09,846.15 L330.20,845.27 L330.50,844.49 L330.95,843.93 L331.54,843.65 L332.20,843.70 L332.86,844.05 L333.46,844.66 L333.94,845.42 L334.26,846.22 L334.41,846.94 L334.38,847.47 L334.21,847.72 L333.95,847.66 L333.67,847.28 L333.44,846.63 L333.31,845.80 L333.34,844.90 L333.54,844.06 L333.92,843.37 L334.44,842.95 L335.07,842.83 L335.74,843.04 L336.38,843.53 L336.93,844.23 L337.34,845.02 L337.57,845.80 L337.62,846.43 L337.52,846.83 L337.30,846.93 L337.02,846.71 L336.76,846.18 L336.57,845.43 L336.51,844.55 L336.62,843.67 L336.92,842.89 L337.37,842.33 L337.96,842.05 L338.62,842.10 L339.28,842.45 L339.88,843.06 L340.36,843.82 L340.68,844.62 L340.83,845.34 L340.80,845.87 L340.63,846.12 L340.37,846.06 L340.09,845.68 L339.86,845.03 L339.73,844.20 L339.76,843.30 L339.96,842.46 L340.34,841.77 L340.86,841.35 L341.49,841.23 L342.16,841.44 L342.80,841.93 L343.35,842.63 L343.76,843.42 L343.99,844.20 L344.04,844.83 L343.94,845.23 L343.72,845.33 L343.44,845.11 L343.18,844.58 L342.99,843.83 L342.93,842.95 L343.04,842.07 L343.34,841.29 L343.79,840.73 L344.38,840.45 L345.04,840.50 L345.70,840.85 L346.30,841.46 L346.78,842.22 L347.10,843.02 L347.25,843.74 L347.22,844.27 L347.05,844.52 L346.79,844.46 L346.51,844.08 L346.28,843.43 L346.15,842.60 L346.18,841.70 L346.38,840.86 L346.76,840.17 L347.28,839.75 L347.91,839.63 L348.58,839.84 L349.22,840.33 L349.77,841.03 L350.18,841.82 L350.41,842.60 L350.46,843.23 L350.36,843.63 L350.14,843.73 L349.86,843.51 L349.60,842.98 L349.41,842.23 L349.35,841.35 L349.46,840.47 L349.76,839.69 L350.21,839.13 L350.80,838.85 L351.46,838.90 L352.12,839.25 L352.72,839.86 L353.20,840.62 L353.52,841.42 L353.67,842.14 L353.64,842.67 L353.47,842.92 L353.21,842.86 L352.93,842.48 L352.70,841.83 L352.57,841.00 L352.60,840.10 L352.80,839.26 L353.18,838.57 L353.70,838.15 L354.33,838.03 L355.00,838.24 L355.64,838.73 L356.19,839.43 L356.60,840.22 L356.83,841.00 L356.88,841.63 L356.78,842.03 L356.56,842.13 L356.28,841.91 L356.02,841.38 L355.83,840.63 L355.77,839.75 L355.88,838.87 L356.18,838.09 L356.63,837.53 L357.22,837.25 L357.88,837.30 L358.54,837.65 L359.14,838.26 L359.62,839.02" fill="none" stroke="#0e2e08" stroke-width="1.35" stroke-linejoin="round"/>
<path d="M327.52,847.02 L327.84,847.82 L327.99,848.54 L327.96,849.07 L327.79,849.32 L327.53,849.26 L327.25,848.88 L327.02,848.23 L326.89,847.40 L326.92,846.50 L327.12,845.66 L327.50,844.97 L328.02,844.55 L328.65,844.43 L329.32,844.64 L329.96,845.13 L330.51,845.83 L330.92,846.62 L331.15,847.40 L331.20,848.03 L331.10,848.43 L330.88,848.53 L330.60,848.31 L330.34,847.78 L330.15,847.03 L330.09,846.15 L330.20,845.27 L330.50,844.49 L330.95,843.93 L331.54,843.65 L332.20,843.70 L332.86,844.05 L333.46,844.66 L333.94,845.42 L334.26,846.22 L334.41,846.94 L334.38,847.47 L334.21,847.72 L333.95,847.66 L333.67,847.28 L333.44,846.63 L333.31,845.80 L333.34,844.90 L333.54,844.06 L333.92,843.37 L334.44,842.95 L335.07,842.83 L335.74,843.04 L336.38,843.53 L336.93,844.23 L337.34,845.02 L337.57,845.80 L337.62,846.43 L337.52,846.83 L337.30,846.93 L337.02,846.71 L336.76,846.18 L336.57,845.43 L336.51,844.55 L336.62,843.67 L336.92,842.89 L337.37,842.33 L337.96,842.05 L338.62,842.10 L339.28,842.45 L339.88,843.06 L340.36,843.82 L340.68,844.62 L340.83,845.34 L340.80,845.87 L340.63,846.12 L340.37,846.06 L340.09,845.68 L339.86,845.03 L339.73,844.20 L339.76,843.30 L339.96,842.46 L340.34,841.77 L340.86,841.35 L341.49,841.23 L342.16,841.44 L342.80,841.93 L343.35,842.63 L343.76,843.42 L343.99,844.20 L344.04,844.83 L343.94,845.23 L343.72,845.33 L343.44,845.11 L343.18,844.58 L342.99,843.83 L342.93,842.95 L343.04,842.07 L343.34,841.29 L343.79,840.73 L344.38,840.45 L345.04,840.50 L345.70,840.85 L346.30,841.46 L346.78,842.22 L347.10,843.02 L347.25,843.74 L347.22,844.27 L347.05,844.52 L346.79,844.46 L346.51,844.08 L346.28,843.43 L346.15,842.60 L346.18,841.70 L346.38,840.86 L346.76,840.17 L347.28,839.75 L347.91,839.63 L348.58,839.84 L349.22,840.33 L349.77,841.03 L350.18,841.82 L350.41,842.60 L350.46,843.23 L350.36,843.63 L350.14,843.73 L349.86,843.51 L349.60,842.98 L349.41,842.23 L349.35,841.35 L349.46,840.47 L349.76,839.69 L350.21,839.13 L350.80,838.85 L351.46,838.90 L352.12,839.25 L352.72,839.86 L353.20,840.62 L353.52,841.42 L353.67,842.14 L353.64,842.67 L353.47,842.92 L353.21,842.86 L352.93,842.48 L352.70,841.83 L352.57,841.00 L352.60,840.10 L352.80,839.26 L353.18,838.57 L353.70,838.15 L354.33,838.03 L355.00,838.24 L355.64,838.73 L356.19,839.43 L356.60,840.22 L356.83,841.00 L356.88,841.63 L356.78,842.03 L356.56,842.13 L356.28,841.91 L356.02,841.38 L355.83,840.63 L355.77,839.75 L355.88,838.87 L356.18,838.09 L356.63,837.53 L357.22,837.25 L357.88,837.30 L358.54,837.65 L359.14,838.26 L359.62,839.02" fill="none" stroke="#379026" stroke-width="0.6" stroke-linejoin="round"/>
<line x1="325.30" y1="852.10" x2="345.70" y2="844.10" stroke="#379026" stroke-width="2.30" stroke-opacity="0.8"/>
<path d="M326.32,851.70 L326.75,852.50 L326.99,853.22 L327.01,853.74 L326.84,853.96 L326.55,853.84 L326.21,853.37 L325.90,852.63 L325.71,851.73 L325.69,850.78 L325.88,849.95 L326.27,849.34 L326.85,849.04 L327.53,849.10 L328.24,849.48 L328.91,850.12 L329.44,850.90 L329.79,851.68 L329.93,852.33 L329.87,852.73 L329.64,852.81 L329.32,852.53 L328.98,851.94 L328.72,851.12 L328.59,850.18 L328.66,849.26 L328.94,848.51 L329.42,848.03 L330.04,847.88 L330.75,848.08 L331.45,848.59 L332.07,849.30 L332.53,850.10 L332.79,850.84 L332.84,851.40 L332.70,851.67 L332.43,851.59 L332.09,851.17 L331.77,850.47 L331.56,849.58 L331.51,848.63 L331.67,847.77 L332.03,847.12 L332.58,846.78 L333.26,846.78 L333.97,847.12 L334.65,847.73 L335.21,848.50 L335.59,849.29 L335.76,849.97 L335.72,850.41 L335.51,850.53 L335.20,850.31 L334.86,849.76 L334.58,848.96 L334.43,848.03 L334.46,847.10 L334.71,846.32 L335.16,845.79 L335.77,845.60 L336.48,845.75 L337.19,846.21 L337.82,846.91 L338.31,847.70 L338.60,848.46 L338.68,849.05 L338.56,849.36 L338.30,849.34 L337.97,848.97 L337.64,848.30 L337.41,847.42 L337.33,846.48 L337.46,845.60 L337.80,844.91 L338.32,844.52 L338.98,844.48 L339.70,844.77 L340.39,845.35 L340.96,846.10 L341.37,846.90 L341.57,847.60 L341.57,848.08 L341.38,848.25 L341.08,848.08 L340.73,847.57 L340.44,846.80 L340.27,845.88 L340.27,844.94 L340.49,844.13 L340.92,843.56 L341.51,843.32 L342.20,843.42 L342.92,843.85 L343.57,844.51 L344.08,845.30 L344.40,846.07 L344.51,846.69 L344.42,847.05 L344.17,847.08 L343.84,846.75 L343.51,846.12 L343.26,845.27 L343.16,844.33 L343.26,843.43 L343.57,842.71 L344.07,842.27 L344.71,842.18 L345.42,842.42 L346.12,842.96 L346.72,843.70" fill="none" stroke="#0e2e08" stroke-width="1.35" stroke-linejoin="round"/>
<path d="M326.32,851.70 L326.75,852.50 L326.99,853.22 L327.01,853.74 L326.84,853.96 L326.55,853.84 L326.21,853.37 L325.90,852.63 L325.71,851.73 L325.69,850.78 L325.88,849.95 L326.27,849.34 L326.85,849.04 L327.53,849.10 L328.24,849.48 L328.91,850.12 L329.44,850.90 L329.79,851.68 L329.93,852.33 L329.87,852.73 L329.64,852.81 L329.32,852.53 L328.98,851.94 L328.72,851.12 L328.59,850.18 L328.66,849.26 L328.94,848.51 L329.42,848.03 L330.04,847.88 L330.75,848.08 L331.45,848.59 L332.07,849.30 L332.53,850.10 L332.79,850.84 L332.84,851.40 L332.70,851.67 L332.43,851.59 L332.09,851.17 L331.77,850.47 L331.56,849.58 L331.51,848.63 L331.67,847.77 L332.03,847.12 L332.58,846.78 L333.26,846.78 L333.97,847.12 L334.65,847.73 L335.21,848.50 L335.59,849.29 L335.76,849.97 L335.72,850.41 L335.51,850.53 L335.20,850.31 L334.86,849.76 L334.58,848.96 L334.43,848.03 L334.46,847.10 L334.71,846.32 L335.16,845.79 L335.77,845.60 L336.48,845.75 L337.19,846.21 L337.82,846.91 L338.31,847.70 L338.60,848.46 L338.68,849.05 L338.56,849.36 L338.30,849.34 L337.97,848.97 L337.64,848.30 L337.41,847.42 L337.33,846.48 L337.46,845.60 L337.80,844.91 L338.32,844.52 L338.98,844.48 L339.70,844.77 L340.39,845.35 L340.96,846.10 L341.37,846.90 L341.57,847.60 L341.57,848.08 L341.38,848.25 L341.08,848.08 L340.73,847.57 L340.44,846.80 L340.27,845.88 L340.27,844.94 L340.49,844.13 L340.92,843.56 L341.51,843.32 L342.20,843.42 L342.92,843.85 L343.57,844.51 L344.08,845.30 L344.40,846.07 L344.51,846.69 L344.42,847.05 L344.17,847.08 L343.84,846.75 L343.51,846.12 L343.26,845.27 L343.16,844.33 L343.26,843.43 L343.57,842.71 L344.07,842.27 L344.71,842.18 L345.42,842.42 L346.12,842.96 L346.72,843.70" fill="none" stroke="#379026" stroke-width="0.6" stroke-linejoin="round"/>
<path d="M358.5,835.9 L359.0,836.3 L359.6,836.7 L360.1,837.0 L360.6,837.2 L361.2,837.4 L361.7,837.3 L362.3,837.1 L362.5,836.8 L363.2,836.6 L363.9,836.3 L364.6,836.1 L365.3,836.1 L365.9,836.1" fill="none" stroke="#66865c" stroke-width="0.9" stroke-linejoin="round" stroke-linecap="round" />
<line x1="365.50" y1="837.10" x2="380.00" y2="831.20" stroke="#379026" stroke-width="2.30" stroke-opacity="0.8"/>
<path d="M366.51,836.69 L366.96,837.48 L367.20,838.20 L367.23,838.72 L367.07,838.94 L366.78,838.82 L366.43,838.37 L366.11,837.64 L365.91,836.74 L365.87,835.79 L366.05,834.95 L366.43,834.34 L366.99,834.03 L367.67,834.07 L368.39,834.43 L369.07,835.05 L369.62,835.82 L369.98,836.60 L370.14,837.26 L370.08,837.67 L369.86,837.76 L369.54,837.50 L369.20,836.92 L368.91,836.11 L368.77,835.18 L368.82,834.26 L369.08,833.49 L369.54,832.99 L370.15,832.82 L370.86,832.99 L371.57,833.48 L372.20,834.17 L372.69,834.96 L372.97,835.71 L373.04,836.28 L372.91,836.56 L372.64,836.52 L372.30,836.12 L371.97,835.44 L371.74,834.56 L371.66,833.62 L371.79,832.75 L372.14,832.08 L372.67,831.70 L373.33,831.67 L374.05,831.97 L374.74,832.55 L375.32,833.30 L375.72,834.09 L375.92,834.78 L375.91,835.25 L375.72,835.41 L375.41,835.22 L375.06,834.70 L374.76,833.93 L374.58,833.01 L374.59,832.07 L374.81,831.27 L375.23,830.71 L375.82,830.47 L376.52,830.57 L377.23,831.00 L377.89,831.66 L378.40,832.44 L378.73,833.21 L378.84,833.82 L378.75,834.17 L378.51,834.19 L378.17,833.87 L377.83,833.24 L377.57,832.39 L377.46,831.45 L377.55,830.55 L377.85,829.83 L378.35,829.39 L378.99,829.29 L379.71,829.53 L380.41,830.06 L381.01,830.79" fill="none" stroke="#0e2e08" stroke-width="1.35" stroke-linejoin="round"/>
<path d="M366.51,836.69 L366.96,837.48 L367.20,838.20 L367.23,838.72 L367.07,838.94 L366.78,838.82 L366.43,838.37 L366.11,837.64 L365.91,836.74 L365.87,835.79 L366.05,834.95 L366.43,834.34 L366.99,834.03 L367.67,834.07 L368.39,834.43 L369.07,835.05 L369.62,835.82 L369.98,836.60 L370.14,837.26 L370.08,837.67 L369.86,837.76 L369.54,837.50 L369.20,836.92 L368.91,836.11 L368.77,835.18 L368.82,834.26 L369.08,833.49 L369.54,832.99 L370.15,832.82 L370.86,832.99 L371.57,833.48 L372.20,834.17 L372.69,834.96 L372.97,835.71 L373.04,836.28 L372.91,836.56 L372.64,836.52 L372.30,836.12 L371.97,835.44 L371.74,834.56 L371.66,833.62 L371.79,832.75 L372.14,832.08 L372.67,831.70 L373.33,831.67 L374.05,831.97 L374.74,832.55 L375.32,833.30 L375.72,834.09 L375.92,834.78 L375.91,835.25 L375.72,835.41 L375.41,835.22 L375.06,834.70 L374.76,833.93 L374.58,833.01 L374.59,832.07 L374.81,831.27 L375.23,830.71 L375.82,830.47 L376.52,830.57 L377.23,831.00 L377.89,831.66 L378.40,832.44 L378.73,833.21 L378.84,833.82 L378.75,834.17 L378.51,834.19 L378.17,833.87 L377.83,833.24 L377.57,832.39 L377.46,831.45 L377.55,830.55 L377.85,829.83 L378.35,829.39 L378.99,829.29 L379.71,829.53 L380.41,830.06 L381.01,830.79" fill="none" stroke="#379026" stroke-width="0.6" stroke-linejoin="round"/>
<path d="M380.1,830.3 L380.6,830.3 L381.1,830.5 L381.5,830.7 L382.0,831.1 L382.5,831.4 L383.0,831.8 L383.5,832.0 L383.9,832.2 L384.4,832.2 L385.0,832.1 L385.5,832.0 L386.0,831.8 L386.5,831.6 L387.0,831.5 L387.5,831.4 L388.0,831.4 L388.5,831.5 L389.0,831.6 L389.5,831.8 L390.0,832.0 L390.5,832.1 L391.0,832.2 L391.5,832.3 L392.0,832.3 L392.5,832.3 L393.0,832.3 L393.5,832.2 L394.0,832.2 L394.5,832.2 L395.0,832.2 L395.5,832.2 L396.0,832.3 L396.5,832.3 L397.0,832.4 L397.5,832.4 L398.0,832.4 L398.5,832.4 L399.0,832.4 L399.5,832.4 L400.0,832.4 L400.5,832.4 L401.0,832.4 L401.5,832.5 L402.0,832.6 L402.5,832.7 L403.0,832.8 L403.5,832.9 L404.0,832.9 L404.5,832.9 L405.0,832.9 L405.5,832.8 L406.0,832.8 L406.5,832.7 L407.0,832.6 L407.5,832.6 L408.0,832.6 L408.5,832.7 L409.0,832.8 L409.5,832.9 L410.0,833.1 L410.5,833.2 L411.0,833.2 L411.5,833.2 L412.0,833.2 L412.5,833.1 L413.0,832.9 L413.5,832.8 L414.0,832.7 L414.5,832.6 L415.0,832.5 L415.5,832.5 L416.0,832.5 L416.5,832.6 L417.0,832.6 L417.5,832.7 L418.0,832.7 L418.5,832.7 L419.0,832.7 L419.5,832.6 L420.0,832.6 L420.5,832.5 L421.0,832.4 L421.5,832.4 L422.0,832.3 L422.5,832.3 L423.0,832.4 L423.5,832.4 L424.0,832.4 L424.5,832.4 L425.0,832.3 L425.5,832.3 L426.0,832.2 L426.5,832.1 L427.0,832.0 L427.5,831.9 L428.0,831.9 L428.5,831.9 L429.0,831.9 L429.5,832.0 L430.0,832.2 L430.5,832.3 L431.0,832.3 L431.5,832.4 L432.0,832.3 L432.5,832.2 L433.0,832.0 L433.5,831.7 L434.0,831.5 L434.5,831.3 L435.0,831.1 L435.5,831.1 L436.0,831.2 L436.5,831.4 L437.0,831.6 L437.5,831.9 L438.1,832.2 L438.6,832.4 L439.1,832.4 L439.6,832.4 L440.1,832.2 L440.6,831.8 L441.0,831.4 L441.5,831.0 L442.0,830.7 L442.5,830.4 L443.0,830.3 L443.5,830.4 L444.0,830.7 L444.5,831.1 L445.1,831.5 L445.6,832.0 L446.1,832.3 L446.6,832.5 L447.1,832.5 L447.6,832.2 L448.1,831.8 L448.6,831.3 L449.1,830.7 L449.5,830.2 L450.0,829.8 L450.5,829.6 L451.0,829.7 L451.5,829.9 L452.1,830.4 L452.6,831.0 L453.1,831.5 L453.6,832.0 L454.2,832.3" fill="none" stroke="#66865c" stroke-width="0.9" stroke-linejoin="round" stroke-linecap="round" />
<circle cx="460" cy="831.7" r="1.7" fill="#1a1ad8"/>
<circle cx="454.1" cy="830.9" r="1.7" fill="#c41616"/>
<path d="M460.0,831.4 L460.5,831.3 L461.0,831.2 L461.5,831.1 L462.0,831.2 L462.5,831.3 L463.0,831.5 L463.5,831.7 L464.0,832.0 L464.5,832.2 L465.0,832.4 L465.5,832.5 L466.0,832.6 L466.5,832.5 L467.0,832.4 L467.5,832.2 L468.0,832.0 L468.5,831.8 L469.0,831.6 L469.5,831.5 L470.0,831.6 L470.5,831.7 L471.0,831.9 L471.5,832.1 L472.0,832.4 L472.5,832.7 L473.0,832.9 L473.5,833.0 L474.0,833.0 L474.5,832.9 L475.0,832.7 L475.5,832.4 L476.0,832.0 L476.5,831.7 L477.0,831.4 L477.5,831.2 L478.0,831.2 L478.5,831.3 L479.0,831.5 L479.5,831.9 L480.0,832.4 L480.5,832.8 L481.0,833.3 L481.5,833.6 L482.0,833.9 L482.5,834.0 L483.0,834.0 L483.5,833.8 L484.0,833.5 L484.5,833.1 L485.0,832.7 L485.5,832.3 L486.0,831.9 L486.5,831.7 L487.0,831.5 L487.5,831.5 L488.0,831.6 L488.5,831.7 L489.0,831.9 L489.5,832.2 L490.0,832.5 L490.5,832.7 L491.0,832.9 L491.5,833.1 L492.0,833.3 L492.5,833.4 L493.0,833.5 L493.5,833.5 L494.0,833.6 L494.5,833.7 L495.0,833.7 L495.5,833.7 L496.0,833.6 L496.5,833.5 L497.0,833.3 L497.5,833.1 L498.0,832.8 L498.5,832.4 L499.0,832.1 L499.5,831.8 L500.0,831.6 L500.5,831.5 L501.0,831.6 L501.5,831.7 L502.0,832.1 L502.5,832.5 L503.0,833.0 L503.5,833.6 L504.0,834.1 L504.5,834.5 L505.0,834.8 L505.5,834.9 L506.0,834.9 L506.5,834.6 L507.0,834.2 L507.5,833.7 L508.0,833.2 L508.5,832.7 L509.0,832.2 L509.5,831.9 L510.0,831.7 L510.5,831.7 L511.0,831.9 L511.5,832.2 L512.0,832.6 L512.5,833.0 L513.0,833.5 L513.5,833.8 L514.0,834.1 L514.5,834.3 L515.0,834.3 L515.5,834.2 L516.0,834.1 L516.5,833.8 L517.0,833.6 L517.5,833.4 L518.0,833.2 L518.5,833.1 L519.0,833.1 L519.5,833.2 L520.0,833.3 L520.5,833.4 L521.0,833.5 L521.5,833.5 L522.0,833.6 L522.5,833.5 L523.0,833.5 L523.5,833.4 L524.0,833.3 L524.5,833.1 L525.0,833.0 L525.5,833.0 L526.0,833.0 L526.5,833.0 L527.0,833.0 L527.5,833.1 L528.0,833.2 L528.5,833.2 L529.0,833.2 L529.5,833.2 L530.0,833.1 L530.5,833.0 L531.0,832.9 L531.5,832.7 L532.0,832.6 L532.5,832.6 L533.0,832.6 L533.5,832.7 L534.0,832.8 L534.5,833.0 L535.0,833.2 L535.5,833.4 L536.0,833.5 L536.5,833.5 L537.0,833.4 L537.5,833.2 L538.0,832.9 L538.5,832.5 L539.0,832.1 L539.5,831.7 L540.0,831.4 L540.5,831.1 L541.0,831.1 L541.5,831.1 L542.0,831.4 L542.5,831.8 L543.0,832.2 L543.5,832.7 L544.0,833.2 L544.5,833.7 L545.0,834.0 L545.5,834.1 L546.0,834.0 L546.5,833.8 L547.0,833.5 L547.5,833.0 L548.0,832.5 L548.5,832.0 L549.0,831.5 L549.5,831.1 L550.0,830.9 L550.5,830.8 L551.0,830.9 L551.5,831.1 L552.0,831.3 L552.5,831.7 L553.0,832.0 L553.5,832.3 L554.0,832.6 L554.5,832.8 L555.0,832.9 L555.5,833.0 L556.0,833.0 L556.5,832.9 L557.0,832.8 L557.5,832.8 L558.0,832.7 L558.5,832.6 L559.0,832.5 L559.5,832.4 L560.0,832.3 L560.5,832.1 L561.0,831.9 L561.5,831.7 L562.0,831.5 L562.5,831.3 L563.0,831.1 L563.5,831.0 L564.0,831.0 L564.5,831.0 L565.0,831.2 L565.5,831.5 L566.1,831.8 L566.6,832.2 L567.1,832.6 L567.6,833.0 L568.2,833.2 L568.7,833.3 L569.2,833.3 L569.8,833.1 L570.3,832.8 L570.8,832.3 L571.3,831.9 L571.9,831.5 L572.4,831.1" fill="none" stroke="#66865c" stroke-width="0.9" stroke-linejoin="round" stroke-linecap="round" />
<path d="M572.2,832.0 L573.1,827.8 L573.6,827.8 L574.2,827.9 L574.7,827.9 L575.2,827.8 L575.7,827.8 L576.3,827.7 L576.8,827.6" fill="none" stroke="#66865c" stroke-width="0.9" stroke-linejoin="round" stroke-linecap="round" />
<path d="M577.2,832.5 L576.9,833.7 L576.6,834.9 L576.2,836.1 L575.6,837.1 L574.6,837.8 L575.1,838.2 L575.7,838.6 L576.2,839.0 L576.7,839.3 L577.3,839.5" fill="none" stroke="#66865c" stroke-width="0.9" stroke-linejoin="round" stroke-linecap="round" />
<line x1="576.80" y1="827.60" x2="608.40" y2="830.50" stroke="#379026" stroke-width="1.90" stroke-opacity="0.8"/>
<path d="M577.91,827.70 L577.95,828.44 L577.85,829.06 L577.65,829.45 L577.40,829.56 L577.19,829.38 L577.08,828.93 L577.10,828.30 L577.30,827.57 L577.67,826.87 L578.19,826.31 L578.80,825.98 L579.44,825.94 L580.04,826.19 L580.55,826.69 L580.90,827.38 L581.09,828.15 L581.10,828.87 L580.98,829.45 L580.76,829.79 L580.52,829.84 L580.32,829.60 L580.23,829.11 L580.29,828.44 L580.52,827.71 L580.92,827.04 L581.46,826.52 L582.09,826.24 L582.73,826.25 L583.31,826.56 L583.79,827.11 L584.12,827.82 L584.26,828.59 L584.25,829.29 L584.10,829.83 L583.87,830.11 L583.63,830.10 L583.45,829.81 L583.39,829.28 L583.48,828.59 L583.75,827.86 L584.18,827.21 L584.74,826.73 L585.37,826.51 L586.01,826.58 L586.58,826.94 L587.03,827.53 L587.32,828.26 L587.43,829.03 L587.39,829.71 L587.22,830.20 L586.98,830.42 L586.75,830.36 L586.59,830.01 L586.55,829.44 L586.68,828.73 L586.98,828.01 L587.45,827.38 L588.03,826.95 L588.66,826.79 L589.29,826.92 L589.84,827.33 L590.26,827.96 L590.52,828.71 L590.60,829.46 L590.52,830.11 L590.33,830.55 L590.09,830.72 L589.87,830.60 L589.73,830.20 L589.72,829.59 L589.89,828.88 L590.22,828.16 L590.71,827.57 L591.31,827.19 L591.95,827.08 L592.57,827.27 L593.10,827.73 L593.49,828.39 L593.71,829.15 L593.75,829.89 L593.65,830.51 L593.45,830.90 L593.20,831.01 L592.99,830.83 L592.88,830.38 L592.90,829.75 L593.10,829.02 L593.47,828.32 L593.99,827.76 L594.60,827.43 L595.24,827.39 L595.84,827.64 L596.35,828.14 L596.70,828.83 L596.89,829.60 L596.90,830.32 L596.78,830.90 L596.56,831.24 L596.32,831.29 L596.12,831.05 L596.03,830.56 L596.09,829.89 L596.32,829.16 L596.72,828.49 L597.26,827.97 L597.89,827.69 L598.53,827.70 L599.11,828.01 L599.59,828.56 L599.92,829.27 L600.06,830.04 L600.05,830.74 L599.90,831.28 L599.67,831.56 L599.43,831.55 L599.25,831.26 L599.19,830.73 L599.28,830.04 L599.55,829.31 L599.98,828.66 L600.54,828.18 L601.17,827.96 L601.81,828.03 L602.38,828.39 L602.83,828.98 L603.12,829.71 L603.23,830.48 L603.19,831.16 L603.02,831.65 L602.78,831.87 L602.55,831.81 L602.39,831.46 L602.35,830.89 L602.48,830.18 L602.78,829.46 L603.25,828.83 L603.83,828.40 L604.46,828.24 L605.09,828.37 L605.64,828.78 L606.06,829.41 L606.32,830.16 L606.40,830.91 L606.32,831.56 L606.13,832.00 L605.89,832.17 L605.67,832.05 L605.53,831.65 L605.52,831.04 L605.69,830.33 L606.02,829.61 L606.51,829.02 L607.11,828.64 L607.75,828.53 L608.37,828.72 L608.90,829.18 L609.29,829.84 L609.51,830.60" fill="none" stroke="#0e2e08" stroke-width="1.35" stroke-linejoin="round"/>
<path d="M577.91,827.70 L577.95,828.44 L577.85,829.06 L577.65,829.45 L577.40,829.56 L577.19,829.38 L577.08,828.93 L577.10,828.30 L577.30,827.57 L577.67,826.87 L578.19,826.31 L578.80,825.98 L579.44,825.94 L580.04,826.19 L580.55,826.69 L580.90,827.38 L581.09,828.15 L581.10,828.87 L580.98,829.45 L580.76,829.79 L580.52,829.84 L580.32,829.60 L580.23,829.11 L580.29,828.44 L580.52,827.71 L580.92,827.04 L581.46,826.52 L582.09,826.24 L582.73,826.25 L583.31,826.56 L583.79,827.11 L584.12,827.82 L584.26,828.59 L584.25,829.29 L584.10,829.83 L583.87,830.11 L583.63,830.10 L583.45,829.81 L583.39,829.28 L583.48,828.59 L583.75,827.86 L584.18,827.21 L584.74,826.73 L585.37,826.51 L586.01,826.58 L586.58,826.94 L587.03,827.53 L587.32,828.26 L587.43,829.03 L587.39,829.71 L587.22,830.20 L586.98,830.42 L586.75,830.36 L586.59,830.01 L586.55,829.44 L586.68,828.73 L586.98,828.01 L587.45,827.38 L588.03,826.95 L588.66,826.79 L589.29,826.92 L589.84,827.33 L590.26,827.96 L590.52,828.71 L590.60,829.46 L590.52,830.11 L590.33,830.55 L590.09,830.72 L589.87,830.60 L589.73,830.20 L589.72,829.59 L589.89,828.88 L590.22,828.16 L590.71,827.57 L591.31,827.19 L591.95,827.08 L592.57,827.27 L593.10,827.73 L593.49,828.39 L593.71,829.15 L593.75,829.89 L593.65,830.51 L593.45,830.90 L593.20,831.01 L592.99,830.83 L592.88,830.38 L592.90,829.75 L593.10,829.02 L593.47,828.32 L593.99,827.76 L594.60,827.43 L595.24,827.39 L595.84,827.64 L596.35,828.14 L596.70,828.83 L596.89,829.60 L596.90,830.32 L596.78,830.90 L596.56,831.24 L596.32,831.29 L596.12,831.05 L596.03,830.56 L596.09,829.89 L596.32,829.16 L596.72,828.49 L597.26,827.97 L597.89,827.69 L598.53,827.70 L599.11,828.01 L599.59,828.56 L599.92,829.27 L600.06,830.04 L600.05,830.74 L599.90,831.28 L599.67,831.56 L599.43,831.55 L599.25,831.26 L599.19,830.73 L599.28,830.04 L599.55,829.31 L599.98,828.66 L600.54,828.18 L601.17,827.96 L601.81,828.03 L602.38,828.39 L602.83,828.98 L603.12,829.71 L603.23,830.48 L603.19,831.16 L603.02,831.65 L602.78,831.87 L602.55,831.81 L602.39,831.46 L602.35,830.89 L602.48,830.18 L602.78,829.46 L603.25,828.83 L603.83,828.40 L604.46,828.24 L605.09,828.37 L605.64,828.78 L606.06,829.41 L606.32,830.16 L606.40,830.91 L606.32,831.56 L606.13,832.00 L605.89,832.17 L605.67,832.05 L605.53,831.65 L605.52,831.04 L605.69,830.33 L606.02,829.61 L606.51,829.02 L607.11,828.64 L607.75,828.53 L608.37,828.72 L608.90,829.18 L609.29,829.84 L609.51,830.60" fill="none" stroke="#379026" stroke-width="0.6" stroke-linejoin="round"/>
<line x1="577.50" y1="832.70" x2="609.20" y2="833.50" stroke="#379026" stroke-width="1.90" stroke-opacity="0.8"/>
<path d="M578.61,832.73 L578.70,833.47 L578.64,834.09 L578.47,834.49 L578.23,834.62 L578.01,834.45 L577.86,834.01 L577.85,833.37 L578.00,832.64 L578.32,831.92 L578.80,831.32 L579.38,830.95 L580.02,830.87 L580.64,831.07 L581.18,831.55 L581.58,832.21 L581.81,832.96 L581.87,833.68 L581.79,834.27 L581.59,834.62 L581.35,834.69 L581.14,834.46 L581.02,833.98 L581.03,833.31 L581.22,832.57 L581.58,831.86 L582.08,831.31 L582.68,830.99 L583.32,830.96 L583.93,831.23 L584.44,831.75 L584.81,832.44 L585.01,833.19 L585.04,833.89 L584.92,834.44 L584.72,834.74 L584.48,834.75 L584.28,834.46 L584.18,833.94 L584.23,833.25 L584.45,832.50 L584.83,831.82 L585.36,831.31 L585.98,831.04 L586.62,831.07 L587.21,831.39 L587.70,831.95 L588.03,832.66 L588.20,833.42 L588.19,834.10 L588.06,834.60 L587.84,834.84 L587.60,834.79 L587.42,834.46 L587.35,833.89 L587.43,833.18 L587.68,832.43 L588.10,831.78 L588.65,831.31 L589.27,831.11 L589.91,831.20 L590.49,831.57 L590.95,832.17 L591.25,832.90 L591.38,833.64 L591.35,834.30 L591.19,834.75 L590.96,834.94 L590.73,834.83 L590.56,834.44 L590.52,833.83 L590.63,833.11 L590.92,832.37 L591.37,831.75 L591.94,831.33 L592.57,831.18 L593.20,831.33 L593.76,831.75 L594.19,832.39 L594.46,833.13 L594.55,833.87 L594.49,834.49 L594.32,834.89 L594.08,835.02 L593.86,834.85 L593.71,834.41 L593.70,833.77 L593.85,833.04 L594.17,832.32 L594.65,831.72 L595.23,831.35 L595.87,831.27 L596.49,831.47 L597.03,831.95 L597.43,832.61 L597.66,833.36 L597.72,834.08 L597.64,834.67 L597.44,835.02 L597.20,835.09 L596.99,834.86 L596.87,834.38 L596.88,833.71 L597.07,832.97 L597.43,832.26 L597.93,831.71 L598.53,831.39 L599.17,831.36 L599.78,831.63 L600.29,832.15 L600.66,832.84 L600.86,833.59 L600.89,834.29 L600.77,834.84 L600.57,835.14 L600.33,835.15 L600.13,834.86 L600.03,834.34 L600.08,833.65 L600.30,832.90 L600.68,832.22 L601.21,831.71 L601.83,831.44 L602.47,831.47 L603.06,831.79 L603.55,832.35 L603.88,833.06 L604.05,833.82 L604.04,834.50 L603.91,835.00 L603.69,835.24 L603.45,835.19 L603.27,834.86 L603.20,834.29 L603.28,833.58 L603.53,832.83 L603.95,832.18 L604.50,831.71 L605.12,831.51 L605.76,831.60 L606.34,831.97 L606.80,832.57 L607.10,833.30 L607.23,834.04 L607.20,834.70 L607.04,835.15 L606.81,835.34 L606.58,835.23 L606.41,834.84 L606.37,834.23 L606.48,833.51 L606.77,832.77 L607.22,832.15 L607.79,831.73 L608.42,831.58 L609.05,831.73 L609.61,832.15 L610.04,832.79 L610.31,833.53" fill="none" stroke="#0e2e08" stroke-width="1.35" stroke-linejoin="round"/>
<path d="M578.61,832.73 L578.70,833.47 L578.64,834.09 L578.47,834.49 L578.23,834.62 L578.01,834.45 L577.86,834.01 L577.85,833.37 L578.00,832.64 L578.32,831.92 L578.80,831.32 L579.38,830.95 L580.02,830.87 L580.64,831.07 L581.18,831.55 L581.58,832.21 L581.81,832.96 L581.87,833.68 L581.79,834.27 L581.59,834.62 L581.35,834.69 L581.14,834.46 L581.02,833.98 L581.03,833.31 L581.22,832.57 L581.58,831.86 L582.08,831.31 L582.68,830.99 L583.32,830.96 L583.93,831.23 L584.44,831.75 L584.81,832.44 L585.01,833.19 L585.04,833.89 L584.92,834.44 L584.72,834.74 L584.48,834.75 L584.28,834.46 L584.18,833.94 L584.23,833.25 L584.45,832.50 L584.83,831.82 L585.36,831.31 L585.98,831.04 L586.62,831.07 L587.21,831.39 L587.70,831.95 L588.03,832.66 L588.20,833.42 L588.19,834.10 L588.06,834.60 L587.84,834.84 L587.60,834.79 L587.42,834.46 L587.35,833.89 L587.43,833.18 L587.68,832.43 L588.10,831.78 L588.65,831.31 L589.27,831.11 L589.91,831.20 L590.49,831.57 L590.95,832.17 L591.25,832.90 L591.38,833.64 L591.35,834.30 L591.19,834.75 L590.96,834.94 L590.73,834.83 L590.56,834.44 L590.52,833.83 L590.63,833.11 L590.92,832.37 L591.37,831.75 L591.94,831.33 L592.57,831.18 L593.20,831.33 L593.76,831.75 L594.19,832.39 L594.46,833.13 L594.55,833.87 L594.49,834.49 L594.32,834.89 L594.08,835.02 L593.86,834.85 L593.71,834.41 L593.70,833.77 L593.85,833.04 L594.17,832.32 L594.65,831.72 L595.23,831.35 L595.87,831.27 L596.49,831.47 L597.03,831.95 L597.43,832.61 L597.66,833.36 L597.72,834.08 L597.64,834.67 L597.44,835.02 L597.20,835.09 L596.99,834.86 L596.87,834.38 L596.88,833.71 L597.07,832.97 L597.43,832.26 L597.93,831.71 L598.53,831.39 L599.17,831.36 L599.78,831.63 L600.29,832.15 L600.66,832.84 L600.86,833.59 L600.89,834.29 L600.77,834.84 L600.57,835.14 L600.33,835.15 L600.13,834.86 L600.03,834.34 L600.08,833.65 L600.30,832.90 L600.68,832.22 L601.21,831.71 L601.83,831.44 L602.47,831.47 L603.06,831.79 L603.55,832.35 L603.88,833.06 L604.05,833.82 L604.04,834.50 L603.91,835.00 L603.69,835.24 L603.45,835.19 L603.27,834.86 L603.20,834.29 L603.28,833.58 L603.53,832.83 L603.95,832.18 L604.50,831.71 L605.12,831.51 L605.76,831.60 L606.34,831.97 L606.80,832.57 L607.10,833.30 L607.23,834.04 L607.20,834.70 L607.04,835.15 L606.81,835.34 L606.58,835.23 L606.41,834.84 L606.37,834.23 L606.48,833.51 L606.77,832.77 L607.22,832.15 L607.79,831.73 L608.42,831.58 L609.05,831.73 L609.61,832.15 L610.04,832.79 L610.31,833.53" fill="none" stroke="#379026" stroke-width="0.6" stroke-linejoin="round"/>
<line x1="577.50" y1="839.00" x2="606.20" y2="837.10" stroke="#379026" stroke-width="1.90" stroke-opacity="0.8"/>
<path d="M578.62,838.93 L578.78,839.65 L578.78,840.27 L578.64,840.69 L578.42,840.84 L578.18,840.70 L577.99,840.29 L577.91,839.67 L577.99,838.93 L578.24,838.18 L578.65,837.54 L579.19,837.11 L579.82,836.94 L580.46,837.07 L581.04,837.47 L581.52,838.08 L581.83,838.80 L581.98,839.51 L581.95,840.12 L581.80,840.51 L581.58,840.63 L581.34,840.46 L581.16,840.02 L581.10,839.38 L581.19,838.63 L581.46,837.89 L581.89,837.27 L582.45,836.86 L583.08,836.73 L583.72,836.89 L584.29,837.32 L584.75,837.94 L585.05,838.67 L585.17,839.38 L585.13,839.96 L584.97,840.33 L584.74,840.42 L584.51,840.21 L584.34,839.75 L584.29,839.09 L584.40,838.33 L584.69,837.60 L585.14,837.00 L585.71,836.62 L586.34,836.52 L586.97,836.72 L587.54,837.17 L587.98,837.81 L588.26,838.54 L588.36,839.24 L588.31,839.80 L588.14,840.14 L587.90,840.20 L587.67,839.96 L587.52,839.47 L587.48,838.79 L587.62,838.04 L587.92,837.32 L588.38,836.74 L588.96,836.39 L589.60,836.32 L590.23,836.54 L590.78,837.02 L591.21,837.68 L591.47,838.41 L591.55,839.10 L591.48,839.64 L591.30,839.95 L591.06,839.97 L590.84,839.71 L590.69,839.19 L590.68,838.50 L590.83,837.74 L591.16,837.03 L591.63,836.47 L592.22,836.15 L592.86,836.12 L593.48,836.37 L594.03,836.88 L594.43,837.55 L594.67,838.28 L594.74,838.96 L594.66,839.48 L594.46,839.76 L594.23,839.75 L594.01,839.45 L593.87,838.91 L593.88,838.21 L594.05,837.45 L594.39,836.75 L594.88,836.21 L595.48,835.92 L596.12,835.92 L596.74,836.21 L597.27,836.73 L597.66,837.42 L597.88,838.15 L597.93,838.81 L597.83,839.31 L597.63,839.56 L597.39,839.52 L597.18,839.19 L597.06,838.63 L597.08,837.91 L597.27,837.15 L597.63,836.47 L598.13,835.96 L598.74,835.70 L599.38,835.73 L599.99,836.04 L600.51,836.59 L600.88,837.29 L601.08,838.02 L601.11,838.67 L601.00,839.14 L600.79,839.36 L600.55,839.28 L600.35,838.93 L600.24,838.34 L600.28,837.62 L600.49,836.86 L600.87,836.19 L601.39,835.70 L602.00,835.48 L602.64,835.54 L603.24,835.88 L603.74,836.45 L604.10,837.16 L604.28,837.88 L604.29,838.52 L604.17,838.97 L603.95,839.15 L603.71,839.05 L603.52,838.66 L603.42,838.06 L603.48,837.32 L603.71,836.57 L604.11,835.91 L604.64,835.45 L605.26,835.26 L605.90,835.35 L606.49,835.73 L606.98,836.31 L607.32,837.03" fill="none" stroke="#0e2e08" stroke-width="1.35" stroke-linejoin="round"/>
<path d="M578.62,838.93 L578.78,839.65 L578.78,840.27 L578.64,840.69 L578.42,840.84 L578.18,840.70 L577.99,840.29 L577.91,839.67 L577.99,838.93 L578.24,838.18 L578.65,837.54 L579.19,837.11 L579.82,836.94 L580.46,837.07 L581.04,837.47 L581.52,838.08 L581.83,838.80 L581.98,839.51 L581.95,840.12 L581.80,840.51 L581.58,840.63 L581.34,840.46 L581.16,840.02 L581.10,839.38 L581.19,838.63 L581.46,837.89 L581.89,837.27 L582.45,836.86 L583.08,836.73 L583.72,836.89 L584.29,837.32 L584.75,837.94 L585.05,838.67 L585.17,839.38 L585.13,839.96 L584.97,840.33 L584.74,840.42 L584.51,840.21 L584.34,839.75 L584.29,839.09 L584.40,838.33 L584.69,837.60 L585.14,837.00 L585.71,836.62 L586.34,836.52 L586.97,836.72 L587.54,837.17 L587.98,837.81 L588.26,838.54 L588.36,839.24 L588.31,839.80 L588.14,840.14 L587.90,840.20 L587.67,839.96 L587.52,839.47 L587.48,838.79 L587.62,838.04 L587.92,837.32 L588.38,836.74 L588.96,836.39 L589.60,836.32 L590.23,836.54 L590.78,837.02 L591.21,837.68 L591.47,838.41 L591.55,839.10 L591.48,839.64 L591.30,839.95 L591.06,839.97 L590.84,839.71 L590.69,839.19 L590.68,838.50 L590.83,837.74 L591.16,837.03 L591.63,836.47 L592.22,836.15 L592.86,836.12 L593.48,836.37 L594.03,836.88 L594.43,837.55 L594.67,838.28 L594.74,838.96 L594.66,839.48 L594.46,839.76 L594.23,839.75 L594.01,839.45 L593.87,838.91 L593.88,838.21 L594.05,837.45 L594.39,836.75 L594.88,836.21 L595.48,835.92 L596.12,835.92 L596.74,836.21 L597.27,836.73 L597.66,837.42 L597.88,838.15 L597.93,838.81 L597.83,839.31 L597.63,839.56 L597.39,839.52 L597.18,839.19 L597.06,838.63 L597.08,837.91 L597.27,837.15 L597.63,836.47 L598.13,835.96 L598.74,835.70 L599.38,835.73 L599.99,836.04 L600.51,836.59 L600.88,837.29 L601.08,838.02 L601.11,838.67 L601.00,839.14 L600.79,839.36 L600.55,839.28 L600.35,838.93 L600.24,838.34 L600.28,837.62 L600.49,836.86 L600.87,836.19 L601.39,835.70 L602.00,835.48 L602.64,835.54 L603.24,835.88 L603.74,836.45 L604.10,837.16 L604.28,837.88 L604.29,838.52 L604.17,838.97 L603.95,839.15 L603.71,839.05 L603.52,838.66 L603.42,838.06 L603.48,837.32 L603.71,836.57 L604.11,835.91 L604.64,835.45 L605.26,835.26 L605.90,835.35 L606.49,835.73 L606.98,836.31 L607.32,837.03" fill="none" stroke="#379026" stroke-width="0.6" stroke-linejoin="round"/>
<path d="M609.4,831.9 L610.0,831.9 L610.5,831.8 L611.1,831.7 L611.7,831.4 L611.8,831.1 L612.4,831.2 L613.1,831.3 L613.7,831.4 L614.3,831.5 L615.0,831.6 L615.6,831.7 L616.3,831.8 L616.2,831.9 L616.6,831.6 L617.1,831.3 L617.6,831.1 L618.1,831.0 L618.7,830.9 L619.3,831.0 L620.0,831.0 L620.5,831.3 L621.0,831.7 L621.6,832.0 L622.1,832.3 L622.6,832.5 L623.1,832.7 L623.6,832.7 L624.1,832.6 L624.6,832.3 L625.1,832.0 L625.5,831.5 L626.0,831.0 L626.5,830.5 L626.9,830.0 L627.4,829.5 L627.9,829.2 L628.4,828.9 L628.9,828.8 L629.4,828.9 L629.9,829.1 L630.4,829.5 L631.0,829.9 L631.5,830.4 L632.0,830.9 L632.6,831.4 L633.1,831.7 L633.6,832.0 L634.1,832.1 L634.6,832.1 L635.1,831.9 L635.6,831.6 L636.1,831.3 L636.5,830.8 L637.0,830.3 L637.5,829.9 L638.0,829.5 L638.4,829.1 L638.9,828.9 L639.4,828.8 L640.1,828.7 L640.6,828.9 L641.0,829.1 L641.5,829.3 L642.0,829.6 L642.5,829.9 L643.0,830.2 L643.5,830.4 L644.0,830.6 L644.5,830.8 L645.0,830.9 L645.5,830.9 L646.0,830.9 L646.5,830.9 L647.0,830.9 L647.5,830.9 L648.0,830.8 L648.5,830.8 L649.0,830.8 L649.5,830.7 L650.0,830.7 L650.5,830.6 L651.0,830.5 L651.5,830.4 L652.0,830.3 L652.5,830.2 L653.0,830.0 L653.5,829.9 L654.0,829.8 L654.5,829.8 L655.0,829.9 L655.5,830.0 L656.0,830.2 L656.5,830.4 L657.0,830.8 L657.5,831.1 L658.0,831.5 L658.5,831.8 L658.9,832.0 L659.4,832.2 L659.9,832.3 L660.4,832.3 L660.9,832.2 L661.5,831.9 L662.0,831.6 L662.5,831.2 L663.0,830.8 L663.5,830.5 L664.1,830.2 L664.6,829.9 L665.1,829.8 L665.6,829.8 L666.1,830.0 L666.6,830.2 L667.0,830.6 L667.5,831.0 L668.0,831.4 L668.5,831.9 L669.0,832.2 L669.4,832.5 L669.9,832.7 L670.4,832.8 L670.9,832.8 L671.4,832.6 L672.0,832.4 L672.5,832.1 L673.0,831.8 L673.5,831.5 L674.0,831.2 L674.5,831.0 L675.0,830.9 L675.5,830.9 L676.0,830.9 L676.5,831.1 L677.0,831.2 L677.5,831.5 L678.0,831.7 L678.5,831.9 L679.0,832.1 L679.5,832.3 L680.0,832.4 L680.5,832.4 L681.0,832.3 L681.5,832.3 L682.0,832.2 L682.5,832.1 L683.0,832.0 L683.5,831.9 L684.0,831.9 L684.5,831.9 L685.0,831.9 L685.5,832.0 L686.0,832.0 L686.5,832.0 L687.0,832.0 L687.5,832.0 L688.0,831.9 L688.5,831.8 L689.0,831.7 L689.5,831.5 L690.0,831.4 L690.5,831.3 L691.0,831.2 L691.5,831.1 L692.0,831.1 L692.5,831.2 L693.0,831.3 L693.5,831.5 L694.0,831.7 L694.5,832.0 L695.0,832.2 L695.5,832.3 L696.0,832.4 L696.5,832.5 L697.0,832.4 L697.5,832.3 L698.0,832.0 L698.5,831.8 L699.0,831.5 L699.5,831.2 L700.0,830.9 L700.5,830.7 L701.0,830.6 L701.5,830.5 L702.0,830.6 L702.5,830.8 L703.0,831.0 L703.5,831.3 L704.0,831.7 L704.5,832.0 L705.0,832.3 L705.5,832.5 L706.0,832.6 L706.5,832.6 L707.0,832.6 L707.5,832.4 L708.0,832.2 L708.5,831.9 L709.0,831.6 L709.5,831.3 L710.0,831.1 L710.5,831.0 L711.0,830.9 L711.5,830.9 L712.0,831.0 L712.5,831.2 L713.0,831.5 L713.5,831.7 L714.0,832.0 L714.5,832.2 L715.0,832.4 L715.5,832.6 L716.0,832.6 L716.5,832.6 L717.0,832.5 L717.5,832.3 L718.0,832.2 L718.5,832.0 L719.0,831.8 L719.5,831.7 L720.0,831.6 L720.5,831.5 L721.0,831.6 L721.5,831.6 L722.0,831.7 L722.5,831.8 L723.0,832.0 L723.6,832.1 L724.1,832.2 L724.6,832.2 L725.1,832.2 L725.6,832.1 L726.1,832.1 L726.6,832.0 L727.1,831.9 L727.6,831.8 L728.1,831.8 L728.6,831.8 L729.1,831.8 L729.6,831.9 L730.2,832.0 L730.7,832.1 L731.2,832.2 L731.7,832.3 L732.2,832.4 L732.7,832.4 L733.2,832.3 L733.7,832.2 L734.2,832.0 L734.7,831.8 L735.2,831.6 L735.7,831.4 L736.2,831.2 L736.8,831.1 L737.3,831.1 L737.8,831.2 L738.3,831.3 L738.8,831.6 L739.3,831.8" fill="none" stroke="#66865c" stroke-width="0.9" stroke-linejoin="round" stroke-linecap="round" />
<circle cx="739.3" cy="831.9" r="1.7" fill="#c41616"/>
<line x1="25.6" y1="882.2" x2="25.6" y2="962.1" stroke="#000" stroke-width="1.8"/>
<text transform="translate(14.6,929) rotate(-90)" font-size="13">R3</text>
<text x="78.5" y="898.8" font-size="13" text-anchor="middle" font-weight="normal" >5 nm</text>
<text x="196" y="898.8" font-size="13" text-anchor="middle" font-weight="normal" >10 nm</text>
<text x="362.3" y="898.8" font-size="13" text-anchor="middle" font-weight="normal" >15 nm</text>
<text x="599.2" y="898.8" font-size="13" text-anchor="middle" font-weight="normal" >20 nm</text>
<path d="M62.1,914.5 L62.7,913.8 L63.4,913.2 L64.1,912.6 L64.8,912.0 L65.3,911.3 L65.4,910.6 L65.9,910.3 L66.4,909.9 L66.9,909.5 L67.4,909.2 L67.9,909.0 L68.5,908.8 L69.0,908.8 L70.0,909.0 L70.4,909.7 L70.7,910.4 L71.0,911.1 L71.5,911.7 L72.0,912.1 L72.6,912.4" fill="none" stroke="#987874" stroke-width="0.9" stroke-linejoin="round" stroke-linecap="round" />
<path d="M65.4,949.1 L66.0,949.7 L66.5,950.3 L67.1,950.9 L67.7,951.4 L68.1,951.9 L68.7,951.7 L69.2,951.5 L69.8,951.4 L70.3,951.3 L70.9,951.2 L71.5,951.2 L71.9,951.2 L72.3,951.6 L72.8,951.9 L73.3,952.2 L73.8,952.5 L74.3,952.7 L74.8,952.9 L75.4,953.0 L76.0,953.1 L76.6,953.2 L76.8,953.3 L77.2,952.9 L77.7,952.5 L78.2,952.2 L78.8,951.9 L79.3,951.7 L79.9,951.5 L80.5,951.3 L81.0,951.1 L81.7,950.8 L82.5,949.3" fill="none" stroke="#987874" stroke-width="0.9" stroke-linejoin="round" stroke-linecap="round" />
<line x1="63.80" y1="916.80" x2="67.80" y2="944.80" stroke="#d9bfbc" stroke-width="2.30" stroke-opacity="0.8"/>
<path d="M63.96,917.89 L63.08,918.13 L62.33,918.19 L61.82,918.09 L61.63,917.88 L61.81,917.63 L62.33,917.40 L63.10,917.27 L64.02,917.28 L64.94,917.47 L65.72,917.83 L66.24,918.35 L66.42,918.97 L66.24,919.62 L65.73,920.23 L64.98,920.74 L64.10,921.10 L63.26,921.28 L62.57,921.28 L62.16,921.14 L62.10,920.91 L62.39,920.66 L63.01,920.46 L63.85,920.37 L64.78,920.43 L65.67,920.68 L66.37,921.10 L66.79,921.66 L66.85,922.30 L66.55,922.94 L65.95,923.53 L65.14,923.99 L64.26,924.29 L63.45,924.41 L62.84,924.36 L62.54,924.18 L62.60,923.94 L63.01,923.69 L63.71,923.52 L64.60,923.48 L65.53,923.61 L66.38,923.92 L66.99,924.39 L67.29,924.98 L67.23,925.63 L66.82,926.26 L66.14,926.81 L65.29,927.22 L64.42,927.46 L63.66,927.52 L63.15,927.42 L62.97,927.22 L63.14,926.96 L63.66,926.74 L64.44,926.60 L65.36,926.61 L66.28,926.80 L67.06,927.17 L67.57,927.68 L67.75,928.30 L67.57,928.95 L67.06,929.57 L66.31,930.08 L65.44,930.43 L64.59,930.61 L63.90,930.62 L63.49,930.48 L63.43,930.24 L63.73,929.99 L64.34,929.79 L65.18,929.70 L66.12,929.77 L67.00,930.02 L67.71,930.44 L68.12,930.99 L68.18,931.63 L67.88,932.28 L67.28,932.86 L66.47,933.33 L65.59,933.62 L64.78,933.74 L64.18,933.69 L63.88,933.52 L63.93,933.27 L64.34,933.03 L65.05,932.85 L65.93,932.81 L66.87,932.94 L67.71,933.25 L68.32,933.72 L68.62,934.31 L68.56,934.96 L68.15,935.59 L67.47,936.14 L66.62,936.56 L65.75,936.79 L64.99,936.85 L64.48,936.76 L64.30,936.55 L64.48,936.30 L64.99,936.07 L65.77,935.93 L66.69,935.95 L67.61,936.14 L68.39,936.50 L68.91,937.02 L69.09,937.64 L68.91,938.29 L68.40,938.90 L67.64,939.41 L66.77,939.77 L65.92,939.95 L65.24,939.95 L64.83,939.81 L64.76,939.58 L65.06,939.33 L65.67,939.12 L66.51,939.03 L67.45,939.10 L68.34,939.35 L69.04,939.77 L69.45,940.33 L69.51,940.96 L69.21,941.61 L68.61,942.20 L67.80,942.66 L66.92,942.96 L66.11,943.08 L65.51,943.03 L65.21,942.85 L65.27,942.60 L65.68,942.36 L66.38,942.19 L67.27,942.15 L68.20,942.27 L69.04,942.58 L69.66,943.05 L69.96,943.64 L69.90,944.29 L69.49,944.93 L68.80,945.48 L67.96,945.89" fill="none" stroke="#5e4442" stroke-width="1.35" stroke-linejoin="round"/>
<path d="M63.96,917.89 L63.08,918.13 L62.33,918.19 L61.82,918.09 L61.63,917.88 L61.81,917.63 L62.33,917.40 L63.10,917.27 L64.02,917.28 L64.94,917.47 L65.72,917.83 L66.24,918.35 L66.42,918.97 L66.24,919.62 L65.73,920.23 L64.98,920.74 L64.10,921.10 L63.26,921.28 L62.57,921.28 L62.16,921.14 L62.10,920.91 L62.39,920.66 L63.01,920.46 L63.85,920.37 L64.78,920.43 L65.67,920.68 L66.37,921.10 L66.79,921.66 L66.85,922.30 L66.55,922.94 L65.95,923.53 L65.14,923.99 L64.26,924.29 L63.45,924.41 L62.84,924.36 L62.54,924.18 L62.60,923.94 L63.01,923.69 L63.71,923.52 L64.60,923.48 L65.53,923.61 L66.38,923.92 L66.99,924.39 L67.29,924.98 L67.23,925.63 L66.82,926.26 L66.14,926.81 L65.29,927.22 L64.42,927.46 L63.66,927.52 L63.15,927.42 L62.97,927.22 L63.14,926.96 L63.66,926.74 L64.44,926.60 L65.36,926.61 L66.28,926.80 L67.06,927.17 L67.57,927.68 L67.75,928.30 L67.57,928.95 L67.06,929.57 L66.31,930.08 L65.44,930.43 L64.59,930.61 L63.90,930.62 L63.49,930.48 L63.43,930.24 L63.73,929.99 L64.34,929.79 L65.18,929.70 L66.12,929.77 L67.00,930.02 L67.71,930.44 L68.12,930.99 L68.18,931.63 L67.88,932.28 L67.28,932.86 L66.47,933.33 L65.59,933.62 L64.78,933.74 L64.18,933.69 L63.88,933.52 L63.93,933.27 L64.34,933.03 L65.05,932.85 L65.93,932.81 L66.87,932.94 L67.71,933.25 L68.32,933.72 L68.62,934.31 L68.56,934.96 L68.15,935.59 L67.47,936.14 L66.62,936.56 L65.75,936.79 L64.99,936.85 L64.48,936.76 L64.30,936.55 L64.48,936.30 L64.99,936.07 L65.77,935.93 L66.69,935.95 L67.61,936.14 L68.39,936.50 L68.91,937.02 L69.09,937.64 L68.91,938.29 L68.40,938.90 L67.64,939.41 L66.77,939.77 L65.92,939.95 L65.24,939.95 L64.83,939.81 L64.76,939.58 L65.06,939.33 L65.67,939.12 L66.51,939.03 L67.45,939.10 L68.34,939.35 L69.04,939.77 L69.45,940.33 L69.51,940.96 L69.21,941.61 L68.61,942.20 L67.80,942.66 L66.92,942.96 L66.11,943.08 L65.51,943.03 L65.21,942.85 L65.27,942.60 L65.68,942.36 L66.38,942.19 L67.27,942.15 L68.20,942.27 L69.04,942.58 L69.66,943.05 L69.96,943.64 L69.90,944.29 L69.49,944.93 L68.80,945.48 L67.96,945.89" fill="none" stroke="#d9bfbc" stroke-width="0.6" stroke-linejoin="round"/>
<line x1="73.00" y1="912.00" x2="74.10" y2="948.40" stroke="#d9bfbc" stroke-width="2.30" stroke-opacity="0.8"/>
<path d="M73.03,913.16 L72.19,913.30 L71.45,913.29 L70.94,913.15 L70.73,912.93 L70.84,912.69 L71.27,912.50 L71.94,912.41 L72.78,912.46 L73.65,912.67 L74.43,913.04 L75.03,913.55 L75.34,914.15 L75.33,914.79 L75.00,915.40 L74.39,915.93 L73.60,916.32 L72.74,916.55 L71.93,916.62 L71.29,916.55 L70.91,916.36 L70.84,916.13 L71.10,915.91 L71.65,915.75 L72.41,915.72 L73.27,915.84 L74.12,916.13 L74.83,916.57 L75.31,917.12 L75.47,917.75 L75.31,918.38 L74.85,918.96 L74.15,919.43 L73.31,919.76 L72.46,919.91 L71.71,919.91 L71.18,919.78 L70.94,919.57 L71.02,919.33 L71.42,919.13 L72.07,919.03 L72.90,919.06 L73.77,919.26 L74.57,919.62 L75.18,920.12 L75.52,920.71 L75.54,921.35 L75.24,921.97 L74.66,922.50 L73.88,922.91 L73.02,923.16 L72.20,923.24 L71.54,923.18 L71.13,923.00 L71.03,922.77 L71.26,922.54 L71.79,922.38 L72.53,922.33 L73.39,922.44 L74.25,922.71 L74.98,923.14 L75.48,923.69 L75.67,924.31 L75.54,924.95 L75.10,925.53 L74.42,926.01 L73.59,926.35 L72.74,926.52 L71.97,926.54 L71.42,926.42 L71.15,926.21 L71.20,925.97 L71.57,925.77 L72.21,925.65 L73.02,925.67 L73.89,925.85 L74.70,926.20 L75.34,926.68 L75.70,927.27 L75.75,927.91 L75.48,928.53 L74.92,929.08 L74.16,929.50 L73.30,929.76 L72.47,929.86 L71.79,929.81 L71.35,929.64 L71.23,929.41 L71.43,929.18 L71.93,929.01 L72.66,928.95 L73.51,929.04 L74.38,929.30 L75.12,929.71 L75.64,930.25 L75.87,930.87 L75.77,931.51 L75.36,932.10 L74.69,932.59 L73.87,932.94 L73.01,933.13 L72.24,933.16 L71.66,933.05 L71.36,932.85 L71.38,932.61 L71.72,932.40 L72.34,932.27 L73.14,932.28 L74.01,932.45 L74.84,932.78 L75.49,933.25 L75.88,933.84 L75.96,934.47 L75.72,935.09 L75.18,935.65 L74.43,936.08 L73.58,936.36 L72.74,936.47 L72.04,936.43 L71.58,936.28 L71.43,936.05 L71.60,935.82 L72.07,935.64 L72.79,935.57 L73.64,935.64 L74.50,935.89 L75.26,936.29 L75.81,936.82 L76.06,937.43 L75.99,938.07 L75.60,938.67 L74.96,939.17 L74.15,939.54 L73.29,939.74 L72.50,939.78 L71.90,939.68 L71.57,939.49 L71.56,939.25 L71.88,939.03 L72.47,938.90 L73.26,938.89 L74.13,939.04 L74.97,939.36 L75.64,939.82 L76.06,940.40 L76.17,941.03 L75.95,941.66 L75.44,942.22 L74.71,942.67 L73.86,942.96 L73.01,943.09 L72.30,943.06 L71.81,942.91 L71.63,942.69 L71.77,942.45 L72.22,942.27 L72.91,942.19 L73.76,942.25 L74.62,942.48 L75.40,942.86 L75.97,943.38 L76.25,943.99 L76.21,944.63 L75.85,945.23 L75.23,945.75 L74.43,946.13 L73.56,946.35 L72.77,946.40 L72.14,946.32 L71.79,946.13 L71.75,945.89 L72.04,945.67 L72.61,945.52 L73.39,945.50 L74.25,945.64 L75.10,945.94 L75.79,946.39 L76.23,946.96 L76.37,947.59 L76.18,948.22 L75.70,948.79 L74.98,949.25 L74.14,949.56" fill="none" stroke="#5e4442" stroke-width="1.35" stroke-linejoin="round"/>
<path d="M73.03,913.16 L72.19,913.30 L71.45,913.29 L70.94,913.15 L70.73,912.93 L70.84,912.69 L71.27,912.50 L71.94,912.41 L72.78,912.46 L73.65,912.67 L74.43,913.04 L75.03,913.55 L75.34,914.15 L75.33,914.79 L75.00,915.40 L74.39,915.93 L73.60,916.32 L72.74,916.55 L71.93,916.62 L71.29,916.55 L70.91,916.36 L70.84,916.13 L71.10,915.91 L71.65,915.75 L72.41,915.72 L73.27,915.84 L74.12,916.13 L74.83,916.57 L75.31,917.12 L75.47,917.75 L75.31,918.38 L74.85,918.96 L74.15,919.43 L73.31,919.76 L72.46,919.91 L71.71,919.91 L71.18,919.78 L70.94,919.57 L71.02,919.33 L71.42,919.13 L72.07,919.03 L72.90,919.06 L73.77,919.26 L74.57,919.62 L75.18,920.12 L75.52,920.71 L75.54,921.35 L75.24,921.97 L74.66,922.50 L73.88,922.91 L73.02,923.16 L72.20,923.24 L71.54,923.18 L71.13,923.00 L71.03,922.77 L71.26,922.54 L71.79,922.38 L72.53,922.33 L73.39,922.44 L74.25,922.71 L74.98,923.14 L75.48,923.69 L75.67,924.31 L75.54,924.95 L75.10,925.53 L74.42,926.01 L73.59,926.35 L72.74,926.52 L71.97,926.54 L71.42,926.42 L71.15,926.21 L71.20,925.97 L71.57,925.77 L72.21,925.65 L73.02,925.67 L73.89,925.85 L74.70,926.20 L75.34,926.68 L75.70,927.27 L75.75,927.91 L75.48,928.53 L74.92,929.08 L74.16,929.50 L73.30,929.76 L72.47,929.86 L71.79,929.81 L71.35,929.64 L71.23,929.41 L71.43,929.18 L71.93,929.01 L72.66,928.95 L73.51,929.04 L74.38,929.30 L75.12,929.71 L75.64,930.25 L75.87,930.87 L75.77,931.51 L75.36,932.10 L74.69,932.59 L73.87,932.94 L73.01,933.13 L72.24,933.16 L71.66,933.05 L71.36,932.85 L71.38,932.61 L71.72,932.40 L72.34,932.27 L73.14,932.28 L74.01,932.45 L74.84,932.78 L75.49,933.25 L75.88,933.84 L75.96,934.47 L75.72,935.09 L75.18,935.65 L74.43,936.08 L73.58,936.36 L72.74,936.47 L72.04,936.43 L71.58,936.28 L71.43,936.05 L71.60,935.82 L72.07,935.64 L72.79,935.57 L73.64,935.64 L74.50,935.89 L75.26,936.29 L75.81,936.82 L76.06,937.43 L75.99,938.07 L75.60,938.67 L74.96,939.17 L74.15,939.54 L73.29,939.74 L72.50,939.78 L71.90,939.68 L71.57,939.49 L71.56,939.25 L71.88,939.03 L72.47,938.90 L73.26,938.89 L74.13,939.04 L74.97,939.36 L75.64,939.82 L76.06,940.40 L76.17,941.03 L75.95,941.66 L75.44,942.22 L74.71,942.67 L73.86,942.96 L73.01,943.09 L72.30,943.06 L71.81,942.91 L71.63,942.69 L71.77,942.45 L72.22,942.27 L72.91,942.19 L73.76,942.25 L74.62,942.48 L75.40,942.86 L75.97,943.38 L76.25,943.99 L76.21,944.63 L75.85,945.23 L75.23,945.75 L74.43,946.13 L73.56,946.35 L72.77,946.40 L72.14,946.32 L71.79,946.13 L71.75,945.89 L72.04,945.67 L72.61,945.52 L73.39,945.50 L74.25,945.64 L75.10,945.94 L75.79,946.39 L76.23,946.96 L76.37,947.59 L76.18,948.22 L75.70,948.79 L74.98,949.25 L74.14,949.56" fill="none" stroke="#d9bfbc" stroke-width="0.6" stroke-linejoin="round"/>
<line x1="60.10" y1="928.60" x2="69.70" y2="944.00" stroke="#d9bfbc" stroke-width="2.30" stroke-opacity="0.8"/>
<path d="M60.66,929.50 L59.92,930.09 L59.24,930.45 L58.74,930.55 L58.53,930.40 L58.66,930.06 L59.14,929.62 L59.89,929.17 L60.81,928.84 L61.75,928.70 L62.58,928.81 L63.16,929.18 L63.41,929.77 L63.31,930.52 L62.90,931.32 L62.26,932.07 L61.52,932.65 L60.84,933.01 L60.34,933.11 L60.13,932.97 L60.26,932.63 L60.74,932.18 L61.49,931.74 L62.41,931.40 L63.35,931.26 L64.18,931.37 L64.76,931.74 L65.01,932.34 L64.91,933.09 L64.50,933.89 L63.86,934.63 L63.12,935.22 L62.44,935.58 L61.94,935.68 L61.73,935.53 L61.86,935.19 L62.34,934.75 L63.09,934.31 L64.01,933.97 L64.95,933.83 L65.78,933.94 L66.36,934.31 L66.61,934.91 L66.51,935.65 L66.10,936.45 L65.46,937.20 L64.72,937.79 L64.04,938.15 L63.54,938.25 L63.33,938.10 L63.46,937.76 L63.94,937.32 L64.69,936.87 L65.61,936.54 L66.55,936.40 L67.38,936.51 L67.96,936.88 L68.21,937.47 L68.11,938.22 L67.70,939.02 L67.06,939.76 L66.32,940.35 L65.64,940.71 L65.14,940.81 L64.93,940.67 L65.06,940.33 L65.54,939.88 L66.29,939.44 L67.21,939.10 L68.15,938.96 L68.98,939.07 L69.56,939.44 L69.81,940.04 L69.71,940.79 L69.30,941.59 L68.66,942.33 L67.92,942.92 L67.24,943.28 L66.74,943.38 L66.53,943.23 L66.66,942.89 L67.14,942.45 L67.89,942.01 L68.81,941.67 L69.75,941.53 L70.58,941.64 L71.16,942.01 L71.41,942.61 L71.31,943.35 L70.90,944.15 L70.26,944.90" fill="none" stroke="#5e4442" stroke-width="1.35" stroke-linejoin="round"/>
<path d="M60.66,929.50 L59.92,930.09 L59.24,930.45 L58.74,930.55 L58.53,930.40 L58.66,930.06 L59.14,929.62 L59.89,929.17 L60.81,928.84 L61.75,928.70 L62.58,928.81 L63.16,929.18 L63.41,929.77 L63.31,930.52 L62.90,931.32 L62.26,932.07 L61.52,932.65 L60.84,933.01 L60.34,933.11 L60.13,932.97 L60.26,932.63 L60.74,932.18 L61.49,931.74 L62.41,931.40 L63.35,931.26 L64.18,931.37 L64.76,931.74 L65.01,932.34 L64.91,933.09 L64.50,933.89 L63.86,934.63 L63.12,935.22 L62.44,935.58 L61.94,935.68 L61.73,935.53 L61.86,935.19 L62.34,934.75 L63.09,934.31 L64.01,933.97 L64.95,933.83 L65.78,933.94 L66.36,934.31 L66.61,934.91 L66.51,935.65 L66.10,936.45 L65.46,937.20 L64.72,937.79 L64.04,938.15 L63.54,938.25 L63.33,938.10 L63.46,937.76 L63.94,937.32 L64.69,936.87 L65.61,936.54 L66.55,936.40 L67.38,936.51 L67.96,936.88 L68.21,937.47 L68.11,938.22 L67.70,939.02 L67.06,939.76 L66.32,940.35 L65.64,940.71 L65.14,940.81 L64.93,940.67 L65.06,940.33 L65.54,939.88 L66.29,939.44 L67.21,939.10 L68.15,938.96 L68.98,939.07 L69.56,939.44 L69.81,940.04 L69.71,940.79 L69.30,941.59 L68.66,942.33 L67.92,942.92 L67.24,943.28 L66.74,943.38 L66.53,943.23 L66.66,942.89 L67.14,942.45 L67.89,942.01 L68.81,941.67 L69.75,941.53 L70.58,941.64 L71.16,942.01 L71.41,942.61 L71.31,943.35 L70.90,944.15 L70.26,944.90" fill="none" stroke="#d9bfbc" stroke-width="0.6" stroke-linejoin="round"/>
<line x1="76.30" y1="931.50" x2="82.20" y2="949.20" stroke="#d9bfbc" stroke-width="2.30" stroke-opacity="0.8"/>
<path d="M76.64,932.53 L75.82,932.93 L75.08,933.12 L74.56,933.11 L74.36,932.94 L74.51,932.65 L75.00,932.33 L75.76,932.06 L76.69,931.92 L77.63,931.96 L78.45,932.20 L79.02,932.63 L79.27,933.22 L79.16,933.90 L78.72,934.60 L78.03,935.22 L77.21,935.70 L76.41,936.00 L75.77,936.09 L75.40,935.99 L75.37,935.75 L75.70,935.44 L76.34,935.14 L77.20,934.92 L78.15,934.86 L79.05,935.00 L79.76,935.34 L80.17,935.86 L80.24,936.51 L79.96,937.20 L79.38,937.87 L78.61,938.43 L77.79,938.83 L77.05,939.02 L76.53,939.01 L76.32,938.84 L76.47,938.55 L76.96,938.23 L77.73,937.96 L78.65,937.82 L79.60,937.86 L80.42,938.10 L80.99,938.53 L81.24,939.12 L81.13,939.80 L80.68,940.50 L79.99,941.12 L79.18,941.60 L78.38,941.90 L77.74,941.99 L77.37,941.89 L77.34,941.65 L77.66,941.34 L78.30,941.04 L79.16,940.82 L80.11,940.76 L81.01,940.90 L81.72,941.24 L82.14,941.76 L82.21,942.41 L81.93,943.10 L81.35,943.77 L80.58,944.33 L79.75,944.73 L79.02,944.92 L78.50,944.91 L78.29,944.74 L78.44,944.45 L78.93,944.13 L79.70,943.86 L80.62,943.72 L81.56,943.76 L82.38,944.00 L82.96,944.43 L83.20,945.02 L83.09,945.70 L82.65,946.40 L81.96,947.02 L81.15,947.50 L80.35,947.80 L79.71,947.89 L79.33,947.79 L79.30,947.55 L79.63,947.24 L80.27,946.94 L81.13,946.72 L82.08,946.66 L82.98,946.80 L83.69,947.14 L84.11,947.66 L84.18,948.31 L83.89,949.00 L83.31,949.67 L82.54,950.23" fill="none" stroke="#5e4442" stroke-width="1.35" stroke-linejoin="round"/>
<path d="M76.64,932.53 L75.82,932.93 L75.08,933.12 L74.56,933.11 L74.36,932.94 L74.51,932.65 L75.00,932.33 L75.76,932.06 L76.69,931.92 L77.63,931.96 L78.45,932.20 L79.02,932.63 L79.27,933.22 L79.16,933.90 L78.72,934.60 L78.03,935.22 L77.21,935.70 L76.41,936.00 L75.77,936.09 L75.40,935.99 L75.37,935.75 L75.70,935.44 L76.34,935.14 L77.20,934.92 L78.15,934.86 L79.05,935.00 L79.76,935.34 L80.17,935.86 L80.24,936.51 L79.96,937.20 L79.38,937.87 L78.61,938.43 L77.79,938.83 L77.05,939.02 L76.53,939.01 L76.32,938.84 L76.47,938.55 L76.96,938.23 L77.73,937.96 L78.65,937.82 L79.60,937.86 L80.42,938.10 L80.99,938.53 L81.24,939.12 L81.13,939.80 L80.68,940.50 L79.99,941.12 L79.18,941.60 L78.38,941.90 L77.74,941.99 L77.37,941.89 L77.34,941.65 L77.66,941.34 L78.30,941.04 L79.16,940.82 L80.11,940.76 L81.01,940.90 L81.72,941.24 L82.14,941.76 L82.21,942.41 L81.93,943.10 L81.35,943.77 L80.58,944.33 L79.75,944.73 L79.02,944.92 L78.50,944.91 L78.29,944.74 L78.44,944.45 L78.93,944.13 L79.70,943.86 L80.62,943.72 L81.56,943.76 L82.38,944.00 L82.96,944.43 L83.20,945.02 L83.09,945.70 L82.65,946.40 L81.96,947.02 L81.15,947.50 L80.35,947.80 L79.71,947.89 L79.33,947.79 L79.30,947.55 L79.63,947.24 L80.27,946.94 L81.13,946.72 L82.08,946.66 L82.98,946.80 L83.69,947.14 L84.11,947.66 L84.18,948.31 L83.89,949.00 L83.31,949.67 L82.54,950.23" fill="none" stroke="#d9bfbc" stroke-width="0.6" stroke-linejoin="round"/>
<path d="M77.3,927.4 L77.9,927.4 L78.4,927.4 L79.0,927.4 L79.6,927.5 L80.1,927.6 L80.6,927.8 L81.1,928.1 L81.5,928.4 L81.9,928.8 L82.4,929.2 L82.9,929.6 L83.4,929.7 L83.9,929.9 L84.4,929.9 L84.9,929.9 L85.4,929.9 L85.9,929.8 L86.5,929.7 L87.0,929.6 L87.5,929.5 L88.0,929.5 L88.5,929.6 L89.0,929.7 L89.5,929.9 L90.0,930.1 L90.5,930.4 L91.1,930.6 L91.6,930.6 L92.2,930.5 L92.8,930.4 L93.3,930.2 L93.8,929.9 L94.2,929.6 L94.7,929.2 L95.1,928.8 L95.6,928.5 L96.2,928.1 L96.7,928.0 L97.2,927.9 L97.7,927.9 L98.2,928.0 L98.8,928.1 L99.3,928.3 L99.8,928.4 L100.3,928.6 L100.9,928.7 L101.4,928.8 L101.9,928.8 L102.4,928.8" fill="none" stroke="#987874" stroke-width="0.9" stroke-linejoin="round" stroke-linecap="round" />
<circle cx="56" cy="928.6" r="1.7" fill="#1a1ad8"/>
<circle cx="102.4" cy="928.2" r="1.7" fill="#c41616"/>
<path d="M152.6,911.1 L152.2,911.5 L151.7,911.9 L151.2,912.2 L150.7,912.6 L150.2,912.8 L149.6,913.1 L149.1,913.3 L148.6,913.4 L149.2,919.2 L149.7,919.3 L150.2,919.5 L150.7,919.6 L151.1,919.8 L151.6,919.9 L152.2,919.9 L152.7,920.0" fill="none" stroke="#987874" stroke-width="0.9" stroke-linejoin="round" stroke-linecap="round" />
<line x1="152.70" y1="911.30" x2="180.80" y2="931.70" stroke="#d9bfbc" stroke-width="2.30" stroke-opacity="0.8"/>
<path d="M153.59,911.95 L153.16,912.74 L152.68,913.32 L152.25,913.62 L151.97,913.61 L151.91,913.32 L152.10,912.79 L152.54,912.14 L153.18,911.49 L153.95,910.96 L154.75,910.65 L155.49,910.63 L156.07,910.91 L156.42,911.48 L156.52,912.27 L156.38,913.16 L156.04,914.03 L155.58,914.78 L155.11,915.29 L154.71,915.51 L154.49,915.41 L154.49,915.05 L154.75,914.48 L155.25,913.82 L155.94,913.19 L156.73,912.71 L157.52,912.47 L158.22,912.53 L158.74,912.90 L159.03,913.53 L159.06,914.36 L158.86,915.26 L158.48,916.11 L158.01,916.80 L157.54,917.23 L157.19,917.37 L157.02,917.19 L157.09,916.76 L157.42,916.16 L157.98,915.49 L158.70,914.89 L159.50,914.47 L160.28,914.31 L160.94,914.45 L161.40,914.90 L161.62,915.60 L161.58,916.46 L161.32,917.35 L160.91,918.17 L160.43,918.80 L159.99,919.16 L159.67,919.20 L159.57,918.95 L159.71,918.46 L160.11,917.83 L160.72,917.17 L161.47,916.61 L162.27,916.25 L163.03,916.17 L163.64,916.40 L164.04,916.93 L164.19,917.68 L164.09,918.56 L163.78,919.45 L163.34,920.22 L162.86,920.78 L162.44,921.05 L162.18,921.02 L162.14,920.69 L162.35,920.15 L162.81,919.50 L163.46,918.86 L164.24,918.34 L165.04,918.05 L165.77,918.06 L166.33,918.37 L166.66,918.97 L166.74,919.76 L166.57,920.66 L166.22,921.53 L165.76,922.25 L165.29,922.74 L164.90,922.93 L164.70,922.81 L164.72,922.42 L165.01,921.84 L165.52,921.17 L166.22,920.55 L167.02,920.09 L167.81,919.88 L168.50,919.97 L169.00,920.36 L169.26,921.02 L169.27,921.86 L169.05,922.76 L168.66,923.60 L168.18,924.27 L167.72,924.68 L167.38,924.78 L167.23,924.58 L167.33,924.13 L167.68,923.51 L168.25,922.85 L168.99,922.26 L169.79,921.86 L170.56,921.73 L171.21,921.90 L171.65,922.37 L171.84,923.09 L171.79,923.96 L171.51,924.85 L171.09,925.66 L170.60,926.26 L170.17,926.59 L169.87,926.61 L169.79,926.33 L169.96,925.83 L170.37,925.19 L171.00,924.53 L171.76,923.98 L172.56,923.65 L173.31,923.60 L173.91,923.86 L174.28,924.40 L174.41,925.17 L174.28,926.06 L173.96,926.94 L173.51,927.70 L173.03,928.24 L172.63,928.48 L172.38,928.42 L172.36,928.07 L172.60,927.52 L173.08,926.86 L173.75,926.22 L174.53,925.72 L175.33,925.46 L176.05,925.49 L176.59,925.83 L176.90,926.45 L176.95,927.26 L176.77,928.16 L176.40,929.02 L175.93,929.73 L175.46,930.19 L175.09,930.35 L174.91,930.20 L174.96,929.79 L175.26,929.20 L175.80,928.53 L176.51,927.92 L177.31,927.48 L178.09,927.29 L178.77,927.41 L179.25,927.83 L179.49,928.51 L179.48,929.36 L179.24,930.26 L178.83,931.09 L178.36,931.73 L177.90,932.12 L177.58,932.19 L177.45,931.97 L177.57,931.50 L177.94,930.87 L178.53,930.21 L179.28,929.63 L180.08,929.25 L180.85,929.15 L181.48,929.35 L181.90,929.85 L182.07,930.58 L181.99,931.46 L181.69,932.35" fill="none" stroke="#5e4442" stroke-width="1.35" stroke-linejoin="round"/>
<path d="M153.59,911.95 L153.16,912.74 L152.68,913.32 L152.25,913.62 L151.97,913.61 L151.91,913.32 L152.10,912.79 L152.54,912.14 L153.18,911.49 L153.95,910.96 L154.75,910.65 L155.49,910.63 L156.07,910.91 L156.42,911.48 L156.52,912.27 L156.38,913.16 L156.04,914.03 L155.58,914.78 L155.11,915.29 L154.71,915.51 L154.49,915.41 L154.49,915.05 L154.75,914.48 L155.25,913.82 L155.94,913.19 L156.73,912.71 L157.52,912.47 L158.22,912.53 L158.74,912.90 L159.03,913.53 L159.06,914.36 L158.86,915.26 L158.48,916.11 L158.01,916.80 L157.54,917.23 L157.19,917.37 L157.02,917.19 L157.09,916.76 L157.42,916.16 L157.98,915.49 L158.70,914.89 L159.50,914.47 L160.28,914.31 L160.94,914.45 L161.40,914.90 L161.62,915.60 L161.58,916.46 L161.32,917.35 L160.91,918.17 L160.43,918.80 L159.99,919.16 L159.67,919.20 L159.57,918.95 L159.71,918.46 L160.11,917.83 L160.72,917.17 L161.47,916.61 L162.27,916.25 L163.03,916.17 L163.64,916.40 L164.04,916.93 L164.19,917.68 L164.09,918.56 L163.78,919.45 L163.34,920.22 L162.86,920.78 L162.44,921.05 L162.18,921.02 L162.14,920.69 L162.35,920.15 L162.81,919.50 L163.46,918.86 L164.24,918.34 L165.04,918.05 L165.77,918.06 L166.33,918.37 L166.66,918.97 L166.74,919.76 L166.57,920.66 L166.22,921.53 L165.76,922.25 L165.29,922.74 L164.90,922.93 L164.70,922.81 L164.72,922.42 L165.01,921.84 L165.52,921.17 L166.22,920.55 L167.02,920.09 L167.81,919.88 L168.50,919.97 L169.00,920.36 L169.26,921.02 L169.27,921.86 L169.05,922.76 L168.66,923.60 L168.18,924.27 L167.72,924.68 L167.38,924.78 L167.23,924.58 L167.33,924.13 L167.68,923.51 L168.25,922.85 L168.99,922.26 L169.79,921.86 L170.56,921.73 L171.21,921.90 L171.65,922.37 L171.84,923.09 L171.79,923.96 L171.51,924.85 L171.09,925.66 L170.60,926.26 L170.17,926.59 L169.87,926.61 L169.79,926.33 L169.96,925.83 L170.37,925.19 L171.00,924.53 L171.76,923.98 L172.56,923.65 L173.31,923.60 L173.91,923.86 L174.28,924.40 L174.41,925.17 L174.28,926.06 L173.96,926.94 L173.51,927.70 L173.03,928.24 L172.63,928.48 L172.38,928.42 L172.36,928.07 L172.60,927.52 L173.08,926.86 L173.75,926.22 L174.53,925.72 L175.33,925.46 L176.05,925.49 L176.59,925.83 L176.90,926.45 L176.95,927.26 L176.77,928.16 L176.40,929.02 L175.93,929.73 L175.46,930.19 L175.09,930.35 L174.91,930.20 L174.96,929.79 L175.26,929.20 L175.80,928.53 L176.51,927.92 L177.31,927.48 L178.09,927.29 L178.77,927.41 L179.25,927.83 L179.49,928.51 L179.48,929.36 L179.24,930.26 L178.83,931.09 L178.36,931.73 L177.90,932.12 L177.58,932.19 L177.45,931.97 L177.57,931.50 L177.94,930.87 L178.53,930.21 L179.28,929.63 L180.08,929.25 L180.85,929.15 L181.48,929.35 L181.90,929.85 L182.07,930.58 L181.99,931.46 L181.69,932.35" fill="none" stroke="#d9bfbc" stroke-width="0.6" stroke-linejoin="round"/>
<line x1="152.70" y1="919.80" x2="180.10" y2="938.00" stroke="#d9bfbc" stroke-width="2.30" stroke-opacity="0.8"/>
<path d="M153.66,920.44 L153.28,921.22 L152.84,921.81 L152.43,922.14 L152.13,922.18 L152.01,921.94 L152.11,921.47 L152.45,920.86 L152.98,920.20 L153.67,919.61 L154.44,919.20 L155.20,919.03 L155.86,919.16 L156.35,919.56 L156.63,920.22 L156.68,921.03 L156.52,921.91 L156.18,922.74 L155.76,923.42 L155.33,923.86 L154.97,924.02 L154.78,923.89 L154.79,923.50 L155.03,922.93 L155.49,922.28 L156.12,921.65 L156.87,921.16 L157.64,920.89 L158.35,920.89 L158.92,921.19 L159.29,921.75 L159.43,922.51 L159.34,923.38 L159.07,924.24 L158.68,924.99 L158.24,925.54 L157.84,925.81 L157.57,925.80 L157.50,925.50 L157.64,925.00 L158.02,924.36 L158.59,923.71 L159.30,923.15 L160.08,922.78 L160.82,922.67 L161.45,922.86 L161.91,923.32 L162.14,924.01 L162.14,924.85 L161.94,925.73 L161.58,926.53 L161.15,927.17 L160.73,927.56 L160.40,927.66 L160.24,927.47 L160.30,927.04 L160.58,926.45 L161.08,925.79 L161.75,925.18 L162.51,924.72 L163.27,924.50 L163.96,924.57 L164.49,924.92 L164.82,925.53 L164.91,926.32 L164.78,927.20 L164.48,928.05 L164.07,928.76 L163.63,929.26 L163.26,929.47 L163.02,929.40 L162.99,929.06 L163.18,928.52 L163.60,927.87 L164.20,927.23 L164.94,926.70 L165.71,926.38 L166.44,926.33 L167.04,926.57 L167.45,927.08 L167.64,927.81 L167.60,928.66 L167.36,929.54 L166.98,930.32 L166.54,930.91 L166.13,931.24 L165.83,931.28 L165.71,931.04 L165.81,930.57 L166.15,929.96 L166.68,929.30 L167.37,928.71 L168.14,928.30 L168.90,928.13 L169.56,928.26 L170.05,928.66 L170.33,929.32 L170.38,930.13 L170.22,931.01 L169.88,931.84 L169.46,932.52 L169.03,932.96 L168.67,933.12 L168.48,932.99 L168.49,932.60 L168.73,932.03 L169.19,931.38 L169.82,930.75 L170.57,930.26 L171.34,929.99 L172.05,929.99 L172.62,930.29 L172.99,930.85 L173.13,931.61 L173.04,932.48 L172.77,933.34 L172.38,934.09 L171.94,934.64 L171.54,934.91 L171.27,934.90 L171.20,934.60 L171.34,934.10 L171.72,933.46 L172.29,932.81 L173.00,932.25 L173.78,931.88 L174.52,931.77 L175.15,931.96 L175.61,932.42 L175.84,933.11 L175.84,933.95 L175.64,934.83 L175.28,935.63 L174.85,936.27 L174.43,936.66 L174.10,936.76 L173.94,936.57 L174.00,936.14 L174.28,935.55 L174.78,934.89 L175.45,934.28 L176.21,933.82 L176.97,933.60 L177.66,933.67 L178.19,934.02 L178.52,934.63 L178.61,935.42 L178.48,936.30 L178.18,937.15 L177.77,937.86 L177.33,938.36 L176.96,938.57 L176.72,938.50 L176.69,938.16 L176.88,937.62 L177.30,936.97 L177.90,936.33 L178.64,935.80 L179.41,935.48 L180.14,935.43 L180.74,935.67 L181.15,936.18 L181.34,936.91 L181.30,937.76 L181.06,938.64" fill="none" stroke="#5e4442" stroke-width="1.35" stroke-linejoin="round"/>
<path d="M153.66,920.44 L153.28,921.22 L152.84,921.81 L152.43,922.14 L152.13,922.18 L152.01,921.94 L152.11,921.47 L152.45,920.86 L152.98,920.20 L153.67,919.61 L154.44,919.20 L155.20,919.03 L155.86,919.16 L156.35,919.56 L156.63,920.22 L156.68,921.03 L156.52,921.91 L156.18,922.74 L155.76,923.42 L155.33,923.86 L154.97,924.02 L154.78,923.89 L154.79,923.50 L155.03,922.93 L155.49,922.28 L156.12,921.65 L156.87,921.16 L157.64,920.89 L158.35,920.89 L158.92,921.19 L159.29,921.75 L159.43,922.51 L159.34,923.38 L159.07,924.24 L158.68,924.99 L158.24,925.54 L157.84,925.81 L157.57,925.80 L157.50,925.50 L157.64,925.00 L158.02,924.36 L158.59,923.71 L159.30,923.15 L160.08,922.78 L160.82,922.67 L161.45,922.86 L161.91,923.32 L162.14,924.01 L162.14,924.85 L161.94,925.73 L161.58,926.53 L161.15,927.17 L160.73,927.56 L160.40,927.66 L160.24,927.47 L160.30,927.04 L160.58,926.45 L161.08,925.79 L161.75,925.18 L162.51,924.72 L163.27,924.50 L163.96,924.57 L164.49,924.92 L164.82,925.53 L164.91,926.32 L164.78,927.20 L164.48,928.05 L164.07,928.76 L163.63,929.26 L163.26,929.47 L163.02,929.40 L162.99,929.06 L163.18,928.52 L163.60,927.87 L164.20,927.23 L164.94,926.70 L165.71,926.38 L166.44,926.33 L167.04,926.57 L167.45,927.08 L167.64,927.81 L167.60,928.66 L167.36,929.54 L166.98,930.32 L166.54,930.91 L166.13,931.24 L165.83,931.28 L165.71,931.04 L165.81,930.57 L166.15,929.96 L166.68,929.30 L167.37,928.71 L168.14,928.30 L168.90,928.13 L169.56,928.26 L170.05,928.66 L170.33,929.32 L170.38,930.13 L170.22,931.01 L169.88,931.84 L169.46,932.52 L169.03,932.96 L168.67,933.12 L168.48,932.99 L168.49,932.60 L168.73,932.03 L169.19,931.38 L169.82,930.75 L170.57,930.26 L171.34,929.99 L172.05,929.99 L172.62,930.29 L172.99,930.85 L173.13,931.61 L173.04,932.48 L172.77,933.34 L172.38,934.09 L171.94,934.64 L171.54,934.91 L171.27,934.90 L171.20,934.60 L171.34,934.10 L171.72,933.46 L172.29,932.81 L173.00,932.25 L173.78,931.88 L174.52,931.77 L175.15,931.96 L175.61,932.42 L175.84,933.11 L175.84,933.95 L175.64,934.83 L175.28,935.63 L174.85,936.27 L174.43,936.66 L174.10,936.76 L173.94,936.57 L174.00,936.14 L174.28,935.55 L174.78,934.89 L175.45,934.28 L176.21,933.82 L176.97,933.60 L177.66,933.67 L178.19,934.02 L178.52,934.63 L178.61,935.42 L178.48,936.30 L178.18,937.15 L177.77,937.86 L177.33,938.36 L176.96,938.57 L176.72,938.50 L176.69,938.16 L176.88,937.62 L177.30,936.97 L177.90,936.33 L178.64,935.80 L179.41,935.48 L180.14,935.43 L180.74,935.67 L181.15,936.18 L181.34,936.91 L181.30,937.76 L181.06,938.64" fill="none" stroke="#d9bfbc" stroke-width="0.6" stroke-linejoin="round"/>
<line x1="153.40" y1="929.60" x2="173.10" y2="935.20" stroke="#d9bfbc" stroke-width="2.30" stroke-opacity="0.8"/>
<path d="M154.55,929.93 L154.44,930.76 L154.21,931.44 L153.93,931.89 L153.65,932.05 L153.45,931.91 L153.36,931.50 L153.44,930.87 L153.70,930.12 L154.12,929.37 L154.69,928.71 L155.33,928.24 L156.01,928.04 L156.64,928.14 L157.18,928.53 L157.57,929.17 L157.79,929.98 L157.83,930.86 L157.72,931.69 L157.50,932.37 L157.21,932.82 L156.94,932.99 L156.73,932.85 L156.65,932.43 L156.73,931.80 L156.98,931.06 L157.41,930.30 L157.97,929.64 L158.62,929.17 L159.29,928.97 L159.93,929.07 L160.46,929.47 L160.85,930.11 L161.07,930.92 L161.12,931.79 L161.00,932.63 L160.78,933.31 L160.50,933.76 L160.22,933.92 L160.01,933.78 L159.93,933.36 L160.01,932.74 L160.27,931.99 L160.69,931.23 L161.25,930.57 L161.90,930.11 L162.57,929.91 L163.21,930.01 L163.75,930.40 L164.14,931.04 L164.36,931.85 L164.40,932.73 L164.29,933.56 L164.06,934.24 L163.78,934.69 L163.50,934.85 L163.30,934.71 L163.21,934.30 L163.29,933.67 L163.55,932.92 L163.97,932.17 L164.54,931.51 L165.18,931.04 L165.86,930.84 L166.49,930.94 L167.03,931.33 L167.42,931.97 L167.64,932.78 L167.68,933.66 L167.57,934.49 L167.35,935.17 L167.06,935.62 L166.79,935.79 L166.58,935.65 L166.50,935.23 L166.58,934.60 L166.83,933.86 L167.26,933.10 L167.82,932.44 L168.47,931.97 L169.14,931.77 L169.78,931.87 L170.31,932.27 L170.70,932.91 L170.92,933.72 L170.97,934.59 L170.85,935.43 L170.63,936.11 L170.35,936.56 L170.07,936.72 L169.86,936.58 L169.78,936.16 L169.86,935.54 L170.12,934.79 L170.54,934.03 L171.10,933.37 L171.75,932.91 L172.42,932.71 L173.06,932.81 L173.60,933.20 L173.99,933.84 L174.21,934.65 L174.25,935.53" fill="none" stroke="#5e4442" stroke-width="1.35" stroke-linejoin="round"/>
<path d="M154.55,929.93 L154.44,930.76 L154.21,931.44 L153.93,931.89 L153.65,932.05 L153.45,931.91 L153.36,931.50 L153.44,930.87 L153.70,930.12 L154.12,929.37 L154.69,928.71 L155.33,928.24 L156.01,928.04 L156.64,928.14 L157.18,928.53 L157.57,929.17 L157.79,929.98 L157.83,930.86 L157.72,931.69 L157.50,932.37 L157.21,932.82 L156.94,932.99 L156.73,932.85 L156.65,932.43 L156.73,931.80 L156.98,931.06 L157.41,930.30 L157.97,929.64 L158.62,929.17 L159.29,928.97 L159.93,929.07 L160.46,929.47 L160.85,930.11 L161.07,930.92 L161.12,931.79 L161.00,932.63 L160.78,933.31 L160.50,933.76 L160.22,933.92 L160.01,933.78 L159.93,933.36 L160.01,932.74 L160.27,931.99 L160.69,931.23 L161.25,930.57 L161.90,930.11 L162.57,929.91 L163.21,930.01 L163.75,930.40 L164.14,931.04 L164.36,931.85 L164.40,932.73 L164.29,933.56 L164.06,934.24 L163.78,934.69 L163.50,934.85 L163.30,934.71 L163.21,934.30 L163.29,933.67 L163.55,932.92 L163.97,932.17 L164.54,931.51 L165.18,931.04 L165.86,930.84 L166.49,930.94 L167.03,931.33 L167.42,931.97 L167.64,932.78 L167.68,933.66 L167.57,934.49 L167.35,935.17 L167.06,935.62 L166.79,935.79 L166.58,935.65 L166.50,935.23 L166.58,934.60 L166.83,933.86 L167.26,933.10 L167.82,932.44 L168.47,931.97 L169.14,931.77 L169.78,931.87 L170.31,932.27 L170.70,932.91 L170.92,933.72 L170.97,934.59 L170.85,935.43 L170.63,936.11 L170.35,936.56 L170.07,936.72 L169.86,936.58 L169.78,936.16 L169.86,935.54 L170.12,934.79 L170.54,934.03 L171.10,933.37 L171.75,932.91 L172.42,932.71 L173.06,932.81 L173.60,933.20 L173.99,933.84 L174.21,934.65 L174.25,935.53" fill="none" stroke="#d9bfbc" stroke-width="0.6" stroke-linejoin="round"/>
<path d="M181.5,933.2 L181.9,933.6 L182.4,934.0 L182.9,934.4 L183.4,934.6 L184.0,934.8 L184.6,934.9 L185.3,934.9 L185.7,935.0 L186.1,934.5 L186.5,934.0 L187.0,933.6 L187.6,933.3 L188.2,933.1 L188.9,933.0 L189.6,932.9 L190.2,932.8 L190.9,932.6 L191.5,932.3 L192.0,932.0 L192.4,931.5 L192.8,930.9 L193.2,930.3 L193.5,929.7 L194.6,929.2 L195.3,929.6 L195.9,930.2 L196.3,930.9 L196.6,931.6 L197.0,932.5 L197.7,932.4 L198.4,932.3 L199.0,932.1 L199.5,931.9 L200.0,931.5" fill="none" stroke="#987874" stroke-width="0.9" stroke-linejoin="round" stroke-linecap="round" />
<line x1="199.80" y1="931.00" x2="206.90" y2="937.30" stroke="#d9bfbc" stroke-width="1.90" stroke-opacity="0.8"/>
<path d="M200.63,931.74 L200.22,932.37 L199.77,932.80 L199.37,932.99 L199.12,932.93 L199.06,932.65 L199.25,932.21 L199.66,931.71 L200.27,931.24 L200.99,930.91 L201.74,930.78 L202.42,930.90 L202.95,931.27 L203.27,931.85 L203.35,932.57 L203.20,933.34 L202.87,934.06 L202.44,934.64 L202.00,934.99 L201.64,935.10 L201.44,934.96 L201.46,934.62 L201.73,934.15 L202.21,933.65 L202.86,933.21 L203.61,932.94 L204.34,932.89 L204.98,933.10 L205.45,933.54 L205.69,934.18 L205.69,934.93 L205.47,935.69 L205.10,936.37 L204.65,936.88 L204.23,937.16 L203.92,937.18 L203.79,936.97 L203.89,936.57 L204.23,936.08 L204.78,935.59 L205.47,935.20 L206.23,935.00 L206.94,935.03 L207.53,935.32 L207.92,935.84 L208.08,936.52 L208.00,937.29 L207.73,938.03" fill="none" stroke="#5e4442" stroke-width="1.35" stroke-linejoin="round"/>
<path d="M200.63,931.74 L200.22,932.37 L199.77,932.80 L199.37,932.99 L199.12,932.93 L199.06,932.65 L199.25,932.21 L199.66,931.71 L200.27,931.24 L200.99,930.91 L201.74,930.78 L202.42,930.90 L202.95,931.27 L203.27,931.85 L203.35,932.57 L203.20,933.34 L202.87,934.06 L202.44,934.64 L202.00,934.99 L201.64,935.10 L201.44,934.96 L201.46,934.62 L201.73,934.15 L202.21,933.65 L202.86,933.21 L203.61,932.94 L204.34,932.89 L204.98,933.10 L205.45,933.54 L205.69,934.18 L205.69,934.93 L205.47,935.69 L205.10,936.37 L204.65,936.88 L204.23,937.16 L203.92,937.18 L203.79,936.97 L203.89,936.57 L204.23,936.08 L204.78,935.59 L205.47,935.20 L206.23,935.00 L206.94,935.03 L207.53,935.32 L207.92,935.84 L208.08,936.52 L208.00,937.29 L207.73,938.03" fill="none" stroke="#d9bfbc" stroke-width="0.6" stroke-linejoin="round"/>
<path d="M206.3,936.9 L206.9,936.1 L208.0,935.6 L209.2,935.2 L210.1,934.6 L209.6,933.9 L210.2,933.6 L210.7,933.1 L211.3,932.7 L211.8,932.3 L212.4,932.1 L212.9,932.1 L213.4,932.3 L213.9,932.7 L214.4,933.2 L214.8,933.7 L215.3,934.1 L215.8,934.4 L216.3,934.6 L216.9,934.5 L217.4,934.3 L217.9,934.0 L218.5,933.6 L219.0,933.3 L219.5,933.1 L220.1,933.1 L220.6,933.2 L221.1,933.4 L221.6,933.8 L222.1,934.2 L222.6,934.5 L223.1,934.8 L223.6,934.9 L224.1,934.8 L224.6,934.5 L225.2,934.2 L225.7,933.9 L226.3,933.6 L226.8,933.4 L227.3,933.4 L227.8,933.6 L228.3,933.9 L228.8,934.3 L229.4,934.7 L229.9,935.0 L230.5,935.1 L231.0,935.1 L231.5,935.0 L232.0,934.6 L232.4,934.2 L232.8,933.7 L233.3,933.2 L233.7,932.8 L234.2,932.6 L234.7,932.4 L235.2,932.4 L235.7,932.5 L236.3,932.7 L236.9,932.8 L237.4,932.9 L238.0,932.9 L238.5,932.8 L238.9,932.6 L239.4,932.4 L239.9,932.1 L240.3,931.8 L240.8,931.6 L241.3,931.4 L241.8,931.4 L242.4,931.4 L242.9,931.5 L243.5,931.5 L244.0,931.5 L244.5,931.5" fill="none" stroke="#987874" stroke-width="0.9" stroke-linejoin="round" stroke-linecap="round" />
<circle cx="149.2" cy="931.3" r="1.7" fill="#1a1ad8"/>
<circle cx="244.4" cy="931" r="1.7" fill="#c41616"/>
<path d="M298.1,912.4 L297.5,912.3 L297.0,912.1 L296.4,912.0 L295.9,911.9 L295.4,911.9 L294.9,912.0 L294.4,912.2 L293.9,912.4 L293.5,912.7 L292.9,913.0 L293.3,919.8 L293.7,920.5 L294.1,921.3 L294.3,922.2 L294.7,923.0 L295.2,923.7 L295.8,924.3" fill="none" stroke="#987874" stroke-width="0.9" stroke-linejoin="round" stroke-linecap="round" />
<line x1="298.00" y1="912.00" x2="315.10" y2="927.10" stroke="#d9bfbc" stroke-width="2.30" stroke-opacity="0.8"/>
<path d="M298.86,912.75 L298.37,913.48 L297.85,914.01 L297.40,914.28 L297.10,914.27 L297.02,914.01 L297.20,913.55 L297.63,912.98 L298.26,912.40 L299.04,911.92 L299.86,911.62 L300.62,911.58 L301.25,911.81 L301.66,912.30 L301.82,913.00 L301.73,913.83 L301.42,914.68 L300.96,915.45 L300.44,916.04 L299.96,916.39 L299.61,916.46 L299.46,916.27 L299.57,915.86 L299.92,915.31 L300.51,914.72 L301.25,914.20 L302.06,913.84 L302.86,913.72 L303.53,913.87 L304.01,914.29 L304.24,914.94 L304.22,915.74 L303.97,916.60 L303.54,917.40 L303.03,918.05 L302.53,918.47 L302.13,918.63 L301.92,918.50 L301.95,918.15 L302.24,917.63 L302.76,917.04 L303.47,916.49 L304.27,916.08 L305.08,915.88 L305.80,915.96 L306.34,916.30 L306.64,916.90 L306.69,917.66 L306.50,918.51 L306.12,919.34 L305.62,920.04 L305.11,920.54 L304.67,920.77 L304.40,920.72 L304.36,920.43 L304.58,919.95 L305.03,919.37 L305.69,918.79 L306.48,918.33 L307.30,918.07 L308.05,918.07 L308.65,918.34 L309.03,918.86 L309.15,919.59 L309.02,920.42 L308.69,921.27 L308.21,922.02 L307.69,922.58 L307.23,922.89 L306.90,922.92 L306.79,922.69 L306.93,922.26 L307.32,921.69 L307.93,921.11 L308.69,920.61 L309.51,920.28 L310.29,920.20 L310.94,920.39 L311.39,920.85 L311.58,921.52 L311.53,922.34 L311.24,923.19 L310.80,923.98 L310.29,924.60 L309.79,924.98 L309.42,925.10 L309.24,924.94 L309.31,924.55 L309.63,924.02 L310.18,923.43 L310.91,922.89 L311.72,922.51 L312.52,922.35 L313.22,922.46 L313.73,922.85 L314.00,923.47 L314.01,924.25 L313.79,925.11 L313.38,925.92 L312.88,926.60 L312.37,927.06 L311.95,927.25 L311.71,927.17 L311.71,926.84 L311.96,926.34 L312.45,925.75 L313.13,925.19 L313.93,924.75 L314.74,924.53 L315.48,924.56 L316.05,924.87 L316.39,925.43 L316.47,926.17 L316.32,927.02 L315.96,927.86" fill="none" stroke="#5e4442" stroke-width="1.35" stroke-linejoin="round"/>
<path d="M298.86,912.75 L298.37,913.48 L297.85,914.01 L297.40,914.28 L297.10,914.27 L297.02,914.01 L297.20,913.55 L297.63,912.98 L298.26,912.40 L299.04,911.92 L299.86,911.62 L300.62,911.58 L301.25,911.81 L301.66,912.30 L301.82,913.00 L301.73,913.83 L301.42,914.68 L300.96,915.45 L300.44,916.04 L299.96,916.39 L299.61,916.46 L299.46,916.27 L299.57,915.86 L299.92,915.31 L300.51,914.72 L301.25,914.20 L302.06,913.84 L302.86,913.72 L303.53,913.87 L304.01,914.29 L304.24,914.94 L304.22,915.74 L303.97,916.60 L303.54,917.40 L303.03,918.05 L302.53,918.47 L302.13,918.63 L301.92,918.50 L301.95,918.15 L302.24,917.63 L302.76,917.04 L303.47,916.49 L304.27,916.08 L305.08,915.88 L305.80,915.96 L306.34,916.30 L306.64,916.90 L306.69,917.66 L306.50,918.51 L306.12,919.34 L305.62,920.04 L305.11,920.54 L304.67,920.77 L304.40,920.72 L304.36,920.43 L304.58,919.95 L305.03,919.37 L305.69,918.79 L306.48,918.33 L307.30,918.07 L308.05,918.07 L308.65,918.34 L309.03,918.86 L309.15,919.59 L309.02,920.42 L308.69,921.27 L308.21,922.02 L307.69,922.58 L307.23,922.89 L306.90,922.92 L306.79,922.69 L306.93,922.26 L307.32,921.69 L307.93,921.11 L308.69,920.61 L309.51,920.28 L310.29,920.20 L310.94,920.39 L311.39,920.85 L311.58,921.52 L311.53,922.34 L311.24,923.19 L310.80,923.98 L310.29,924.60 L309.79,924.98 L309.42,925.10 L309.24,924.94 L309.31,924.55 L309.63,924.02 L310.18,923.43 L310.91,922.89 L311.72,922.51 L312.52,922.35 L313.22,922.46 L313.73,922.85 L314.00,923.47 L314.01,924.25 L313.79,925.11 L313.38,925.92 L312.88,926.60 L312.37,927.06 L311.95,927.25 L311.71,927.17 L311.71,926.84 L311.96,926.34 L312.45,925.75 L313.13,925.19 L313.93,924.75 L314.74,924.53 L315.48,924.56 L316.05,924.87 L316.39,925.43 L316.47,926.17 L316.32,927.02 L315.96,927.86" fill="none" stroke="#d9bfbc" stroke-width="0.6" stroke-linejoin="round"/>
<line x1="296.00" y1="924.10" x2="319.10" y2="941.10" stroke="#d9bfbc" stroke-width="2.30" stroke-opacity="0.8"/>
<path d="M296.90,924.76 L296.47,925.54 L295.99,926.12 L295.56,926.42 L295.27,926.42 L295.20,926.13 L295.38,925.63 L295.80,924.99 L296.42,924.35 L297.19,923.81 L297.99,923.49 L298.73,923.44 L299.33,923.70 L299.71,924.24 L299.85,924.99 L299.74,925.87 L299.42,926.74 L298.98,927.51 L298.50,928.06 L298.08,928.33 L297.82,928.29 L297.77,927.98 L297.98,927.45 L298.42,926.81 L299.07,926.17 L299.84,925.66 L300.64,925.36 L301.37,925.34 L301.95,925.63 L302.31,926.20 L302.41,926.97 L302.28,927.85 L301.94,928.73 L301.49,929.47 L301.02,929.99 L300.61,930.23 L300.37,930.16 L300.35,929.82 L300.58,929.27 L301.05,928.62 L301.72,928.00 L302.50,927.50 L303.30,927.23 L304.01,927.25 L304.57,927.57 L304.90,928.17 L304.98,928.96 L304.81,929.84 L304.47,930.71 L304.01,931.43 L303.53,931.92 L303.14,932.12 L302.92,932.02 L302.93,931.65 L303.19,931.09 L303.69,930.44 L304.37,929.82 L305.15,929.35 L305.95,929.11 L306.65,929.16 L307.18,929.51 L307.49,930.13 L307.54,930.94 L307.35,931.83 L306.98,932.68 L306.52,933.38 L306.05,933.85 L305.68,934.01 L305.48,933.88 L305.51,933.49 L305.80,932.91 L306.32,932.26 L307.02,931.65 L307.81,931.19 L308.60,930.99 L309.29,931.07 L309.80,931.46 L310.07,932.10 L310.09,932.93 L309.88,933.82 L309.50,934.66 L309.03,935.34 L308.57,935.77 L308.21,935.90 L308.04,935.74 L308.10,935.32 L308.41,934.73 L308.96,934.07 L309.67,933.48 L310.47,933.05 L311.25,932.87 L311.92,932.99 L312.41,933.41 L312.65,934.08 L312.65,934.91 L312.42,935.81 L312.02,936.63 L311.54,937.29 L311.09,937.69 L310.75,937.79 L310.60,937.59 L310.69,937.15 L311.03,936.54 L311.60,935.89 L312.32,935.31 L313.12,934.90 L313.90,934.76 L314.55,934.91 L315.01,935.36 L315.23,936.05 L315.20,936.90 L314.95,937.79 L314.54,938.61 L314.06,939.24 L313.61,939.60 L313.29,939.67 L313.16,939.44 L313.28,938.98 L313.65,938.36 L314.24,937.71 L314.98,937.14 L315.78,936.76 L316.54,936.65 L317.18,936.84 L317.62,937.32 L317.81,938.03 L317.75,938.89 L317.47,939.78 L317.05,940.58 L316.57,941.18 L316.13,941.51 L315.83,941.55 L315.73,941.29 L315.88,940.80 L316.27,940.18 L316.88,939.53 L317.63,938.98 L318.43,938.62 L319.19,938.54 L319.81,938.76 L320.22,939.27 L320.38,940.01 L320.29,940.88 L320.00,941.76" fill="none" stroke="#5e4442" stroke-width="1.35" stroke-linejoin="round"/>
<path d="M296.90,924.76 L296.47,925.54 L295.99,926.12 L295.56,926.42 L295.27,926.42 L295.20,926.13 L295.38,925.63 L295.80,924.99 L296.42,924.35 L297.19,923.81 L297.99,923.49 L298.73,923.44 L299.33,923.70 L299.71,924.24 L299.85,924.99 L299.74,925.87 L299.42,926.74 L298.98,927.51 L298.50,928.06 L298.08,928.33 L297.82,928.29 L297.77,927.98 L297.98,927.45 L298.42,926.81 L299.07,926.17 L299.84,925.66 L300.64,925.36 L301.37,925.34 L301.95,925.63 L302.31,926.20 L302.41,926.97 L302.28,927.85 L301.94,928.73 L301.49,929.47 L301.02,929.99 L300.61,930.23 L300.37,930.16 L300.35,929.82 L300.58,929.27 L301.05,928.62 L301.72,928.00 L302.50,927.50 L303.30,927.23 L304.01,927.25 L304.57,927.57 L304.90,928.17 L304.98,928.96 L304.81,929.84 L304.47,930.71 L304.01,931.43 L303.53,931.92 L303.14,932.12 L302.92,932.02 L302.93,931.65 L303.19,931.09 L303.69,930.44 L304.37,929.82 L305.15,929.35 L305.95,929.11 L306.65,929.16 L307.18,929.51 L307.49,930.13 L307.54,930.94 L307.35,931.83 L306.98,932.68 L306.52,933.38 L306.05,933.85 L305.68,934.01 L305.48,933.88 L305.51,933.49 L305.80,932.91 L306.32,932.26 L307.02,931.65 L307.81,931.19 L308.60,930.99 L309.29,931.07 L309.80,931.46 L310.07,932.10 L310.09,932.93 L309.88,933.82 L309.50,934.66 L309.03,935.34 L308.57,935.77 L308.21,935.90 L308.04,935.74 L308.10,935.32 L308.41,934.73 L308.96,934.07 L309.67,933.48 L310.47,933.05 L311.25,932.87 L311.92,932.99 L312.41,933.41 L312.65,934.08 L312.65,934.91 L312.42,935.81 L312.02,936.63 L311.54,937.29 L311.09,937.69 L310.75,937.79 L310.60,937.59 L310.69,937.15 L311.03,936.54 L311.60,935.89 L312.32,935.31 L313.12,934.90 L313.90,934.76 L314.55,934.91 L315.01,935.36 L315.23,936.05 L315.20,936.90 L314.95,937.79 L314.54,938.61 L314.06,939.24 L313.61,939.60 L313.29,939.67 L313.16,939.44 L313.28,938.98 L313.65,938.36 L314.24,937.71 L314.98,937.14 L315.78,936.76 L316.54,936.65 L317.18,936.84 L317.62,937.32 L317.81,938.03 L317.75,938.89 L317.47,939.78 L317.05,940.58 L316.57,941.18 L316.13,941.51 L315.83,941.55 L315.73,941.29 L315.88,940.80 L316.27,940.18 L316.88,939.53 L317.63,938.98 L318.43,938.62 L319.19,938.54 L319.81,938.76 L320.22,939.27 L320.38,940.01 L320.29,940.88 L320.00,941.76" fill="none" stroke="#d9bfbc" stroke-width="0.6" stroke-linejoin="round"/>
<line x1="295.00" y1="931.10" x2="311.10" y2="937.10" stroke="#d9bfbc" stroke-width="2.30" stroke-opacity="0.8"/>
<path d="M296.13,931.52 L295.95,932.34 L295.67,933.00 L295.35,933.43 L295.06,933.57 L294.87,933.41 L294.82,932.99 L294.94,932.37 L295.26,931.65 L295.74,930.93 L296.36,930.31 L297.05,929.90 L297.74,929.76 L298.37,929.91 L298.87,930.35 L299.22,931.02 L299.37,931.84 L299.35,932.72 L299.17,933.54 L298.89,934.20 L298.57,934.63 L298.28,934.77 L298.09,934.61 L298.04,934.19 L298.16,933.57 L298.48,932.85 L298.96,932.13 L299.58,931.51 L300.27,931.10 L300.96,930.96 L301.59,931.11 L302.09,931.55 L302.44,932.22 L302.59,933.04 L302.57,933.92 L302.39,934.74 L302.11,935.40 L301.79,935.83 L301.50,935.97 L301.31,935.81 L301.26,935.39 L301.38,934.77 L301.70,934.05 L302.18,933.33 L302.80,932.71 L303.49,932.30 L304.18,932.16 L304.81,932.31 L305.31,932.75 L305.66,933.42 L305.81,934.24 L305.79,935.12 L305.61,935.94 L305.33,936.60 L305.01,937.03 L304.72,937.17 L304.53,937.01 L304.48,936.59 L304.60,935.97 L304.92,935.25 L305.40,934.53 L306.02,933.91 L306.71,933.50 L307.40,933.36 L308.03,933.51 L308.53,933.95 L308.88,934.62 L309.03,935.44 L309.01,936.32 L308.83,937.14 L308.55,937.80 L308.23,938.23 L307.94,938.37 L307.75,938.21 L307.70,937.79 L307.82,937.17 L308.14,936.45 L308.62,935.73 L309.24,935.11 L309.93,934.70 L310.62,934.56 L311.25,934.71 L311.75,935.15 L312.10,935.82 L312.25,936.64 L312.23,937.52" fill="none" stroke="#5e4442" stroke-width="1.35" stroke-linejoin="round"/>
<path d="M296.13,931.52 L295.95,932.34 L295.67,933.00 L295.35,933.43 L295.06,933.57 L294.87,933.41 L294.82,932.99 L294.94,932.37 L295.26,931.65 L295.74,930.93 L296.36,930.31 L297.05,929.90 L297.74,929.76 L298.37,929.91 L298.87,930.35 L299.22,931.02 L299.37,931.84 L299.35,932.72 L299.17,933.54 L298.89,934.20 L298.57,934.63 L298.28,934.77 L298.09,934.61 L298.04,934.19 L298.16,933.57 L298.48,932.85 L298.96,932.13 L299.58,931.51 L300.27,931.10 L300.96,930.96 L301.59,931.11 L302.09,931.55 L302.44,932.22 L302.59,933.04 L302.57,933.92 L302.39,934.74 L302.11,935.40 L301.79,935.83 L301.50,935.97 L301.31,935.81 L301.26,935.39 L301.38,934.77 L301.70,934.05 L302.18,933.33 L302.80,932.71 L303.49,932.30 L304.18,932.16 L304.81,932.31 L305.31,932.75 L305.66,933.42 L305.81,934.24 L305.79,935.12 L305.61,935.94 L305.33,936.60 L305.01,937.03 L304.72,937.17 L304.53,937.01 L304.48,936.59 L304.60,935.97 L304.92,935.25 L305.40,934.53 L306.02,933.91 L306.71,933.50 L307.40,933.36 L308.03,933.51 L308.53,933.95 L308.88,934.62 L309.03,935.44 L309.01,936.32 L308.83,937.14 L308.55,937.80 L308.23,938.23 L307.94,938.37 L307.75,938.21 L307.70,937.79 L307.82,937.17 L308.14,936.45 L308.62,935.73 L309.24,935.11 L309.93,934.70 L310.62,934.56 L311.25,934.71 L311.75,935.15 L312.10,935.82 L312.25,936.64 L312.23,937.52" fill="none" stroke="#d9bfbc" stroke-width="0.6" stroke-linejoin="round"/>
<path d="M315.6,926.6 L315.9,927.3 L316.3,927.9 L316.6,928.6 L317.1,929.4 L317.5,929.6 L318.0,929.7 L318.5,929.9 L319.0,930.0 L319.5,930.0 L320.0,930.1 L320.6,930.1 L321.1,930.1 L321.6,930.1 L322.1,930.1 L322.6,930.1 L323.1,930.1 L323.7,930.1 L324.2,930.1 L324.7,930.0 L325.2,930.0 L325.8,929.9 L326.3,929.9 L326.8,930.0 L327.3,930.1 L327.8,930.2 L328.3,930.4 L328.7,930.7 L329.2,931.0 L329.7,931.2 L330.3,931.4 L330.8,931.6 L331.3,931.7 L331.8,931.7 L332.3,931.7 L332.8,931.6 L333.3,931.3 L333.8,931.1 L334.2,930.8 L334.7,930.4 L335.2,930.1 L335.6,929.8 L336.1,929.6 L336.6,929.4 L337.1,929.3 L337.6,929.3 L338.1,929.3 L338.6,929.3 L339.1,929.4 L339.7,929.5 L340.2,929.5 L340.7,929.5 L341.2,929.6 L341.7,929.6 L342.2,929.7 L342.7,929.7 L343.3,929.8 L343.8,929.8 L344.3,929.9 L344.8,929.9 L345.3,929.9 L345.8,929.8 L346.3,929.7 L346.8,929.5 L347.3,929.2 L347.7,928.9 L348.2,928.5 L348.7,928.1 L349.1,927.8 L349.6,927.5 L350.1,927.3 L350.6,927.3 L351.1,927.3 L351.6,927.4 L352.2,927.6 L352.7,927.9 L353.3,928.2 L353.8,928.4 L354.3,928.6 L354.9,928.7 L355.4,928.7 L355.9,928.7 L356.4,928.6 L356.9,928.4 L357.3,928.2 L357.8,928.0 L358.3,927.7 L358.8,927.5 L359.3,927.4 L359.8,927.2 L360.3,927.1 L360.8,926.9 L361.5,926.8 L362.1,927.0 L362.6,927.3 L363.2,927.5 L363.7,927.8 L364.2,928.1 L364.7,928.5 L365.1,929.0 L365.4,929.6 L365.7,930.2 L366.0,930.9 L366.3,931.5 L367.4,932.2 L367.9,932.3 L368.4,932.2 L368.9,932.0 L369.4,931.7 L369.9,931.3 L370.3,930.9 L370.8,930.5 L371.3,930.1 L371.7,929.8 L372.2,929.6 L372.7,929.5 L373.2,929.5 L373.7,929.6 L374.3,929.7 L374.8,929.8 L375.3,930.0 L375.8,930.1 L376.4,930.1 L376.9,930.2 L377.4,930.2 L377.9,930.2 L378.4,930.1 L378.9,930.1 L379.4,930.2 L379.9,930.2 L380.4,930.2 L380.9,930.3 L381.5,930.3 L382.0,930.2 L382.5,930.1 L382.9,929.9 L383.4,929.6 L383.9,929.3 L384.4,928.9 L384.8,928.5 L385.4,928.2 L386.0,928.0 L386.5,927.9 L387.0,928.0 L387.5,928.2 L388.0,928.5 L388.4,928.8 L388.9,929.2 L389.4,929.6 L389.9,930.0 L390.4,930.2 L390.9,930.4 L391.4,930.4 L391.9,930.3 L392.4,930.2 L392.9,930.0 L393.4,929.8 L393.9,929.6 L394.4,929.5 L395.0,929.4 L395.5,929.4 L396.0,929.4 L396.5,929.4 L397.0,929.5 L397.5,929.5 L398.0,929.5 L398.5,929.5 L399.0,929.4 L399.5,929.3 L400.0,929.2 L400.5,929.2 L401.0,929.3 L401.5,929.4 L402.0,929.6 L402.5,929.9 L403.0,930.2 L403.5,930.5 L404.0,930.8 L404.4,931.0 L404.9,931.2 L405.3,931.2 L405.9,931.1 L406.4,930.9 L407.0,930.7 L407.5,930.4 L408.1,930.1 L408.6,929.9 L409.1,929.8 L409.7,929.7 L410.2,929.9 L410.6,930.1 L411.1,930.3 L411.6,930.7 L412.0,931.0 L412.5,931.3 L413.0,931.5 L413.5,931.6 L414.0,931.7 L414.5,931.7 L415.0,931.7 L415.5,931.7 L416.1,931.7 L416.6,931.7 L417.1,931.9 L417.5,932.0 L418.0,932.2 L418.5,932.4 L419.0,932.6 L419.5,932.7 L420.0,932.8 L420.5,932.7 L421.1,932.6 L421.6,932.4 L422.1,932.2 L422.7,932.0 L423.2,931.9 L423.7,931.9 L424.2,932.0 L424.7,932.2 L425.2,932.5 L425.6,932.9 L426.1,933.3 L426.6,933.6 L427.1,933.9 L427.6,934.1 L428.1,934.1 L428.6,934.1 L429.1,933.9 L429.7,933.7 L430.2,933.4 L430.7,933.2 L431.2,933.1" fill="none" stroke="#987874" stroke-width="0.9" stroke-linejoin="round" stroke-linecap="round" />
<circle cx="290" cy="931.7" r="1.7" fill="#1a1ad8"/>
<circle cx="431.2" cy="933.5" r="1.7" fill="#c41616"/>
<line x1="509.50" y1="927.00" x2="511.00" y2="954.00" stroke="#d9bfbc" stroke-width="2.20" stroke-opacity="0.8"/>
<path d="M509.57,928.18 L508.77,928.34 L508.08,928.35 L507.59,928.23 L507.36,928.02 L507.43,927.78 L507.80,927.57 L508.40,927.45 L509.17,927.45 L509.99,927.62 L510.76,927.95 L511.38,928.42 L511.75,929.00 L511.83,929.63 L511.61,930.26 L511.13,930.83 L510.44,931.28 L509.65,931.59 L508.87,931.73 L508.19,931.72 L507.73,931.58 L507.54,931.36 L507.65,931.12 L508.05,930.92 L508.68,930.81 L509.46,930.84 L510.28,931.03 L511.04,931.37 L511.62,931.86 L511.96,932.45 L512.01,933.08 L511.75,933.71 L511.24,934.27 L510.54,934.70 L509.74,934.99 L508.96,935.11 L508.31,935.08 L507.88,934.93 L507.72,934.71 L507.87,934.47 L508.30,934.28 L508.96,934.18 L509.75,934.23 L510.57,934.44 L511.31,934.80 L511.87,935.30 L512.17,935.90 L512.18,936.54 L511.89,937.16 L511.35,937.70 L510.63,938.12 L509.83,938.39 L509.06,938.49 L508.43,938.44 L508.03,938.28 L507.91,938.05 L508.10,937.82 L508.56,937.64 L509.24,937.56 L510.04,937.62 L510.86,937.85 L511.58,938.23 L512.11,938.75 L512.38,939.36 L512.35,939.99 L512.02,940.61 L511.45,941.14 L510.72,941.54 L509.91,941.78 L509.16,941.87 L508.56,941.80 L508.19,941.63 L508.11,941.40 L508.33,941.17 L508.82,940.99 L509.52,940.93 L510.33,941.02 L511.14,941.26 L511.85,941.67 L512.35,942.20 L512.58,942.81 L512.51,943.45 L512.15,944.05 L511.56,944.57 L510.80,944.95 L510.00,945.18 L509.26,945.24 L508.68,945.16 L508.35,944.98 L508.31,944.74 L508.56,944.52 L509.09,944.35 L509.81,944.31 L510.62,944.41 L511.43,944.68 L512.11,945.10 L512.58,945.64 L512.77,946.26 L512.67,946.90 L512.28,947.50 L511.66,948.00 L510.89,948.36 L510.09,948.57 L509.36,948.61 L508.81,948.52 L508.51,948.33 L508.51,948.09 L508.80,947.87 L509.36,947.72 L510.09,947.69 L510.91,947.81 L511.71,948.10 L512.37,948.54 L512.81,949.09 L512.96,949.72 L512.82,950.36 L512.40,950.94 L511.75,951.43 L510.98,951.77 L510.18,951.96 L509.47,951.98 L508.95,951.87 L508.69,951.67 L508.72,951.43 L509.05,951.22 L509.63,951.08 L510.38,951.07 L511.20,951.21 L511.99,951.52 L512.62,951.98 L513.03,952.54 L513.15,953.17 L512.97,953.81 L512.51,954.39 L511.85,954.86 L511.07,955.18" fill="none" stroke="#5e4442" stroke-width="1.35" stroke-linejoin="round"/>
<path d="M509.57,928.18 L508.77,928.34 L508.08,928.35 L507.59,928.23 L507.36,928.02 L507.43,927.78 L507.80,927.57 L508.40,927.45 L509.17,927.45 L509.99,927.62 L510.76,927.95 L511.38,928.42 L511.75,929.00 L511.83,929.63 L511.61,930.26 L511.13,930.83 L510.44,931.28 L509.65,931.59 L508.87,931.73 L508.19,931.72 L507.73,931.58 L507.54,931.36 L507.65,931.12 L508.05,930.92 L508.68,930.81 L509.46,930.84 L510.28,931.03 L511.04,931.37 L511.62,931.86 L511.96,932.45 L512.01,933.08 L511.75,933.71 L511.24,934.27 L510.54,934.70 L509.74,934.99 L508.96,935.11 L508.31,935.08 L507.88,934.93 L507.72,934.71 L507.87,934.47 L508.30,934.28 L508.96,934.18 L509.75,934.23 L510.57,934.44 L511.31,934.80 L511.87,935.30 L512.17,935.90 L512.18,936.54 L511.89,937.16 L511.35,937.70 L510.63,938.12 L509.83,938.39 L509.06,938.49 L508.43,938.44 L508.03,938.28 L507.91,938.05 L508.10,937.82 L508.56,937.64 L509.24,937.56 L510.04,937.62 L510.86,937.85 L511.58,938.23 L512.11,938.75 L512.38,939.36 L512.35,939.99 L512.02,940.61 L511.45,941.14 L510.72,941.54 L509.91,941.78 L509.16,941.87 L508.56,941.80 L508.19,941.63 L508.11,941.40 L508.33,941.17 L508.82,940.99 L509.52,940.93 L510.33,941.02 L511.14,941.26 L511.85,941.67 L512.35,942.20 L512.58,942.81 L512.51,943.45 L512.15,944.05 L511.56,944.57 L510.80,944.95 L510.00,945.18 L509.26,945.24 L508.68,945.16 L508.35,944.98 L508.31,944.74 L508.56,944.52 L509.09,944.35 L509.81,944.31 L510.62,944.41 L511.43,944.68 L512.11,945.10 L512.58,945.64 L512.77,946.26 L512.67,946.90 L512.28,947.50 L511.66,948.00 L510.89,948.36 L510.09,948.57 L509.36,948.61 L508.81,948.52 L508.51,948.33 L508.51,948.09 L508.80,947.87 L509.36,947.72 L510.09,947.69 L510.91,947.81 L511.71,948.10 L512.37,948.54 L512.81,949.09 L512.96,949.72 L512.82,950.36 L512.40,950.94 L511.75,951.43 L510.98,951.77 L510.18,951.96 L509.47,951.98 L508.95,951.87 L508.69,951.67 L508.72,951.43 L509.05,951.22 L509.63,951.08 L510.38,951.07 L511.20,951.21 L511.99,951.52 L512.62,951.98 L513.03,952.54 L513.15,953.17 L512.97,953.81 L512.51,954.39 L511.85,954.86 L511.07,955.18" fill="none" stroke="#d9bfbc" stroke-width="0.6" stroke-linejoin="round"/>
<line x1="514.20" y1="932.00" x2="516.00" y2="951.00" stroke="#d9bfbc" stroke-width="2.00" stroke-opacity="0.8"/>
<path d="M514.31,933.11 L513.55,933.30 L512.89,933.31 L512.45,933.19 L512.28,932.97 L512.43,932.73 L512.87,932.53 L513.53,932.43 L514.31,932.49 L515.10,932.71 L515.78,933.11 L516.24,933.65 L516.42,934.27 L516.29,934.91 L515.87,935.50 L515.23,935.99 L514.48,936.32 L513.73,936.48 L513.10,936.47 L512.70,936.32 L512.59,936.10 L512.78,935.86 L513.26,935.67 L513.95,935.60 L514.75,935.68 L515.53,935.94 L516.18,936.36 L516.60,936.91 L516.72,937.54 L516.54,938.18 L516.07,938.76 L515.41,939.22 L514.65,939.52 L513.91,939.65 L513.32,939.62 L512.96,939.45 L512.90,939.22 L513.14,938.99 L513.66,938.81 L514.38,938.76 L515.18,938.88 L515.95,939.16 L516.57,939.61 L516.94,940.18 L517.01,940.81 L516.78,941.45 L516.27,942.01 L515.59,942.45 L514.82,942.72 L514.10,942.82 L513.54,942.76 L513.23,942.59 L513.22,942.35 L513.51,942.12 L514.07,941.96 L514.81,941.94 L515.62,942.08 L516.37,942.39 L516.95,942.86 L517.27,943.45 L517.29,944.09 L517.01,944.72 L516.47,945.26 L515.76,945.67 L514.99,945.92 L514.29,945.99 L513.77,945.91 L513.50,945.72 L513.55,945.47 L513.89,945.25 L514.49,945.12 L515.24,945.12 L516.05,945.29 L516.78,945.63 L517.32,946.12 L517.60,946.72 L517.57,947.36 L517.24,947.98 L516.66,948.51 L515.93,948.89 L515.17,949.11 L514.49,949.15 L514.00,949.05 L513.79,948.84 L513.88,948.60 L514.27,948.39 L514.90,948.27 L515.68,948.30 L516.48,948.50 L517.18,948.87 L517.69,949.38 L517.91,949.99 L517.83,950.64 L517.46,951.24 L516.85,951.75 L516.11,952.11" fill="none" stroke="#5e4442" stroke-width="1.35" stroke-linejoin="round"/>
<path d="M514.31,933.11 L513.55,933.30 L512.89,933.31 L512.45,933.19 L512.28,932.97 L512.43,932.73 L512.87,932.53 L513.53,932.43 L514.31,932.49 L515.10,932.71 L515.78,933.11 L516.24,933.65 L516.42,934.27 L516.29,934.91 L515.87,935.50 L515.23,935.99 L514.48,936.32 L513.73,936.48 L513.10,936.47 L512.70,936.32 L512.59,936.10 L512.78,935.86 L513.26,935.67 L513.95,935.60 L514.75,935.68 L515.53,935.94 L516.18,936.36 L516.60,936.91 L516.72,937.54 L516.54,938.18 L516.07,938.76 L515.41,939.22 L514.65,939.52 L513.91,939.65 L513.32,939.62 L512.96,939.45 L512.90,939.22 L513.14,938.99 L513.66,938.81 L514.38,938.76 L515.18,938.88 L515.95,939.16 L516.57,939.61 L516.94,940.18 L517.01,940.81 L516.78,941.45 L516.27,942.01 L515.59,942.45 L514.82,942.72 L514.10,942.82 L513.54,942.76 L513.23,942.59 L513.22,942.35 L513.51,942.12 L514.07,941.96 L514.81,941.94 L515.62,942.08 L516.37,942.39 L516.95,942.86 L517.27,943.45 L517.29,944.09 L517.01,944.72 L516.47,945.26 L515.76,945.67 L514.99,945.92 L514.29,945.99 L513.77,945.91 L513.50,945.72 L513.55,945.47 L513.89,945.25 L514.49,945.12 L515.24,945.12 L516.05,945.29 L516.78,945.63 L517.32,946.12 L517.60,946.72 L517.57,947.36 L517.24,947.98 L516.66,948.51 L515.93,948.89 L515.17,949.11 L514.49,949.15 L514.00,949.05 L513.79,948.84 L513.88,948.60 L514.27,948.39 L514.90,948.27 L515.68,948.30 L516.48,948.50 L517.18,948.87 L517.69,949.38 L517.91,949.99 L517.83,950.64 L517.46,951.24 L516.85,951.75 L516.11,952.11" fill="none" stroke="#d9bfbc" stroke-width="0.6" stroke-linejoin="round"/>
<line x1="515.90" y1="937.10" x2="533.60" y2="926.70" stroke="#d9bfbc" stroke-width="2.30" stroke-opacity="0.8"/>
<path d="M516.93,936.49 L517.46,937.15 L517.80,937.78 L517.92,938.30 L517.85,938.61 L517.61,938.66 L517.25,938.44 L516.85,937.95 L516.49,937.25 L516.23,936.41 L516.14,935.55 L516.26,934.76 L516.58,934.14 L517.09,933.74 L517.75,933.63 L518.48,933.79 L519.22,934.19 L519.88,934.76 L520.41,935.42 L520.75,936.05 L520.87,936.57 L520.80,936.88 L520.56,936.93 L520.20,936.70 L519.80,936.21 L519.44,935.51 L519.18,934.68 L519.09,933.82 L519.21,933.03 L519.53,932.40 L520.04,932.01 L520.70,931.89 L521.43,932.05 L522.17,932.45 L522.83,933.03 L523.36,933.68 L523.70,934.32 L523.82,934.83 L523.75,935.14 L523.51,935.20 L523.15,934.97 L522.75,934.48 L522.39,933.78 L522.13,932.95 L522.04,932.09 L522.16,931.29 L522.48,930.67 L522.99,930.28 L523.65,930.16 L524.38,930.32 L525.12,930.72 L525.78,931.29 L526.31,931.95 L526.65,932.58 L526.77,933.10 L526.70,933.41 L526.46,933.46 L526.10,933.24 L525.70,932.75 L525.34,932.05 L525.08,931.21 L524.99,930.35 L525.11,929.56 L525.43,928.94 L525.94,928.54 L526.60,928.43 L527.33,928.59 L528.07,928.99 L528.73,929.56 L529.26,930.22 L529.60,930.85 L529.72,931.37 L529.65,931.68 L529.41,931.73 L529.05,931.50 L528.65,931.01 L528.29,930.31 L528.03,929.48 L527.94,928.62 L528.06,927.83 L528.38,927.20 L528.89,926.81 L529.55,926.69 L530.28,926.85 L531.02,927.25 L531.68,927.83 L532.21,928.48 L532.55,929.12 L532.67,929.63 L532.60,929.94 L532.36,930.00 L532.00,929.77 L531.60,929.28 L531.24,928.58 L530.98,927.75 L530.89,926.89 L531.01,926.09 L531.33,925.47 L531.84,925.08 L532.50,924.96 L533.23,925.12 L533.97,925.52 L534.63,926.09" fill="none" stroke="#5e4442" stroke-width="1.35" stroke-linejoin="round"/>
<path d="M516.93,936.49 L517.46,937.15 L517.80,937.78 L517.92,938.30 L517.85,938.61 L517.61,938.66 L517.25,938.44 L516.85,937.95 L516.49,937.25 L516.23,936.41 L516.14,935.55 L516.26,934.76 L516.58,934.14 L517.09,933.74 L517.75,933.63 L518.48,933.79 L519.22,934.19 L519.88,934.76 L520.41,935.42 L520.75,936.05 L520.87,936.57 L520.80,936.88 L520.56,936.93 L520.20,936.70 L519.80,936.21 L519.44,935.51 L519.18,934.68 L519.09,933.82 L519.21,933.03 L519.53,932.40 L520.04,932.01 L520.70,931.89 L521.43,932.05 L522.17,932.45 L522.83,933.03 L523.36,933.68 L523.70,934.32 L523.82,934.83 L523.75,935.14 L523.51,935.20 L523.15,934.97 L522.75,934.48 L522.39,933.78 L522.13,932.95 L522.04,932.09 L522.16,931.29 L522.48,930.67 L522.99,930.28 L523.65,930.16 L524.38,930.32 L525.12,930.72 L525.78,931.29 L526.31,931.95 L526.65,932.58 L526.77,933.10 L526.70,933.41 L526.46,933.46 L526.10,933.24 L525.70,932.75 L525.34,932.05 L525.08,931.21 L524.99,930.35 L525.11,929.56 L525.43,928.94 L525.94,928.54 L526.60,928.43 L527.33,928.59 L528.07,928.99 L528.73,929.56 L529.26,930.22 L529.60,930.85 L529.72,931.37 L529.65,931.68 L529.41,931.73 L529.05,931.50 L528.65,931.01 L528.29,930.31 L528.03,929.48 L527.94,928.62 L528.06,927.83 L528.38,927.20 L528.89,926.81 L529.55,926.69 L530.28,926.85 L531.02,927.25 L531.68,927.83 L532.21,928.48 L532.55,929.12 L532.67,929.63 L532.60,929.94 L532.36,930.00 L532.00,929.77 L531.60,929.28 L531.24,928.58 L530.98,927.75 L530.89,926.89 L531.01,926.09 L531.33,925.47 L531.84,925.08 L532.50,924.96 L533.23,925.12 L533.97,925.52 L534.63,926.09" fill="none" stroke="#d9bfbc" stroke-width="0.6" stroke-linejoin="round"/>
<path d="M533.5,926.5 L534.0,926.2 L534.6,925.9 L535.2,925.7 L535.9,925.5 L536.5,925.2 L537.0,924.9 L537.5,924.4 L538.0,924.0 L538.4,923.4 L538.8,922.8 L539.3,922.3 L539.9,922.0 L540.6,921.7 L541.3,921.5 L542.0,921.2 L542.6,920.9 L543.0,920.4 L543.1,919.7 L543.8,919.7 L544.5,919.7 L545.2,919.8 L545.8,920.0 L546.5,920.6 L546.7,921.4 L546.8,922.4 L547.0,923.3 L547.4,924.0" fill="none" stroke="#987874" stroke-width="0.9" stroke-linejoin="round" stroke-linecap="round" />
<line x1="548.00" y1="923.50" x2="567.30" y2="923.50" stroke="#d9bfbc" stroke-width="2.30" stroke-opacity="0.8"/>
<path d="M549.13,923.50 L549.24,924.38 L549.20,925.13 L549.03,925.62 L548.80,925.80 L548.57,925.62 L548.41,925.13 L548.37,924.38 L548.48,923.50 L548.77,922.62 L549.21,921.87 L549.78,921.38 L550.41,921.20 L551.04,921.38 L551.61,921.87 L552.06,922.62 L552.34,923.50 L552.46,924.38 L552.41,925.13 L552.25,925.62 L552.02,925.80 L551.79,925.62 L551.63,925.13 L551.58,924.38 L551.70,923.50 L551.99,922.62 L552.43,921.87 L553.00,921.38 L553.63,921.20 L554.26,921.38 L554.83,921.87 L555.27,922.62 L555.56,923.50 L555.67,924.38 L555.63,925.13 L555.47,925.62 L555.24,925.80 L555.01,925.62 L554.84,925.13 L554.80,924.38 L554.92,923.50 L555.20,922.62 L555.65,921.87 L556.21,921.38 L556.85,921.20 L557.48,921.38 L558.04,921.87 L558.49,922.62 L558.78,923.50 L558.89,924.38 L558.85,925.13 L558.68,925.62 L558.45,925.80 L558.22,925.62 L558.06,925.13 L558.02,924.38 L558.13,923.50 L558.42,922.62 L558.86,921.87 L559.43,921.38 L560.06,921.20 L560.69,921.38 L561.26,921.87 L561.71,922.62 L561.99,923.50 L562.11,924.38 L562.06,925.13 L561.90,925.62 L561.67,925.80 L561.44,925.62 L561.28,925.13 L561.23,924.38 L561.35,923.50 L561.64,922.62 L562.08,921.87 L562.65,921.38 L563.28,921.20 L563.91,921.38 L564.48,921.87 L564.92,922.62 L565.21,923.50 L565.32,924.38 L565.28,925.13 L565.12,925.62 L564.89,925.80 L564.66,925.62 L564.49,925.13 L564.45,924.38 L564.57,923.50 L564.85,922.62 L565.30,921.87 L565.86,921.38 L566.50,921.20 L567.13,921.38 L567.69,921.87 L568.14,922.62 L568.43,923.50" fill="none" stroke="#5e4442" stroke-width="1.35" stroke-linejoin="round"/>
<path d="M549.13,923.50 L549.24,924.38 L549.20,925.13 L549.03,925.62 L548.80,925.80 L548.57,925.62 L548.41,925.13 L548.37,924.38 L548.48,923.50 L548.77,922.62 L549.21,921.87 L549.78,921.38 L550.41,921.20 L551.04,921.38 L551.61,921.87 L552.06,922.62 L552.34,923.50 L552.46,924.38 L552.41,925.13 L552.25,925.62 L552.02,925.80 L551.79,925.62 L551.63,925.13 L551.58,924.38 L551.70,923.50 L551.99,922.62 L552.43,921.87 L553.00,921.38 L553.63,921.20 L554.26,921.38 L554.83,921.87 L555.27,922.62 L555.56,923.50 L555.67,924.38 L555.63,925.13 L555.47,925.62 L555.24,925.80 L555.01,925.62 L554.84,925.13 L554.80,924.38 L554.92,923.50 L555.20,922.62 L555.65,921.87 L556.21,921.38 L556.85,921.20 L557.48,921.38 L558.04,921.87 L558.49,922.62 L558.78,923.50 L558.89,924.38 L558.85,925.13 L558.68,925.62 L558.45,925.80 L558.22,925.62 L558.06,925.13 L558.02,924.38 L558.13,923.50 L558.42,922.62 L558.86,921.87 L559.43,921.38 L560.06,921.20 L560.69,921.38 L561.26,921.87 L561.71,922.62 L561.99,923.50 L562.11,924.38 L562.06,925.13 L561.90,925.62 L561.67,925.80 L561.44,925.62 L561.28,925.13 L561.23,924.38 L561.35,923.50 L561.64,922.62 L562.08,921.87 L562.65,921.38 L563.28,921.20 L563.91,921.38 L564.48,921.87 L564.92,922.62 L565.21,923.50 L565.32,924.38 L565.28,925.13 L565.12,925.62 L564.89,925.80 L564.66,925.62 L564.49,925.13 L564.45,924.38 L564.57,923.50 L564.85,922.62 L565.30,921.87 L565.86,921.38 L566.50,921.20 L567.13,921.38 L567.69,921.87 L568.14,922.62 L568.43,923.50" fill="none" stroke="#d9bfbc" stroke-width="0.6" stroke-linejoin="round"/>
<path d="M566.2,922.4 L567.1,921.7 L568.4,921.2 L568.9,921.2 L569.4,921.5 L569.9,921.6 L570.4,921.6 L570.9,921.4 L571.4,921.0 L571.9,920.6 L572.4,920.2 L572.9,919.8 L573.4,919.4 L574.0,919.2 L574.5,919.2 L575.0,919.3 L575.5,919.5 L576.0,919.8 L576.5,920.1 L577.0,920.4 L577.5,920.7 L578.0,920.8 L578.1,920.8 L578.7,921.1 L579.2,921.4 L579.9,921.6 L580.5,921.8 L581.0,922.1 L581.5,922.4 L582.0,922.8 L582.5,923.2 L582.9,923.6 L583.4,924.0 L583.9,924.4 L584.5,924.7 L585.0,924.9 L585.5,924.7 L586.0,924.6 L586.5,924.6 L587.0,924.6 L587.5,924.6 L588.0,924.7 L588.5,924.9 L589.0,925.2 L589.5,925.5 L590.0,925.7 L590.5,925.9 L591.0,926.1 L591.5,926.2 L592.0,926.2 L592.5,926.1 L593.0,926.0 L593.5,925.8 L594.0,925.7 L594.5,925.5 L595.0,925.4 L595.5,925.3 L596.0,925.3 L596.5,925.3 L597.0,925.3 L597.5,925.3 L598.0,925.4 L598.5,925.5 L599.0,925.5 L599.5,925.6 L600.0,925.8 L600.5,925.9 L601.0,926.1 L601.5,926.3 L602.0,926.5 L602.5,926.8 L603.0,927.0 L603.5,927.2 L604.0,927.2 L604.5,927.2 L605.0,927.1 L605.5,926.8 L606.0,926.5 L606.5,926.1 L607.0,925.6 L607.6,925.3 L608.1,925.0 L608.6,924.8 L609.1,924.8 L609.6,925.0 L610.1,925.4 L610.5,925.9 L611.0,926.5 L611.5,927.1 L611.9,927.6 L612.4,928.1 L612.9,928.4 L613.4,928.4 L613.9,928.3 L614.4,928.0 L615.0,927.5 L615.5,926.9 L616.0,926.4 L616.5,925.8 L616.9,925.4 L617.4,925.2 L617.9,925.1 L618.4,925.2 L618.9,925.4 L619.5,925.7 L620.0,926.1 L620.5,926.5 L621.0,926.8 L621.5,927.0 L622.0,927.1 L622.5,927.1 L623.0,927.1 L623.5,926.9 L624.0,926.7 L624.5,926.6 L625.0,926.4 L625.5,926.3 L626.0,926.2 L626.5,926.2 L627.0,926.2 L627.5,926.2 L628.0,926.1 L628.5,926.1 L629.0,926.0 L629.5,925.8 L630.0,925.7 L630.5,925.5 L631.0,925.4 L631.5,925.4 L632.0,925.4 L632.5,925.5 L633.0,925.7 L633.5,925.9 L634.0,926.2 L634.5,926.5 L635.0,926.8 L635.5,927.1 L636.0,927.3 L636.4,927.3 L637.0,927.3 L637.5,927.2 L638.0,927.0 L638.5,926.7 L639.0,926.4 L639.5,926.2 L640.0,926.0 L640.5,925.8 L641.0,925.7 L641.5,925.7 L642.0,925.8 L642.5,925.9 L643.0,926.1 L643.5,926.3 L644.0,926.4 L644.5,926.6 L645.0,926.8 L645.5,927.0 L646.0,927.2 L646.5,927.4 L647.0,927.5 L647.5,927.7 L648.0,927.8 L648.5,927.8 L649.0,927.8 L649.5,927.7 L650.0,927.5 L650.5,927.2 L651.0,926.8 L651.5,926.4 L652.0,926.1 L652.4,925.7 L652.9,925.5 L653.4,925.4 L653.9,925.4 L654.4,925.6 L655.0,926.0 L655.5,926.4 L656.0,926.9 L656.5,927.4 L657.1,927.8 L657.6,928.1 L658.1,928.3 L658.6,928.2 L659.1,927.9 L659.6,927.5 L660.0,927.0 L660.5,926.4 L661.0,925.9 L661.4,925.4 L661.9,925.1 L662.4,924.9 L662.9,924.9 L663.4,925.1 L664.0,925.4 L664.5,925.8 L665.0,926.2 L665.5,926.6 L666.0,926.9 L666.5,927.0 L667.0,927.1 L667.5,927.0 L668.0,926.8 L668.5,926.5 L669.0,926.2 L669.5,926.0 L670.0,925.8 L670.5,925.7 L671.0,925.7 L671.5,925.7 L672.0,925.8 L672.5,926.0 L673.0,926.1 L673.5,926.2 L674.0,926.2 L674.5,926.1 L675.0,926.0 L675.5,925.9 L676.0,925.7 L676.5,925.6 L677.0,925.5 L677.5,925.5 L678.0,925.5 L678.5,925.7 L679.0,925.8 L679.5,926.1 L680.0,926.3 L680.5,926.5 L681.0,926.7 L681.5,926.7 L682.0,926.7 L682.5,926.6 L683.0,926.4 L683.5,926.2 L684.0,926.0 L684.5,925.8 L685.0,925.6 L685.5,925.5 L686.0,925.4 L686.5,925.4 L687.0,925.5 L687.5,925.6 L688.0,925.7 L688.5,925.9 L689.0,926.0 L689.5,926.1 L690.0,926.1 L690.5,926.2" fill="none" stroke="#987874" stroke-width="0.9" stroke-linejoin="round" stroke-linecap="round" />
<circle cx="509.8" cy="925.1" r="1.7" fill="#1a1ad8"/>
<circle cx="690.5" cy="926" r="1.7" fill="#c41616"/>
</svg>
</body></html>
